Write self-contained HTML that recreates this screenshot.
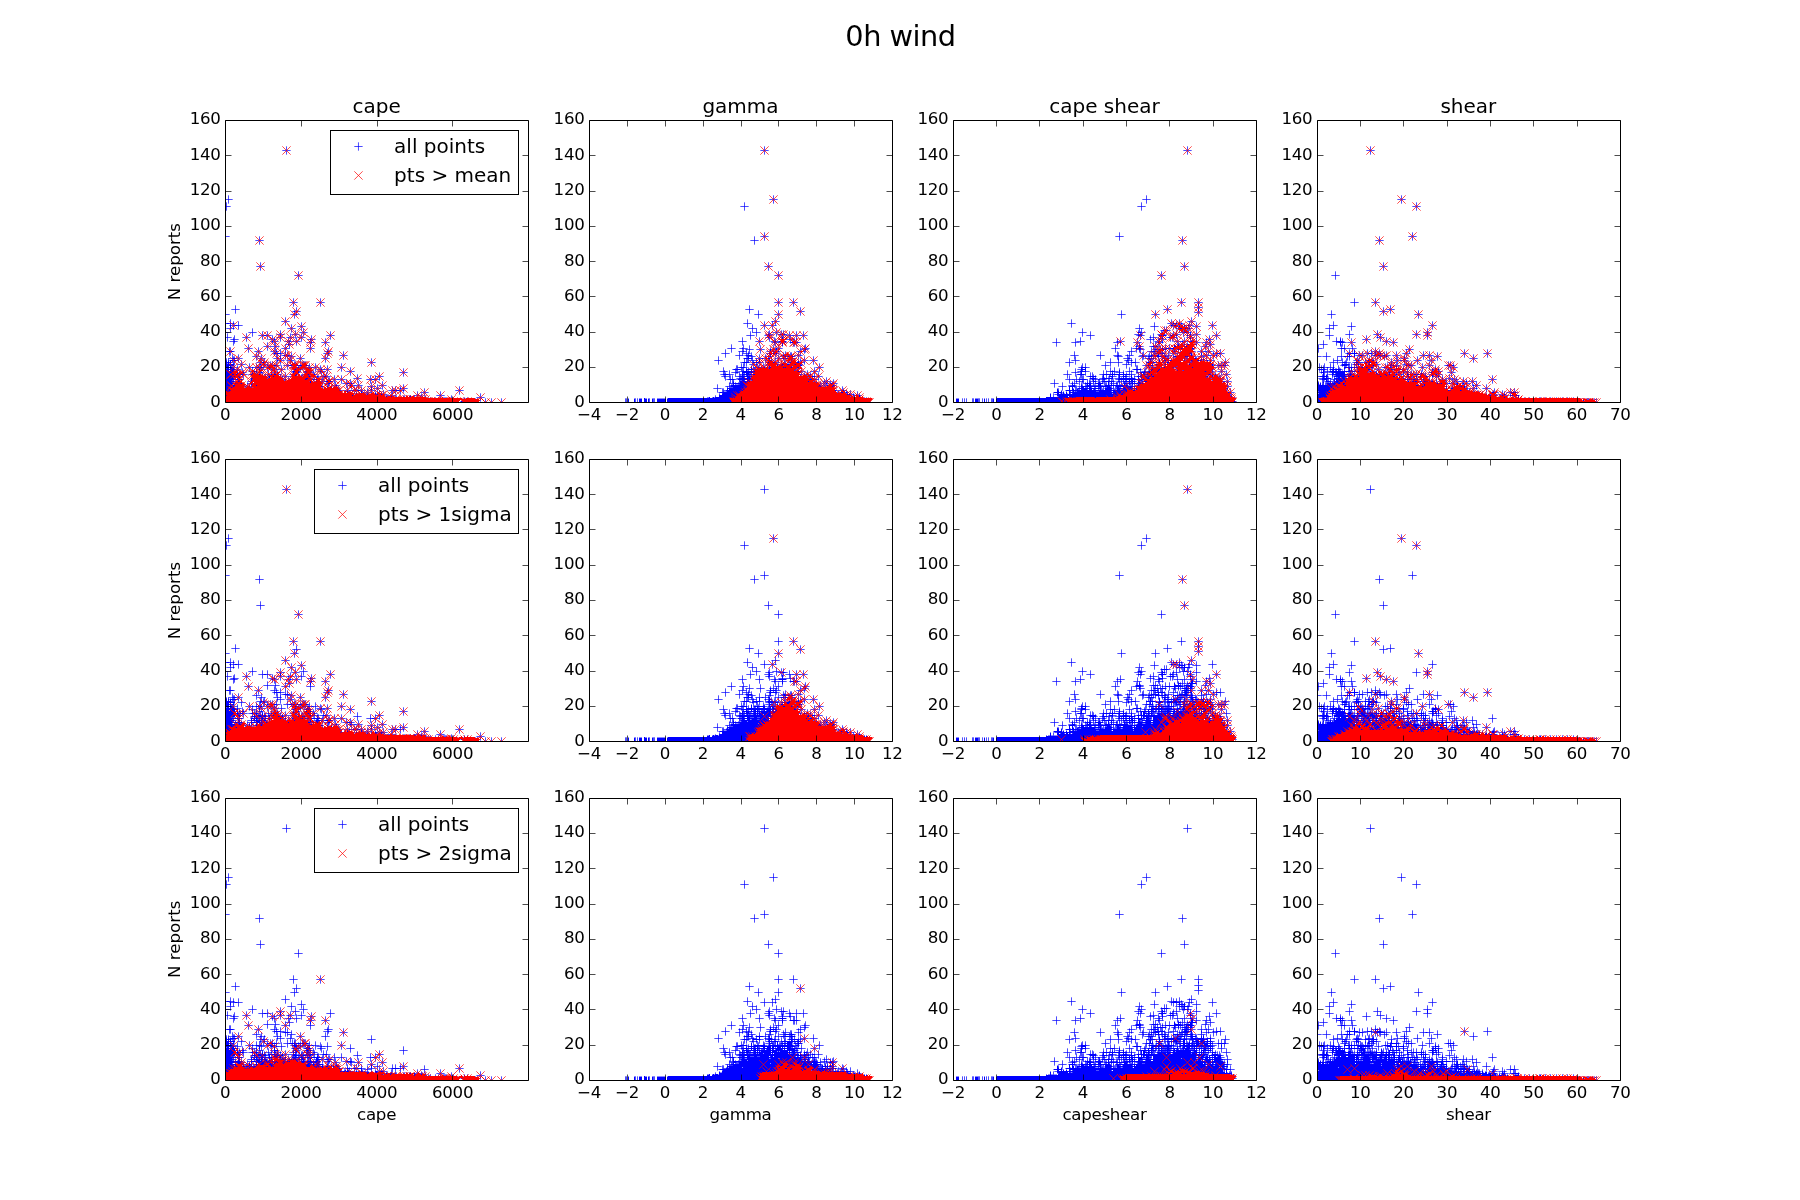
<!DOCTYPE html>
<html><head><meta charset="utf-8"><title>0h wind</title><style>html,body{margin:0;padding:0;background:#fff;width:1800px;height:1200px;overflow:hidden}svg{display:block;will-change:transform}</style></head><body>
<svg width="1800" height="1200" viewBox="0 0 1800 1200">
<defs>
<marker id="b" markerUnits="userSpaceOnUse" overflow="visible" markerWidth="1" markerHeight="1"><path d="M-4.17 0H4.17M0-4.17V4.17" stroke="#0000ff" stroke-width="0.7"/></marker>
<marker id="r" markerUnits="userSpaceOnUse" overflow="visible" markerWidth="1" markerHeight="1"><path d="M-4.17-4.17L4.17 4.17M-4.17 4.17L4.17-4.17" stroke="#ff0000" stroke-width="0.7"/></marker>
<clipPath id="c00"><rect x="225" y="120" width="303" height="282"/></clipPath>
<clipPath id="c01"><rect x="589" y="120" width="303" height="282"/></clipPath>
<clipPath id="c02"><rect x="953" y="120" width="303" height="282"/></clipPath>
<clipPath id="c03"><rect x="1317" y="120" width="303" height="282"/></clipPath>
<clipPath id="c10"><rect x="225" y="459" width="303" height="282"/></clipPath>
<clipPath id="c11"><rect x="589" y="459" width="303" height="282"/></clipPath>
<clipPath id="c12"><rect x="953" y="459" width="303" height="282"/></clipPath>
<clipPath id="c13"><rect x="1317" y="459" width="303" height="282"/></clipPath>
<clipPath id="c20"><rect x="225" y="798" width="303" height="282"/></clipPath>
<clipPath id="c21"><rect x="589" y="798" width="303" height="282"/></clipPath>
<clipPath id="c22"><rect x="953" y="798" width="303" height="282"/></clipPath>
<clipPath id="c23"><rect x="1317" y="798" width="303" height="282"/></clipPath>
</defs>
<rect width="1800" height="1200" fill="#fff"/>
<g clip-path="url(#c00)" fill="none" stroke="none">
<path stroke="#0000ff" stroke-width="1" d="M294 311.5h1M296 314.5h1M227 323.5h2m4 0h1M230 325.5h1m4 0h2M230 326.5h1M233 328.5h1M264 335.5h2m14 0h1M280 336.5h1M233 339.5h1m40 0h1m35 0h1M234 341.5h1m37 0h1m16 0h1M311 342.5h1M288 344.5h1M310 345.5h1M227 351.5h6m43 0h1m50 0h1M274 353.5h6m48 0h1M284 355.5h5M233 358.5h3m44 0h1M230 360.5h7m40 0h1M226 361.5h1m1 0h1m1 0h1M225 362.5h6m30 0h3M226 363.5h1m1 0h1m1 0h1M224 364.5h10m26 0h1m3 0h1M226 365.5h8m33 0h1m3 0h5m13 0h13m4 0h2M226 366.5h3m1 0h1M224 367.5h9m19 0h1m4 0h7m4 0h3m24 0h4m3 0h1m9 0h1M227 368.5h2m1 0h4m60 0h1M224 369.5h11m24 0h1m11 0h1m22 0h2m4 0h1m20 0h1M226 370.5h3m2 0h3m25 0h1m14 0h1M226 371.5h10m18 0h3m17 0h1m18 0h2m3 0h1m6 0h2m13 0h1M226 372.5h9m2 0h1m1 0h1m3 0h1m8 0h1m3 0h1m4 0h1m15 0h1m15 0h1m4 0h1m7 0h1m3 0h1M226 373.5h7m4 0h1m14 0h1m21 0h1m18 0h1m2 0h1M224 374.5h19m8 0h3m3 0h3m11 0h1m2 0h2m20 0h1m10 0h2m5 0h1M226 375.5h9m2 0h1m16 0h1m40 0h1M224 376.5h11m3 0h2m19 0h1m5 0h1m2 0h2m3 0h5m4 0h1m25 0h3m6 0h1m6 0h2M226 377.5h7m6 0h1m14 0h1m14 0h1m7 0h1m15 0h1m1 0h1M225 378.5h9m17 0h2m22 0h1m6 0h1m9 0h2m9 0h5M224 379.5h18m9 0h1m4 0h1m9 0h2m3 0h2m7 0h1m4 0h1m6 0h1m12 0h4m3 0h5m55 0h2M225 380.5h7m6 0h2m11 0h1m17 0h1M224 381.5h10m4 0h2m14 0h1m9 0h2m3 0h1m19 0h2m19 0h1m5 0h4m5 0h7M225 382.5h7m7 0h1m68 0h3M224 383.5h18m46 0h1m19 0h2m7 0h1m10 0h2m17 0h5M225 384.5h7m19 0h1M224 385.5h11m4 0h1m9 0h1m6 0h1m54 0h1m24 0h1m13 0h1M224 386.5h11m14 0h1m71 0h2m4 0h1M225 387.5h8m16 0h1m77 0h1m3 0h1m39 0h1M224 388.5h5m3 0h1m3 0h1m11 0h1m3 0h1m74 0h1m3 0h1m39 0h1m28 0h1M225 389.5h5m103 0h1m37 0h1M224 390.5h7m106 0h3m13 0h7m33 0h6m4 0h1M225 391.5h5m117 0h1m13 0h1M224 392.5h3m120 0h2m12 0h1M225 393.5h1m123 0h1m6 0h1m4 0h1m13 0h1M224 394.5h2m115 0h1m14 0h1m10 0h1m7 0h3m3 0h2M224 395.5h3m125 0h1m15 0h1m2 0h1m4 0h1M386 396.5h1m4 0h1m17 0h2M409 397.5h1m4 0h1m7 0h1M444 398.5h1m23 0h1M224 399.5h1m239 0h1m12 0h1M438 400.5h1M224 401.5h2m235 0h2m14 0h1M224 402.5h1m233 0h5m8 0h2m3 0h5m7 0h1M477 403.5h1"/>
<path marker-start="url(#b)" marker-mid="url(#b)" marker-end="url(#b)" d="M234.5 360.5 232.5 388.5 233.5 379.5 231.5 371.5 227.5 367.5 225.5 381.5 230.5 365.5 228.5 386.5 232.5 371.5 234.5 339.5 226.5 362.5 225.5 332.5 229.5 351.5 232.5 372.5 230.5 378.5 230.5 364.5 232.5 358.5 230.5 328.5 227.5 376.5 233.5 341.5 230.5 369.5 225.5 397.5 227.5 379.5 230.5 323.5 232.5 379.5 230.5 381.5 227.5 337.5 228.5 388.5 231.5 369.5 227.5 369.5 225.5 379.5 225.5 364.5 233.5 371.5 226.5 367.5 231.5 381.5 226.5 364.5 228.5 362.5 295.5 334.5 358.5 385.5 251.5 390.5 435.5 401.5 280.5 353.5 370.5 379.5 258.5 351.5 275.5 346.5 247.5 386.5 428.5 401.5 325.5 358.5 341.5 395.5 287.5 365.5 261.5 358.5 293.5 374.5 241.5 388.5 295.5 379.5 318.5 379.5 294.5 367.5 252.5 374.5 347.5 390.5 285.5 348.5 464.5 401.5 381.5 395.5 453.5 401.5 251.5 383.5 241.5 385.5 237.5 386.5 317.5 381.5 347.5 394.5 251.5 381.5 422.5 399.5 376.5 397.5 296.5 341.5 308.5 371.5 290.5 360.5 235.5 385.5 274.5 351.5 274.5 372.5 264.5 378.5 258.5 379.5 328.5 351.5 386.5 399.5 256.5 356.5 417.5 395.5 260.5 376.5 342.5 397.5 367.5 397.5 237.5 369.5 391.5 395.5 404.5 399.5 289.5 383.5 381.5 397.5 406.5 399.5 256.5 383.5 367.5 392.5 243.5 374.5 426.5 401.5 400.5 390.5 303.5 379.5 327.5 369.5 352.5 397.5 302.5 378.5 403.5 399.5 252.5 371.5 254.5 374.5 268.5 374.5 316.5 385.5 425.5 399.5 260.5 362.5 239.5 374.5 281.5 369.5 289.5 344.5 285.5 355.5 263.5 364.5 349.5 394.5 309.5 379.5 321.5 371.5 248.5 348.5 280.5 360.5 290.5 337.5 348.5 395.5 249.5 367.5 253.5 390.5 296.5 371.5 254.5 378.5 344.5 395.5 395.5 390.5 291.5 356.5 301.5 378.5 333.5 390.5 245.5 390.5 350.5 383.5 276.5 365.5 302.5 365.5 463.5 402.5 303.5 365.5 231.5 374.5 306.5 374.5 371.5 386.5 307.5 371.5 371.5 362.5 262.5 335.5 443.5 401.5 335.5 385.5 282.5 379.5 300.5 367.5 387.5 399.5 410.5 399.5 280.5 378.5 234.5 374.5 256.5 386.5 327.5 353.5 301.5 337.5 256.5 374.5 310.5 379.5 379.5 394.5 345.5 395.5 274.5 369.5 307.5 376.5 305.5 365.5 341.5 379.5 338.5 390.5 287.5 355.5 285.5 383.5 467.5 401.5 285.5 376.5 328.5 388.5 329.5 381.5 249.5 388.5 477.5 402.5 403.5 372.5 271.5 376.5 241.5 364.5 259.5 367.5 357.5 378.5 368.5 397.5 322.5 390.5 274.5 341.5 256.5 367.5 276.5 353.5 254.5 379.5 313.5 374.5 336.5 390.5 310.5 348.5 358.5 397.5 356.5 390.5 473.5 402.5 270.5 365.5 455.5 402.5 307.5 372.5 299.5 378.5 267.5 367.5 314.5 376.5 361.5 394.5 228.5 364.5 242.5 372.5 310.5 383.5 409.5 399.5 323.5 376.5 288.5 381.5 259.5 372.5 327.5 383.5 237.5 374.5 346.5 383.5 293.5 376.5 315.5 367.5 300.5 358.5 446.5 401.5 309.5 367.5 451.5 399.5 298.5 369.5 474.5 402.5 375.5 395.5 354.5 390.5 365.5 397.5 377.5 388.5 320.5 369.5 318.5 386.5 237.5 376.5 265.5 379.5 271.5 367.5 316.5 383.5 438.5 401.5 382.5 385.5 267.5 346.5 233.5 360.5 243.5 388.5 322.5 381.5 421.5 397.5 475.5 402.5 275.5 376.5 371.5 390.5 288.5 341.5 239.5 379.5 229.5 376.5 336.5 388.5 350.5 371.5 292.5 365.5 392.5 390.5 295.5 365.5 424.5 392.5 272.5 365.5 296.5 372.5 280.5 337.5 277.5 358.5 295.5 371.5 444.5 401.5 334.5 379.5 383.5 394.5 395.5 399.5 341.5 367.5 233.5 367.5 262.5 378.5 298.5 379.5 414.5 399.5 371.5 397.5 328.5 381.5 351.5 385.5 238.5 358.5 337.5 392.5 294.5 365.5 310.5 342.5 326.5 376.5 323.5 392.5 396.5 399.5 264.5 362.5 430.5 401.5 238.5 379.5 301.5 379.5 261.5 369.5 262.5 376.5 318.5 388.5 230.5 374.5 277.5 374.5 362.5 395.5 308.5 378.5 355.5 397.5 317.5 379.5 465.5 402.5 309.5 372.5 366.5 397.5 284.5 383.5 272.5 339.5 230.5 351.5 304.5 365.5 361.5 390.5 228.5 199.5 226.5 206.5 225.5 236.5 286.5 150.5 259.5 240.5 260.5 266.5 298.5 275.5 293.5 302.5 320.5 302.5 296.5 311.5 294.5 314.5 285.5 321.5 235.5 309.5 225.5 314.5 233.5 325.5 238.5 325.5 225.5 323.5 291.5 328.5 301.5 326.5 303.5 332.5 252.5 332.5 246.5 337.5 267.5 335.5 280.5 334.5 330.5 335.5 325.5 342.5 311.5 339.5 343.5 355.5 440.5 395.5 459.5 390.5 480.5 397.5 491.5 402.5 501.5 402.5 485.5 402.5 445.5 401.5 379.5 376.5 375.5 379.5 403.5 388.5"/>
<path stroke="#ff0000" stroke-width="1" d="M286 150.5h1M259 240.5h1M260 266.5h1M298 275.5h1M293 302.5h1m26 0h1M296 311.5h1M294 314.5h1M285 321.5h1M233 325.5h1M301 326.5h1M291 328.5h1M303 332.5h1M280 334.5h1m14 0h1M262 335.5h1m4 0h1m62 0h1M246 337.5h1m23 0h1m9 0h1m9 0h1m1 0h1m8 0h1M271 338.5h1m19 0h1m7 0h1M272 339.5h1m38 0h1M273 340.5h1m13 0h1m24 0h1M274 341.5h1m13 0h1m7 0h1m12 0h1M275 342.5h1m11 0h1m22 0h1m14 0h1M272 343.5h1m17 0h1M277 344.5h1m11 0h1M288 345.5h1m18 0h1m5 0h1M267 346.5h1m7 0h1m11 0h1M286 347.5h1M248 348.5h1m28 0h1m7 0h1m24 0h1M272 349.5h1M273 350.5h1M230 351.5h1m27 0h1m15 0h1m53 0h1M275 352.5h1M276 353.5h1m50 0h1M277 354.5h1m8 0h1M274 355.5h1m10 0h3m55 0h1M256 356.5h1m22 0h1m6 0h1m4 0h1M283 357.5h1m3 0h1M238 358.5h1m22 0h1m15 0h1m4 0h1m5 0h1m11 0h1m24 0h1M289 359.5h1M233 360.5h1m25 0h1m2 0h1m17 0h1m9 0h1M266 361.5h1m13 0h1m10 0h1M260 362.5h1m3 0h2m7 0h1m18 0h1m78 0h1M263 363.5h1m10 0h1m15 0h1m2 0h1m2 0h1m7 0h2M241 364.5h1m20 0h2m7 0h1m19 0h7m4 0h5m5 0h1M257 365.5h1m3 0h1m3 0h1m3 0h4m3 0h1m10 0h1m4 0h4m6 0h4M234 366.5h1m23 0h1m1 0h1m3 0h1m3 0h5m4 0h1m15 0h3m5 0h4M233 367.5h1m15 0h1m6 0h1m2 0h1m7 0h1m3 0h4m17 0h5m3 0h5m4 0h1m5 0h1m25 0h1M255 368.5h1m4 0h1m6 0h4m2 0h3m16 0h4m1 0h5m3 0h4m1 0h2M237 369.5h1m16 0h1m6 0h1m7 0h1m4 0h1m6 0h1m11 0h1m2 0h4m6 0h5m9 0h1m6 0h1M230 370.5h1m5 0h1m1 0h1m13 0h2m2 0h1m3 0h3m9 0h2m20 0h5m7 0h7M231 371.5h1m2 0h4m2 0h1m11 0h2m5 0h2m2 0h1m7 0h1m3 0h1m19 0h3m9 0h4m10 0h1m28 0h1M232 372.5h5m4 0h2m11 0h1m3 0h2m11 0h1m2 0h2m2 0h2m15 0h3m9 0h3m12 0h1m80 0h1M233 373.5h3m2 0h4m11 0h3m1 0h1m19 0h2m15 0h4m7 0h6m12 0h1M230 374.5h2m2 0h2m1 0h3m3 0h1m8 0h7m1 0h1m7 0h1m3 0h2m2 0h2m14 0h4m2 0h2m4 0h3m2 0h5m10 0h1M233 375.5h7m11 0h12m2 0h1m1 0h1m1 0h10m13 0h3m3 0h2m4 0h4m3 0h4m10 0h1M232 376.5h1m2 0h3m3 0h1m10 0h15m3 0h3m1 0h6m5 0h1m6 0h10m1 0h5m3 0h5m7 0h1m2 0h1m52 0h1M231 377.5h1m2 0h4m2 0h1m11 0h16m3 0h11m2 0h1m7 0h18m3 0h1m1 0h2m7 0h2M235 378.5h1m2 0h2m13 0h13m2 0h16m7 0h14m3 0h3m5 0h4m5 0h1m31 0h1M238 379.5h2m13 0h30m7 0h15m2 0h5m5 0h4m2 0h1m2 0h1m4 0h1m2 0h1m6 0h1m28 0h1m4 0h1M241 380.5h1m10 0h32m3 0h25m1 0h1m2 0h4m7 0h4M236 381.5h2m2 0h2m9 0h58m2 0h2m4 0h4m1 0h1m5 0h2m18 0h1M235 382.5h7m8 0h3m2 0h55m1 0h11m6 0h1m9 0h1M233 383.5h2m3 0h2m2 0h2m6 0h2m1 0h69m5 0h1m2 0h1m15 0h1m3 0h1M234 384.5h12m6 0h69m4 0h2m5 0h1M231 385.5h1m3 0h9m2 0h1m5 0h4m1 0h65m3 0h1m9 0h1m12 0h1m2 0h1m6 0h1m23 0h1M231 386.5h2m2 0h9m3 0h2m2 0h70m2 0h1m6 0h2m2 0h1m15 0h3m18 0h1M229 387.5h2m2 0h11m2 0h5m3 0h67m3 0h2m2 0h3m2 0h5m12 0h1m2 0h1M229 388.5h94m1 0h15m15 0h1m14 0h1m3 0h1m3 0h1m25 0h1M230 389.5h110m15 0h1m14 0h1M231 390.5h108m8 0h1m6 0h3m4 0h1m9 0h1m3 0h1m16 0h1m2 0h1m4 0h1m58 0h1M226 391.5h1m3 0h112m2 0h3m5 0h1m2 0h1m2 0h1m21 0h1M225 392.5h116m4 0h1m3 0h3m7 0h1m3 0h1m3 0h1m5 0h1m4 0h1m2 0h1m12 0h1m29 0h1M226 393.5h128m5 0h6m3 0h1m2 0h3m3 0h4m8 0h1M226 394.5h128m1 0h11m3 0h6m3 0h3m2 0h1m34 0h1M227 395.5h125m1 0h31m6 0h2m25 0h1m22 0h1M225 396.5h160m3 0h3m1 0h2m12 0h2m4 0h2m6 0h1m1 0h1M224 397.5h202m16 0h1m6 0h1m30 0h1M224 398.5h238m2 0h1m1 0h9m6 0h1M225 399.5h254m1 0h1m1 0h1m5 0h1M226 400.5h234m2 0h18m3 0h1M226 401.5h233m4 0h16M225 402.5h233m5 0h15m7 0h1m5 0h1m9 0h1M225 403.5h234m3 0h17"/>
<path marker-start="url(#r)" marker-mid="url(#r)" marker-end="url(#r)" d="M295.5 334.5 358.5 385.5 375.5 397.5 275.5 381.5 239.5 386.5 251.5 390.5 435.5 401.5 370.5 379.5 334.5 392.5 258.5 351.5 275.5 346.5 277.5 381.5 247.5 386.5 428.5 401.5 234.5 394.5 274.5 383.5 325.5 358.5 277.5 379.5 341.5 395.5 230.5 395.5 287.5 365.5 232.5 395.5 261.5 358.5 266.5 385.5 228.5 395.5 293.5 374.5 241.5 388.5 295.5 379.5 318.5 379.5 259.5 386.5 294.5 367.5 252.5 374.5 347.5 390.5 240.5 390.5 280.5 383.5 320.5 392.5 285.5 348.5 464.5 401.5 381.5 395.5 453.5 401.5 466.5 402.5 251.5 383.5 241.5 385.5 237.5 386.5 317.5 381.5 347.5 394.5 307.5 383.5 291.5 385.5 251.5 381.5 422.5 399.5 294.5 381.5 269.5 383.5 468.5 402.5 296.5 341.5 308.5 371.5 290.5 360.5 235.5 385.5 405.5 401.5 337.5 395.5 228.5 402.5 441.5 402.5 274.5 351.5 274.5 372.5 264.5 378.5 294.5 385.5 258.5 379.5 336.5 395.5 328.5 351.5 439.5 402.5 327.5 390.5 257.5 379.5 282.5 383.5 386.5 399.5 339.5 394.5 451.5 402.5 256.5 356.5 229.5 399.5 229.5 394.5 417.5 395.5 313.5 386.5 260.5 376.5 289.5 385.5 367.5 397.5 237.5 369.5 391.5 395.5 404.5 399.5 289.5 383.5 381.5 397.5 406.5 399.5 256.5 383.5 367.5 392.5 243.5 374.5 374.5 399.5 426.5 401.5 400.5 390.5 346.5 397.5 238.5 383.5 262.5 381.5 303.5 379.5 327.5 369.5 235.5 392.5 409.5 401.5 352.5 397.5 302.5 378.5 403.5 399.5 252.5 371.5 309.5 388.5 254.5 374.5 457.5 402.5 268.5 374.5 231.5 385.5 277.5 383.5 316.5 385.5 269.5 379.5 371.5 399.5 425.5 399.5 260.5 362.5 249.5 390.5 239.5 374.5 305.5 386.5 281.5 369.5 289.5 344.5 308.5 386.5 285.5 355.5 452.5 402.5 263.5 364.5 349.5 394.5 231.5 390.5 309.5 379.5 321.5 371.5 248.5 348.5 228.5 399.5 338.5 394.5 280.5 360.5 331.5 390.5 271.5 383.5 326.5 392.5 290.5 337.5 348.5 395.5 337.5 397.5 313.5 388.5 261.5 379.5 249.5 367.5 253.5 390.5 280.5 381.5 296.5 371.5 254.5 378.5 328.5 392.5 256.5 378.5 395.5 390.5 291.5 356.5 301.5 378.5 333.5 390.5 245.5 390.5 448.5 402.5 350.5 383.5 276.5 365.5 302.5 365.5 236.5 390.5 463.5 402.5 390.5 399.5 304.5 383.5 267.5 385.5 229.5 397.5 303.5 365.5 231.5 374.5 243.5 390.5 306.5 374.5 371.5 386.5 307.5 371.5 316.5 388.5 371.5 362.5 262.5 335.5 308.5 385.5 443.5 401.5 334.5 394.5 232.5 394.5 333.5 392.5 335.5 385.5 282.5 379.5 300.5 367.5 387.5 399.5 410.5 399.5 464.5 402.5 292.5 386.5 280.5 378.5 234.5 374.5 256.5 386.5 327.5 353.5 406.5 401.5 301.5 337.5 240.5 388.5 419.5 401.5 349.5 397.5 295.5 381.5 238.5 388.5 435.5 402.5 256.5 374.5 315.5 386.5 310.5 379.5 379.5 394.5 356.5 397.5 345.5 395.5 274.5 369.5 231.5 386.5 307.5 376.5 231.5 395.5 305.5 365.5 341.5 379.5 256.5 392.5 338.5 390.5 287.5 355.5 251.5 392.5 318.5 390.5 285.5 383.5 379.5 399.5 274.5 376.5 467.5 401.5 239.5 390.5 285.5 376.5 328.5 388.5 329.5 381.5 249.5 388.5 322.5 392.5 447.5 402.5 477.5 402.5 403.5 372.5 338.5 397.5 271.5 376.5 241.5 364.5 259.5 367.5 470.5 402.5 357.5 378.5 368.5 397.5 347.5 397.5 322.5 390.5 274.5 341.5 256.5 367.5 276.5 353.5 254.5 379.5 317.5 386.5 286.5 386.5 313.5 374.5 336.5 390.5 310.5 348.5 358.5 397.5 356.5 390.5 473.5 402.5 270.5 365.5 455.5 402.5 307.5 372.5 299.5 378.5 259.5 381.5 331.5 392.5 267.5 367.5 314.5 376.5 361.5 394.5 232.5 390.5 373.5 399.5 239.5 388.5 242.5 372.5 368.5 399.5 249.5 392.5 310.5 383.5 409.5 399.5 323.5 376.5 288.5 381.5 319.5 386.5 296.5 381.5 259.5 372.5 327.5 383.5 272.5 385.5 237.5 374.5 375.5 399.5 346.5 383.5 293.5 376.5 315.5 367.5 300.5 358.5 446.5 401.5 309.5 367.5 451.5 399.5 298.5 369.5 474.5 402.5 375.5 395.5 354.5 390.5 264.5 383.5 293.5 385.5 365.5 397.5 377.5 388.5 320.5 369.5 318.5 386.5 237.5 376.5 265.5 379.5 271.5 367.5 316.5 383.5 438.5 401.5 382.5 385.5 274.5 379.5 267.5 346.5 367.5 399.5 233.5 360.5 233.5 392.5 361.5 397.5 243.5 388.5 322.5 381.5 295.5 378.5 421.5 397.5 475.5 402.5 275.5 376.5 303.5 383.5 371.5 390.5 288.5 341.5 239.5 379.5 336.5 388.5 284.5 386.5 256.5 390.5 350.5 371.5 301.5 381.5 292.5 365.5 391.5 399.5 392.5 390.5 295.5 365.5 424.5 392.5 272.5 365.5 296.5 372.5 280.5 337.5 277.5 358.5 295.5 371.5 444.5 401.5 334.5 379.5 383.5 394.5 395.5 399.5 341.5 367.5 233.5 367.5 262.5 378.5 256.5 381.5 411.5 401.5 298.5 379.5 414.5 399.5 239.5 383.5 328.5 381.5 351.5 385.5 292.5 381.5 238.5 358.5 337.5 392.5 260.5 388.5 294.5 365.5 310.5 342.5 359.5 397.5 326.5 376.5 323.5 392.5 396.5 399.5 264.5 362.5 430.5 401.5 238.5 379.5 437.5 402.5 301.5 379.5 261.5 369.5 293.5 383.5 262.5 376.5 410.5 401.5 318.5 388.5 277.5 378.5 377.5 397.5 230.5 374.5 277.5 374.5 362.5 395.5 308.5 378.5 355.5 397.5 230.5 399.5 317.5 379.5 465.5 402.5 309.5 372.5 366.5 397.5 284.5 383.5 233.5 390.5 272.5 339.5 230.5 351.5 304.5 365.5 361.5 390.5 286.5 150.5 259.5 240.5 260.5 266.5 298.5 275.5 293.5 302.5 320.5 302.5 296.5 311.5 294.5 314.5 285.5 321.5 233.5 325.5 291.5 328.5 301.5 326.5 303.5 332.5 246.5 337.5 267.5 335.5 280.5 334.5 330.5 335.5 325.5 342.5 311.5 339.5 343.5 355.5 440.5 395.5 459.5 390.5 480.5 397.5 491.5 402.5 501.5 402.5 454.5 402.5 485.5 402.5 445.5 401.5 379.5 376.5 375.5 379.5 403.5 388.5"/>
</g>
<g clip-path="url(#c10)" fill="none" stroke="none">
<path stroke="#0000ff" stroke-width="1" d="M227 662.5h2m4 0h1M230 664.5h1m4 0h2M230 665.5h1M233 667.5h1M280 673.5h1M264 674.5h2m14 0h1M280 675.5h1M288 676.5h1M233 678.5h1m40 0h1m35 0h1M234 679.5h1m37 0h1m17 0h1M311 681.5h1M310 683.5h1M310 684.5h1M227 690.5h6m43 0h1m50 0h1M274 692.5h6m48 0h1M284 694.5h5M233 697.5h3m44 0h1M226 699.5h1m1 0h1m1 0h7m40 0h1M226 700.5h1m1 0h1m1 0h1M225 701.5h6m30 0h3M224 702.5h11m25 0h1m3 0h1M226 703.5h3m1 0h1M226 704.5h8m33 0h1m3 0h5m13 0h19M226 705.5h3m1 0h1m63 0h1M224 706.5h9m19 0h1m3 0h6m6 0h3m3 0h1m17 0h7m3 0h2m3 0h2m3 0h1M227 707.5h2m1 0h4m60 0h1M224 708.5h11m24 0h1m11 0h1m22 0h2m4 0h1m6 0h3m11 0h1M226 709.5h12m11 0h1m6 0h1m2 0h1m14 0h1m18 0h6m6 0h6m9 0h1M226 710.5h3m1 0h5m17 0h1m21 0h1m32 0h1M226 711.5h9m2 0h1m1 0h1m3 0h1m8 0h1m3 0h1m4 0h1m15 0h1m15 0h1m4 0h1m7 0h1m3 0h1M226 712.5h7m4 0h1m14 0h1m21 0h1m18 0h1m2 0h1m10 0h1M224 713.5h19m8 0h7m4 0h1m8 0h1m2 0h2m4 0h1m14 0h2m10 0h2m5 0h1M226 714.5h7m1 0h1m2 0h1m16 0h1m1 0h1m5 0h1m11 0h1M224 715.5h11m3 0h2m14 0h1m1 0h10m2 0h6m3 0h1m4 0h1m26 0h5m3 0h1m5 0h3M225 716.5h10m4 0h1m12 0h14m3 0h1m8 0h5m10 0h1m4 0h1m3 0h5m3 0h1M225 717.5h6m23 0h1m1 0h1m4 0h2m6 0h1m5 0h1m25 0h1m15 0h1M224 718.5h18m9 0h22m7 0h1m4 0h1m6 0h2m6 0h21m51 0h2M225 719.5h7m6 0h2m11 0h1m2 0h1m1 0h1m4 0h2m1 0h1m4 0h1m12 0h1m12 0h1m7 0h1m13 0h1M224 720.5h10m4 0h2m11 0h15m3 0h1m4 0h1m8 0h1m5 0h2m3 0h1m3 0h1m4 0h2m5 0h1m5 0h5m4 0h7M225 721.5h7m7 0h1m11 0h1m4 0h4m1 0h1m4 0h1m15 0h1m20 0h1m6 0h1m5 0h2M224 722.5h18m9 0h17m4 0h1m15 0h1m13 0h1m5 0h2m3 0h1m3 0h3m8 0h2m17 0h5M225 723.5h7m7 0h1m11 0h1m4 0h1m2 0h4m50 0h1M224 724.5h11m3 0h3m8 0h1m6 0h1m3 0h6m20 0h1m22 0h3m24 0h1m13 0h1M224 725.5h12m13 0h1m5 0h2m3 0h3m58 0h2m4 0h1M225 726.5h8m16 0h1m13 0h1m63 0h1m3 0h1m39 0h1M224 727.5h5m3 0h5m6 0h2m3 0h1m3 0h3m3 0h1m68 0h1m3 0h1m39 0h1m28 0h1M225 728.5h5m103 0h1m37 0h1M224 729.5h7m3 0h1m104 0h1m9 0h1m3 0h7m33 0h6m4 0h1M225 730.5h5m117 0h1m13 0h1M224 731.5h3m120 0h1m13 0h1M224 732.5h2m114 0h3m5 0h1m7 0h1m5 0h1m12 0h2m3 0h3M225 733.5h1m130 0h1m10 0h1m7 0h2m4 0h1M224 734.5h3m125 0h1m7 0h1m4 0h4m2 0h1m4 0h1M381 735.5h1m22 0h1m4 0h1m4 0h2m5 0h1M224 736.5h1m161 0h1m4 0h1m22 0h2m6 0h1m41 0h1M468 737.5h1M224 738.5h1m232 0h1m6 0h1m12 0h1M224 739.5h2m212 0h1m22 0h2M477 740.5h1M224 741.5h1m211 0h1m3 0h1m17 0h4m9 0h2m3 0h5m7 0h1M477 742.5h1"/>
<path marker-start="url(#b)" marker-mid="url(#b)" marker-end="url(#b)" d="M234.5 699.5 232.5 727.5 233.5 718.5 231.5 709.5 227.5 706.5 230.5 704.5 228.5 725.5 232.5 709.5 234.5 678.5 226.5 701.5 225.5 671.5 229.5 690.5 232.5 711.5 230.5 702.5 232.5 697.5 230.5 667.5 227.5 715.5 233.5 679.5 225.5 736.5 227.5 718.5 232.5 713.5 230.5 662.5 232.5 718.5 230.5 720.5 227.5 676.5 228.5 727.5 231.5 708.5 227.5 708.5 225.5 718.5 225.5 702.5 233.5 709.5 226.5 706.5 231.5 720.5 226.5 702.5 228.5 701.5 295.5 672.5 358.5 724.5 251.5 729.5 435.5 739.5 280.5 692.5 370.5 718.5 258.5 690.5 275.5 685.5 247.5 725.5 428.5 739.5 325.5 697.5 277.5 718.5 341.5 734.5 287.5 704.5 261.5 697.5 266.5 724.5 293.5 713.5 241.5 727.5 295.5 718.5 318.5 718.5 294.5 706.5 252.5 713.5 347.5 729.5 285.5 686.5 464.5 739.5 381.5 734.5 453.5 739.5 251.5 722.5 241.5 724.5 237.5 725.5 317.5 720.5 347.5 732.5 307.5 722.5 369.5 738.5 251.5 720.5 422.5 738.5 294.5 720.5 296.5 679.5 308.5 709.5 290.5 699.5 235.5 724.5 405.5 739.5 397.5 739.5 274.5 690.5 274.5 711.5 264.5 716.5 258.5 718.5 261.5 727.5 328.5 690.5 263.5 725.5 257.5 718.5 386.5 738.5 256.5 695.5 417.5 734.5 260.5 715.5 367.5 736.5 237.5 708.5 391.5 734.5 404.5 738.5 289.5 722.5 406.5 738.5 256.5 722.5 367.5 731.5 243.5 713.5 426.5 739.5 400.5 729.5 238.5 722.5 262.5 720.5 303.5 718.5 327.5 708.5 352.5 736.5 302.5 716.5 403.5 738.5 252.5 709.5 254.5 713.5 457.5 741.5 268.5 713.5 316.5 724.5 269.5 718.5 425.5 738.5 268.5 725.5 260.5 701.5 239.5 713.5 281.5 708.5 289.5 683.5 308.5 725.5 285.5 694.5 263.5 702.5 349.5 732.5 262.5 725.5 309.5 718.5 321.5 709.5 248.5 686.5 338.5 732.5 280.5 699.5 326.5 731.5 290.5 676.5 348.5 734.5 261.5 718.5 249.5 706.5 253.5 729.5 296.5 709.5 254.5 716.5 344.5 734.5 256.5 716.5 395.5 729.5 291.5 695.5 301.5 716.5 333.5 729.5 245.5 729.5 260.5 725.5 350.5 722.5 276.5 704.5 302.5 704.5 463.5 741.5 304.5 722.5 267.5 724.5 303.5 704.5 231.5 713.5 306.5 713.5 371.5 725.5 307.5 709.5 371.5 701.5 262.5 674.5 308.5 724.5 443.5 739.5 335.5 724.5 282.5 718.5 300.5 706.5 387.5 738.5 410.5 738.5 280.5 716.5 234.5 713.5 256.5 725.5 327.5 692.5 398.5 739.5 301.5 676.5 240.5 727.5 238.5 727.5 256.5 713.5 315.5 725.5 379.5 732.5 274.5 708.5 307.5 715.5 305.5 704.5 341.5 718.5 338.5 729.5 287.5 694.5 285.5 722.5 274.5 715.5 467.5 739.5 285.5 715.5 328.5 727.5 329.5 720.5 249.5 727.5 299.5 724.5 477.5 741.5 403.5 711.5 271.5 715.5 241.5 702.5 259.5 706.5 470.5 741.5 357.5 716.5 368.5 736.5 322.5 729.5 274.5 679.5 256.5 706.5 276.5 692.5 254.5 718.5 313.5 713.5 336.5 729.5 310.5 686.5 358.5 736.5 356.5 729.5 473.5 741.5 270.5 704.5 307.5 711.5 299.5 716.5 259.5 720.5 267.5 706.5 314.5 715.5 361.5 732.5 228.5 702.5 242.5 711.5 310.5 722.5 409.5 738.5 323.5 715.5 288.5 720.5 319.5 725.5 259.5 711.5 327.5 722.5 237.5 713.5 346.5 722.5 293.5 715.5 315.5 706.5 300.5 697.5 446.5 739.5 309.5 706.5 451.5 738.5 298.5 708.5 474.5 741.5 375.5 734.5 354.5 729.5 365.5 736.5 377.5 727.5 320.5 708.5 318.5 725.5 237.5 715.5 265.5 718.5 271.5 706.5 316.5 722.5 438.5 739.5 382.5 724.5 267.5 685.5 233.5 699.5 243.5 727.5 322.5 720.5 270.5 724.5 295.5 716.5 421.5 736.5 475.5 741.5 275.5 715.5 371.5 729.5 288.5 679.5 239.5 718.5 229.5 715.5 336.5 727.5 350.5 709.5 292.5 704.5 392.5 729.5 295.5 704.5 424.5 731.5 272.5 704.5 296.5 711.5 280.5 676.5 277.5 697.5 295.5 709.5 444.5 739.5 334.5 718.5 383.5 732.5 395.5 738.5 341.5 706.5 233.5 706.5 262.5 716.5 256.5 720.5 311.5 727.5 298.5 718.5 414.5 738.5 371.5 736.5 239.5 722.5 328.5 720.5 351.5 724.5 292.5 720.5 238.5 697.5 337.5 731.5 260.5 727.5 294.5 704.5 310.5 681.5 326.5 715.5 323.5 731.5 396.5 738.5 264.5 701.5 430.5 739.5 238.5 718.5 301.5 718.5 261.5 708.5 293.5 722.5 262.5 715.5 318.5 727.5 277.5 716.5 377.5 736.5 277.5 713.5 362.5 734.5 308.5 716.5 355.5 736.5 317.5 718.5 259.5 724.5 309.5 711.5 366.5 736.5 284.5 722.5 272.5 678.5 230.5 690.5 304.5 704.5 361.5 729.5 228.5 538.5 226.5 545.5 225.5 575.5 286.5 489.5 259.5 579.5 260.5 605.5 298.5 614.5 293.5 641.5 320.5 641.5 296.5 649.5 294.5 653.5 285.5 660.5 235.5 648.5 225.5 653.5 233.5 664.5 238.5 664.5 225.5 662.5 291.5 667.5 301.5 665.5 303.5 671.5 252.5 671.5 246.5 676.5 267.5 674.5 280.5 672.5 330.5 674.5 325.5 681.5 311.5 678.5 343.5 694.5 440.5 734.5 459.5 729.5 480.5 736.5 491.5 741.5 501.5 741.5 485.5 741.5 445.5 739.5 379.5 715.5 375.5 718.5 403.5 727.5"/>
<path stroke="#ff0000" stroke-width="1" d="M286 489.5h1M298 614.5h1M293 641.5h1m26 0h1M294 653.5h1M285 660.5h1M301 665.5h1M291 667.5h1M280 672.5h1m14 0h1M278 674.5h1m3 0h1m47 0h1M292 675.5h1M246 676.5h1m33 0h1m9 0h2M272 678.5h1m38 0h1M274 679.5h1m13 0h1m7 0h1m15 0h1M286 680.5h1m22 0h1M310 681.5h1m14 0h1M289 683.5h1M248 686.5h1m36 0h1M258 690.5h1m69 0h1M327 692.5h1M343 694.5h1M291 695.5h1M238 697.5h1m61 0h1m24 0h1M290 699.5h1M292 701.5h1m78 0h1M263 702.5h1m29 0h1m10 0h1M262 703.5h1m1 0h1m6 0h1m19 0h1m2 0h1m2 0h1m5 0h1M261 704.5h1m3 0h1m3 0h4m19 0h1m2 0h1m6 0h4M258 705.5h1m1 0h1m5 0h1m4 0h2m20 0h3m5 0h3M233 706.5h1m15 0h1m9 0h1m7 0h1m3 0h2m20 0h2m5 0h1m3 0h1m36 0h1M260 707.5h1m9 0h1m2 0h1m1 0h1m16 0h4m1 0h5m3 0h1M261 708.5h1m7 0h1m4 0h1m21 0h4m6 0h1m13 0h1m6 0h1M230 709.5h1m31 0h1m10 0h1m21 0h3m9 0h1m42 0h1M231 710.5h1m5 0h1m25 0h1m11 0h1m19 0h2m9 0h5M232 711.5h1m3 0h1m4 0h1m32 0h2m19 0h3m9 0h3m93 0h1M233 712.5h3m4 0h1m32 0h6m13 0h1m1 0h4m6 0h7M234 713.5h2m3 0h1m3 0h1m10 0h1m4 0h1m12 0h2m2 0h2m5 0h1m9 0h1m4 0h1m6 0h2m2 0h3m1 0h1M233 714.5h3m2 0h1m34 0h6m13 0h3m2 0h3m5 0h3m2 0h1m1 0h1M232 715.5h1m3 0h2m3 0h1m29 0h1m2 0h6m5 0h1m6 0h4m2 0h4m4 0h3m2 0h1m14 0h1m52 0h1M231 716.5h1m4 0h2m2 0h1m15 0h1m5 0h1m8 0h7m2 0h1m3 0h1m7 0h6m1 0h3m3 0h5m15 0h1M239 717.5h1m32 0h12m7 0h1m2 0h11m3 0h3m14 0h1M238 718.5h1m21 0h1m3 0h1m4 0h1m3 0h7m2 0h1m7 0h1m3 0h6m3 0h2m4 0h2m23 0h1m6 0h1m33 0h1M259 719.5h1m8 0h1m2 0h1m2 0h10m5 0h1m6 0h9m5 0h2m18 0h1M262 720.5h1m8 0h15m1 0h7m1 0h13m4 0h1m9 0h1m5 0h2m18 0h1M238 721.5h1m24 0h2m4 0h39m3 0h3m7 0h1m16 0h1M264 722.5h2m2 0h20m1 0h19m2 0h1m3 0h3m1 0h3m9 0h1m15 0h1m3 0h1M236 723.5h1m5 0h4m11 0h1m6 0h46m5 0h6m4 0h1m6 0h1M235 724.5h3m3 0h3m2 0h1m5 0h1m5 0h2m3 0h46m3 0h8m5 0h1m9 0h1m12 0h1m9 0h1m23 0h1M236 725.5h8m3 0h1m3 0h1m5 0h3m3 0h58m10 0h1m2 0h1m36 0h1M233 726.5h11m2 0h5m5 0h65m3 0h1m3 0h3m2 0h5M229 727.5h6m2 0h86m1 0h15m30 0h1m3 0h1m3 0h1m25 0h1M230 728.5h110m15 0h1m14 0h1M226 729.5h1m4 0h108m8 0h1m6 0h3m4 0h1m9 0h1m20 0h1m2 0h1m63 0h1M227 730.5h1m2 0h112m3 0h1m9 0h1m25 0h1M225 731.5h1m1 0h114m4 0h1m2 0h4m7 0h1m7 0h1m5 0h1m4 0h1m15 0h1m29 0h1M226 732.5h114m3 0h11m5 0h6m3 0h1m3 0h2m5 0h1m3 0h1m5 0h1M226 733.5h128m1 0h11m3 0h1m2 0h3m3 0h3m3 0h1m33 0h1M227 734.5h157m6 0h2m25 0h1m22 0h1M224 735.5h190m3 0h4m1 0h4M225 736.5h200m17 0h1m6 0h1m11 0h1m5 0h1m12 0h1M224 737.5h233m2 0h4m1 0h11m6 0h1M225 738.5h254m1 0h1m1 0h1m5 0h1M226 739.5h234m3 0h17m3 0h1M226 740.5h233m4 0h16M225 741.5h233m4 0h16m7 0h1m5 0h1m9 0h1M224 742.5h235m2 0h18"/>
<path marker-start="url(#r)" marker-mid="url(#r)" marker-end="url(#r)" d="M295.5 672.5 358.5 724.5 375.5 736.5 251.5 729.5 390.5 739.5 334.5 731.5 258.5 690.5 277.5 720.5 247.5 725.5 428.5 739.5 382.5 739.5 234.5 732.5 274.5 722.5 325.5 697.5 341.5 734.5 230.5 734.5 232.5 734.5 228.5 734.5 303.5 724.5 293.5 713.5 241.5 727.5 295.5 718.5 294.5 706.5 347.5 729.5 280.5 722.5 320.5 731.5 285.5 686.5 464.5 739.5 453.5 739.5 466.5 741.5 352.5 738.5 241.5 724.5 453.5 741.5 347.5 732.5 307.5 722.5 293.5 725.5 291.5 724.5 407.5 739.5 369.5 738.5 422.5 738.5 275.5 720.5 468.5 741.5 376.5 736.5 296.5 679.5 290.5 699.5 235.5 724.5 405.5 739.5 290.5 727.5 337.5 734.5 228.5 741.5 240.5 729.5 441.5 741.5 274.5 725.5 444.5 741.5 274.5 711.5 283.5 724.5 261.5 727.5 265.5 727.5 328.5 690.5 327.5 729.5 250.5 731.5 282.5 722.5 376.5 738.5 386.5 738.5 339.5 732.5 229.5 732.5 417.5 734.5 282.5 727.5 313.5 725.5 366.5 738.5 289.5 724.5 284.5 727.5 391.5 734.5 404.5 738.5 381.5 736.5 406.5 738.5 259.5 725.5 399.5 739.5 271.5 725.5 367.5 731.5 395.5 739.5 243.5 713.5 374.5 738.5 426.5 739.5 263.5 729.5 346.5 736.5 262.5 720.5 303.5 718.5 261.5 731.5 327.5 708.5 235.5 731.5 409.5 739.5 352.5 736.5 403.5 738.5 309.5 727.5 254.5 713.5 457.5 741.5 261.5 729.5 277.5 722.5 272.5 725.5 269.5 718.5 371.5 738.5 425.5 738.5 268.5 725.5 249.5 729.5 239.5 713.5 289.5 683.5 263.5 702.5 349.5 732.5 231.5 729.5 309.5 718.5 443.5 741.5 421.5 739.5 302.5 725.5 384.5 739.5 278.5 724.5 248.5 686.5 228.5 738.5 338.5 732.5 331.5 729.5 271.5 722.5 326.5 731.5 290.5 676.5 348.5 734.5 337.5 736.5 249.5 706.5 253.5 729.5 280.5 720.5 294.5 724.5 328.5 731.5 256.5 716.5 395.5 729.5 291.5 695.5 301.5 716.5 333.5 729.5 245.5 729.5 287.5 725.5 350.5 722.5 266.5 725.5 302.5 704.5 237.5 731.5 236.5 729.5 463.5 741.5 390.5 738.5 304.5 722.5 267.5 724.5 229.5 736.5 264.5 729.5 243.5 729.5 306.5 713.5 371.5 725.5 307.5 709.5 316.5 727.5 295.5 724.5 371.5 701.5 308.5 724.5 393.5 739.5 443.5 739.5 334.5 732.5 232.5 732.5 229.5 738.5 333.5 731.5 335.5 724.5 282.5 718.5 300.5 706.5 387.5 738.5 410.5 738.5 464.5 741.5 336.5 736.5 292.5 725.5 270.5 725.5 280.5 716.5 234.5 713.5 327.5 692.5 398.5 739.5 406.5 739.5 240.5 727.5 419.5 739.5 349.5 736.5 238.5 727.5 435.5 741.5 315.5 725.5 310.5 718.5 379.5 732.5 356.5 736.5 274.5 708.5 288.5 725.5 266.5 724.5 307.5 715.5 231.5 734.5 305.5 704.5 341.5 718.5 256.5 731.5 246.5 731.5 338.5 729.5 251.5 731.5 318.5 729.5 400.5 739.5 379.5 738.5 254.5 731.5 274.5 715.5 467.5 739.5 239.5 729.5 285.5 715.5 328.5 727.5 329.5 720.5 249.5 727.5 322.5 731.5 299.5 724.5 477.5 741.5 403.5 711.5 358.5 738.5 338.5 736.5 271.5 715.5 259.5 706.5 470.5 741.5 368.5 736.5 347.5 736.5 322.5 729.5 274.5 679.5 377.5 738.5 317.5 725.5 313.5 713.5 259.5 729.5 336.5 729.5 358.5 736.5 356.5 729.5 473.5 741.5 270.5 704.5 455.5 741.5 307.5 711.5 299.5 716.5 357.5 738.5 331.5 731.5 267.5 706.5 361.5 732.5 232.5 729.5 373.5 738.5 239.5 727.5 368.5 738.5 249.5 731.5 409.5 738.5 288.5 720.5 319.5 725.5 296.5 720.5 272.5 724.5 375.5 738.5 346.5 722.5 293.5 715.5 300.5 697.5 446.5 739.5 451.5 738.5 298.5 708.5 474.5 741.5 375.5 734.5 238.5 732.5 354.5 729.5 293.5 724.5 365.5 736.5 377.5 727.5 320.5 708.5 318.5 725.5 237.5 715.5 271.5 706.5 382.5 724.5 274.5 718.5 367.5 738.5 233.5 731.5 361.5 736.5 276.5 720.5 322.5 720.5 266.5 727.5 295.5 716.5 421.5 736.5 475.5 741.5 275.5 715.5 303.5 722.5 371.5 729.5 288.5 679.5 336.5 727.5 313.5 727.5 350.5 709.5 292.5 704.5 391.5 738.5 392.5 729.5 295.5 704.5 424.5 731.5 272.5 704.5 296.5 711.5 256.5 727.5 280.5 676.5 257.5 731.5 295.5 709.5 444.5 739.5 334.5 718.5 383.5 732.5 238.5 731.5 301.5 720.5 395.5 738.5 341.5 706.5 233.5 706.5 262.5 716.5 311.5 727.5 411.5 739.5 298.5 718.5 414.5 738.5 362.5 738.5 328.5 720.5 292.5 720.5 238.5 697.5 303.5 725.5 337.5 731.5 260.5 727.5 310.5 681.5 359.5 736.5 326.5 715.5 323.5 731.5 396.5 738.5 238.5 718.5 439.5 741.5 437.5 741.5 261.5 708.5 293.5 722.5 410.5 739.5 318.5 727.5 277.5 716.5 377.5 736.5 277.5 713.5 362.5 734.5 308.5 716.5 355.5 736.5 316.5 724.5 297.5 724.5 230.5 738.5 465.5 741.5 309.5 711.5 366.5 736.5 233.5 729.5 272.5 678.5 304.5 704.5 361.5 729.5 286.5 489.5 298.5 614.5 293.5 641.5 320.5 641.5 294.5 653.5 285.5 660.5 291.5 667.5 301.5 665.5 246.5 676.5 280.5 672.5 330.5 674.5 325.5 681.5 311.5 678.5 343.5 694.5 440.5 734.5 459.5 729.5 480.5 736.5 491.5 741.5 501.5 741.5 454.5 741.5 485.5 741.5 445.5 739.5 379.5 715.5 375.5 718.5 403.5 727.5"/>
</g>
<g clip-path="url(#c20)" fill="none" stroke="none">
<path stroke="#0000ff" stroke-width="1" d="M227 1001.5h2m4 0h1M230 1002.5h1m4 0h2M230 1003.5h1M230 1004.5h1M280 1012.5h1M264 1013.5h2m14 0h1M280 1014.5h1M288 1015.5h1M233 1016.5h1m40 0h1M234 1018.5h1m37 0h1m17 0h1M310 1022.5h1M310 1023.5h1M227 1029.5h6m43 0h1m50 0h1M274 1031.5h6m48 0h1M284 1032.5h5M233 1036.5h3m24 0h1m3 0h1m15 0h1M226 1038.5h1m1 0h1m1 0h7m40 0h1M225 1039.5h6m30 0h3M226 1040.5h1m1 0h1m1 0h1M224 1041.5h11m25 0h1m3 0h1M226 1042.5h3m1 0h1m63 0h1M226 1043.5h8m33 0h9m13 0h19M226 1044.5h3m1 0h1m63 0h1M224 1045.5h9m19 0h1m3 0h6m6 0h7m17 0h7m3 0h2m3 0h2m3 0h1M224 1046.5h11m24 0h1m11 0h2m3 0h1m17 0h3m3 0h1m20 0h1M227 1047.5h2m2 0h3m25 0h1m14 0h1m21 0h1m10 0h3M226 1048.5h12m11 0h1m6 0h1m2 0h1m14 0h1m18 0h6m6 0h6m9 0h1M226 1049.5h3m1 0h5m17 0h1m21 0h1m21 0h1m10 0h1M226 1050.5h9m2 0h1m1 0h1m3 0h1m8 0h1m3 0h1m17 0h4m15 0h3m10 0h5M226 1051.5h7m4 0h1m14 0h1m21 0h1m18 0h1m2 0h1m10 0h1M224 1052.5h19m8 0h7m4 0h1m8 0h1m2 0h2m4 0h1m12 0h4m10 0h3m4 0h1M226 1053.5h7m1 0h1m2 0h1m16 0h1m1 0h1m5 0h1m11 0h1m2 0h1m15 0h1m13 0h1M224 1054.5h11m3 0h2m14 0h1m1 0h10m2 0h10m4 0h1m10 0h3m5 0h1m4 0h8m3 0h1m5 0h4M225 1055.5h10m4 0h1m12 0h14m3 0h1m4 0h9m10 0h18M225 1056.5h6m23 0h1m1 0h1m4 0h2m6 0h1m4 0h4m2 0h1m14 0h1m5 0h1m15 0h1M224 1057.5h18m9 0h30m4 0h1m6 0h29m51 0h2M225 1058.5h7m6 0h2m11 0h1m2 0h1m1 0h1m4 0h2m1 0h1m4 0h1m10 0h1m1 0h1m10 0h3m5 0h3m6 0h1m5 0h2M224 1059.5h10m4 0h2m11 0h16m4 0h15m3 0h16m5 0h1m5 0h5m4 0h7M225 1060.5h7m6 0h2m11 0h1m4 0h4m1 0h1m2 0h3m2 0h2m4 0h2m3 0h5m9 0h4m3 0h1m1 0h1m6 0h1m5 0h2M224 1061.5h18m9 0h39m3 0h5m3 0h19m8 0h2m17 0h5M224 1062.5h17m10 0h1m4 0h33m3 0h28m30 0h1M225 1063.5h7m6 0h4m7 0h1m6 0h1m2 0h8m3 0h3m1 0h5m4 0h4m4 0h7m2 0h4m4 0h2m3 0h1m3 0h2M224 1064.5h20m5 0h3m3 0h30m7 0h1m7 0h1m4 0h18m4 0h1M225 1065.5h8m2 0h2m6 0h1m5 0h1m1 0h1m4 0h1m2 0h8m3 0h3m3 0h2m4 0h1m23 0h13m3 0h1m4 0h1m3 0h1m4 0h1m34 0h1M224 1066.5h14m4 0h19m4 0h3m3 0h11m15 0h2m7 0h17m3 0h2m5 0h1m3 0h2m32 0h1m28 0h1M225 1067.5h9m9 0h1m5 0h6m17 0h1m38 0h8m3 0h1m3 0h1m6 0h1m2 0h1m34 0h1M224 1068.5h11m4 0h1m4 0h9m3 0h1m53 0h11m4 0h5m3 0h1m5 0h1m7 0h3m3 0h9m30 0h7m4 0h1M224 1069.5h10m90 0h1m9 0h6m7 0h1m13 0h1M225 1070.5h6m85 0h1m19 0h1m8 0h1m1 0h2m12 0h1M224 1071.5h5m103 0h1m3 0h1m3 0h11m5 0h1m4 0h2m12 0h2m3 0h3M225 1072.5h1m128 0h1m11 0h3m6 0h2m4 0h1M224 1073.5h1m120 0h1m15 0h1m5 0h2m6 0h1m3 0h1m6 0h1m3 0h2m17 0h2m3 0h1M225 1074.5h1m155 0h2m7 0h1m18 0h1m4 0h2m5 0h1M224 1075.5h1m157 0h1m31 0h1m49 0h1M224 1076.5h1m224 0h1m18 0h1M456 1077.5h2m6 0h1m12 0h1M224 1078.5h2m212 0h1m22 0h2M477 1079.5h1M224 1080.5h1m211 0h1m3 0h1m17 0h4m9 0h2m3 0h5m7 0h1"/>
<path marker-start="url(#b)" marker-mid="url(#b)" marker-end="url(#b)" d="M234.5 1038.5 232.5 1066.5 233.5 1057.5 229.5 1064.5 231.5 1048.5 227.5 1045.5 230.5 1043.5 232.5 1048.5 234.5 1016.5 226.5 1039.5 225.5 1009.5 229.5 1029.5 232.5 1050.5 230.5 1055.5 230.5 1041.5 232.5 1036.5 230.5 1006.5 227.5 1054.5 233.5 1018.5 230.5 1046.5 227.5 1057.5 232.5 1052.5 230.5 1001.5 232.5 1057.5 230.5 1059.5 227.5 1015.5 231.5 1046.5 227.5 1046.5 225.5 1057.5 225.5 1041.5 233.5 1048.5 226.5 1045.5 231.5 1059.5 226.5 1041.5 228.5 1039.5 295.5 1011.5 358.5 1062.5 239.5 1064.5 435.5 1078.5 280.5 1031.5 319.5 1071.5 370.5 1057.5 334.5 1069.5 258.5 1029.5 275.5 1024.5 247.5 1064.5 428.5 1078.5 325.5 1036.5 277.5 1057.5 341.5 1073.5 287.5 1043.5 261.5 1036.5 266.5 1062.5 293.5 1052.5 295.5 1057.5 318.5 1057.5 294.5 1045.5 252.5 1052.5 347.5 1068.5 320.5 1069.5 285.5 1025.5 464.5 1078.5 381.5 1073.5 453.5 1078.5 251.5 1061.5 241.5 1062.5 237.5 1064.5 317.5 1059.5 347.5 1071.5 307.5 1061.5 291.5 1062.5 369.5 1076.5 251.5 1059.5 422.5 1076.5 294.5 1059.5 281.5 1062.5 296.5 1018.5 308.5 1048.5 290.5 1038.5 235.5 1062.5 274.5 1029.5 248.5 1071.5 274.5 1050.5 264.5 1055.5 258.5 1057.5 360.5 1076.5 328.5 1029.5 263.5 1064.5 257.5 1057.5 250.5 1069.5 386.5 1076.5 339.5 1071.5 256.5 1034.5 417.5 1073.5 313.5 1064.5 260.5 1054.5 342.5 1075.5 367.5 1075.5 237.5 1046.5 391.5 1073.5 404.5 1076.5 289.5 1061.5 406.5 1076.5 256.5 1061.5 271.5 1064.5 367.5 1069.5 243.5 1052.5 374.5 1076.5 426.5 1078.5 281.5 1069.5 400.5 1068.5 238.5 1061.5 262.5 1059.5 303.5 1057.5 327.5 1046.5 352.5 1075.5 302.5 1055.5 403.5 1076.5 252.5 1048.5 278.5 1064.5 254.5 1052.5 457.5 1080.5 268.5 1052.5 231.5 1062.5 316.5 1062.5 269.5 1057.5 425.5 1076.5 268.5 1064.5 260.5 1039.5 239.5 1052.5 305.5 1064.5 281.5 1046.5 289.5 1022.5 308.5 1064.5 285.5 1032.5 263.5 1041.5 349.5 1071.5 262.5 1064.5 309.5 1057.5 302.5 1064.5 321.5 1048.5 278.5 1062.5 248.5 1025.5 338.5 1071.5 280.5 1038.5 331.5 1068.5 284.5 1062.5 271.5 1061.5 326.5 1069.5 290.5 1015.5 348.5 1073.5 242.5 1069.5 261.5 1057.5 249.5 1045.5 253.5 1068.5 296.5 1048.5 254.5 1055.5 344.5 1073.5 328.5 1069.5 256.5 1055.5 395.5 1068.5 291.5 1034.5 301.5 1055.5 333.5 1068.5 245.5 1068.5 260.5 1064.5 350.5 1061.5 276.5 1043.5 302.5 1043.5 463.5 1080.5 390.5 1076.5 304.5 1061.5 267.5 1062.5 303.5 1043.5 231.5 1052.5 306.5 1052.5 371.5 1064.5 307.5 1048.5 300.5 1064.5 371.5 1039.5 262.5 1013.5 229.5 1059.5 308.5 1062.5 443.5 1078.5 334.5 1071.5 335.5 1062.5 282.5 1057.5 359.5 1076.5 300.5 1045.5 387.5 1076.5 410.5 1076.5 292.5 1064.5 280.5 1055.5 234.5 1052.5 256.5 1064.5 327.5 1031.5 398.5 1078.5 301.5 1015.5 246.5 1071.5 435.5 1080.5 256.5 1052.5 315.5 1064.5 310.5 1057.5 379.5 1071.5 234.5 1069.5 345.5 1073.5 274.5 1046.5 288.5 1064.5 307.5 1054.5 305.5 1043.5 341.5 1057.5 321.5 1071.5 246.5 1069.5 338.5 1068.5 287.5 1032.5 285.5 1061.5 254.5 1069.5 274.5 1054.5 467.5 1078.5 285.5 1054.5 328.5 1066.5 329.5 1059.5 249.5 1066.5 299.5 1062.5 477.5 1080.5 403.5 1050.5 271.5 1054.5 241.5 1041.5 259.5 1045.5 470.5 1080.5 357.5 1055.5 368.5 1075.5 274.5 1018.5 377.5 1076.5 256.5 1045.5 276.5 1031.5 254.5 1057.5 286.5 1064.5 313.5 1052.5 336.5 1068.5 310.5 1025.5 358.5 1075.5 356.5 1068.5 473.5 1080.5 270.5 1043.5 307.5 1050.5 299.5 1055.5 259.5 1059.5 357.5 1076.5 267.5 1045.5 314.5 1054.5 361.5 1071.5 228.5 1041.5 242.5 1050.5 310.5 1061.5 409.5 1076.5 323.5 1054.5 288.5 1059.5 319.5 1064.5 296.5 1059.5 259.5 1050.5 327.5 1061.5 272.5 1062.5 237.5 1052.5 346.5 1061.5 293.5 1054.5 315.5 1045.5 300.5 1036.5 245.5 1071.5 446.5 1078.5 309.5 1045.5 451.5 1076.5 298.5 1046.5 474.5 1080.5 375.5 1073.5 354.5 1068.5 365.5 1075.5 377.5 1066.5 320.5 1046.5 318.5 1064.5 237.5 1054.5 265.5 1057.5 271.5 1045.5 316.5 1061.5 438.5 1078.5 382.5 1062.5 299.5 1069.5 267.5 1024.5 233.5 1038.5 243.5 1066.5 276.5 1059.5 322.5 1059.5 270.5 1062.5 295.5 1055.5 421.5 1075.5 475.5 1080.5 275.5 1054.5 303.5 1061.5 371.5 1068.5 288.5 1018.5 239.5 1057.5 229.5 1054.5 336.5 1066.5 350.5 1048.5 301.5 1059.5 292.5 1043.5 391.5 1076.5 392.5 1068.5 295.5 1043.5 424.5 1069.5 272.5 1043.5 296.5 1050.5 280.5 1015.5 277.5 1036.5 295.5 1048.5 444.5 1078.5 334.5 1057.5 247.5 1071.5 383.5 1071.5 395.5 1076.5 341.5 1045.5 233.5 1045.5 262.5 1055.5 256.5 1059.5 311.5 1066.5 298.5 1057.5 414.5 1076.5 371.5 1075.5 239.5 1061.5 328.5 1059.5 351.5 1062.5 292.5 1059.5 238.5 1036.5 294.5 1043.5 310.5 1020.5 359.5 1075.5 326.5 1054.5 323.5 1069.5 396.5 1076.5 264.5 1039.5 430.5 1078.5 238.5 1057.5 301.5 1057.5 261.5 1046.5 262.5 1054.5 351.5 1076.5 318.5 1066.5 277.5 1055.5 377.5 1075.5 230.5 1052.5 277.5 1052.5 362.5 1073.5 308.5 1055.5 355.5 1075.5 297.5 1062.5 317.5 1057.5 259.5 1062.5 309.5 1050.5 366.5 1075.5 284.5 1061.5 272.5 1016.5 230.5 1029.5 304.5 1043.5 361.5 1068.5 228.5 877.5 226.5 884.5 225.5 914.5 286.5 828.5 259.5 918.5 260.5 944.5 298.5 953.5 293.5 979.5 320.5 979.5 296.5 988.5 294.5 992.5 285.5 999.5 235.5 986.5 225.5 992.5 233.5 1002.5 238.5 1002.5 225.5 1001.5 291.5 1006.5 301.5 1004.5 303.5 1009.5 252.5 1009.5 246.5 1015.5 267.5 1013.5 280.5 1011.5 330.5 1013.5 325.5 1020.5 311.5 1016.5 343.5 1032.5 440.5 1073.5 459.5 1068.5 480.5 1075.5 491.5 1080.5 501.5 1080.5 485.5 1080.5 445.5 1078.5 379.5 1054.5 375.5 1057.5 403.5 1066.5"/>
<path stroke="#ff0000" stroke-width="1" d="M320 979.5h1M280 1011.5h1M278 1013.5h1m3 0h1M246 1015.5h1m33 0h1m9 0h1M272 1016.5h1m38 0h1M310 1020.5h1m14 0h1M248 1025.5h1m36 0h1M258 1029.5h1M343 1032.5h1M238 1036.5h1m61 0h1M263 1041.5h1M264 1042.5h1m5 0h1M265 1043.5h1m4 0h1m33 0h2M266 1044.5h1m36 0h1M233 1045.5h1m15 0h1m17 0h1m73 0h1M274 1046.5h1m23 0h1M299 1047.5h1m6 0h1M230 1048.5h1m64 0h1m11 0h1M231 1049.5h1m5 0h1m57 0h1m12 0h1M232 1050.5h1m3 0h1m59 0h1m12 0h1M233 1051.5h3m4 0h1m56 0h1m6 0h1m5 0h1M234 1052.5h2m3 0h1m14 0h1m4 0h1m17 0h1m5 0h1m14 0h1m6 0h1m5 0h1M233 1053.5h3m2 0h1m60 0h1m6 0h1M232 1054.5h1m3 0h2m3 0h1m33 0h1m9 0h1m21 0h1m71 0h1M231 1055.5h1m4 0h2m18 0h1m5 0h1m13 0h1m3 0h1m20 0h1m6 0h1M239 1056.5h1m33 0h1m5 0h1m29 0h1M238 1057.5h1m34 0h2m3 0h1m3 0h1m27 0h1m64 0h1M259 1058.5h1m14 0h4m5 0h1m1 0h1m3 0h1m21 0h1M269 1059.5h1m3 0h6m5 0h1m3 0h1m3 0h1m1 0h1m27 0h1m6 0h1M272 1060.5h1m1 0h10m3 0h9M265 1061.5h1m5 0h1m5 0h6m3 0h1m3 0h7m3 0h1m45 0h1M241 1062.5h1m24 0h1m3 0h3m3 0h1m1 0h4m3 0h16m4 0h1m26 0h1m2 0h1m22 0h1m23 0h1M242 1063.5h1m3 0h1m11 0h1m6 0h5m5 0h8m1 0h21m11 0h1m16 0h1M236 1064.5h5m6 0h1m10 0h2m6 0h3m5 0h31m10 0h1m55 0h1M233 1065.5h1m3 0h5m4 0h3m8 0h13m3 0h33m5 0h1m2 0h3m16 0h1m3 0h1M234 1066.5h1m3 0h4m3 0h1m3 0h1m6 0h9m3 0h3m3 0h32m4 0h4m11 0h1m2 0h4m2 0h3m66 0h1M234 1067.5h11m5 0h3m2 0h60m5 0h1m2 0h9m3 0h3M233 1068.5h11m6 0h78m2 0h9m17 0h1m102 0h1M230 1069.5h112m39 0h1M229 1070.5h112M229 1071.5h111m9 0h1m9 0h1m19 0h1m3 0h1M226 1072.5h140m4 0h4m4 0h5m35 0h1M225 1073.5h142m2 0h16m3 0h2m3 0h1m12 0h2m4 0h2m3 0h3m20 0h1M224 1074.5h157m3 0h6m1 0h22m3 0h5m1 0h4m23 0h1M225 1075.5h189m1 0h10m17 0h1m7 0h1m10 0h1m5 0h1m12 0h1M225 1076.5h232m2 0h4m1 0h11m6 0h1M225 1077.5h254m1 0h1m1 0h1m5 0h1M226 1078.5h234m3 0h17m3 0h1M225 1079.5h234m4 0h16M225 1080.5h233m4 0h16m7 0h1m5 0h1m9 0h1"/>
<path marker-start="url(#r)" marker-mid="url(#r)" marker-end="url(#r)" d="M358.5 1062.5 446.5 1080.5 343.5 1076.5 251.5 1068.5 319.5 1071.5 350.5 1076.5 258.5 1029.5 247.5 1064.5 294.5 1068.5 228.5 1078.5 341.5 1075.5 232.5 1073.5 345.5 1076.5 354.5 1076.5 275.5 1071.5 431.5 1080.5 278.5 1066.5 285.5 1025.5 380.5 1078.5 464.5 1078.5 375.5 1075.5 453.5 1078.5 466.5 1080.5 352.5 1076.5 241.5 1062.5 269.5 1071.5 303.5 1066.5 293.5 1064.5 291.5 1062.5 369.5 1076.5 422.5 1076.5 275.5 1059.5 468.5 1080.5 281.5 1062.5 341.5 1076.5 405.5 1078.5 337.5 1073.5 228.5 1080.5 240.5 1068.5 441.5 1080.5 256.5 1071.5 248.5 1071.5 444.5 1080.5 260.5 1071.5 308.5 1068.5 261.5 1066.5 360.5 1076.5 234.5 1071.5 336.5 1073.5 266.5 1069.5 438.5 1080.5 295.5 1069.5 282.5 1061.5 376.5 1076.5 386.5 1076.5 339.5 1071.5 314.5 1071.5 282.5 1069.5 316.5 1071.5 417.5 1073.5 282.5 1066.5 270.5 1068.5 366.5 1076.5 289.5 1062.5 279.5 1069.5 284.5 1066.5 404.5 1076.5 280.5 1061.5 406.5 1076.5 259.5 1064.5 321.5 1073.5 395.5 1078.5 374.5 1076.5 426.5 1078.5 263.5 1068.5 346.5 1075.5 235.5 1069.5 409.5 1078.5 403.5 1076.5 287.5 1066.5 254.5 1052.5 457.5 1080.5 297.5 1064.5 261.5 1068.5 243.5 1071.5 234.5 1073.5 371.5 1076.5 425.5 1076.5 268.5 1064.5 239.5 1052.5 452.5 1080.5 263.5 1041.5 349.5 1071.5 283.5 1068.5 443.5 1080.5 421.5 1078.5 302.5 1064.5 384.5 1078.5 304.5 1066.5 286.5 1069.5 432.5 1080.5 248.5 1025.5 228.5 1076.5 277.5 1068.5 338.5 1071.5 271.5 1061.5 326.5 1069.5 290.5 1015.5 337.5 1075.5 339.5 1076.5 249.5 1045.5 289.5 1064.5 333.5 1075.5 328.5 1069.5 256.5 1055.5 301.5 1055.5 287.5 1064.5 266.5 1064.5 237.5 1069.5 293.5 1066.5 236.5 1068.5 463.5 1080.5 390.5 1076.5 229.5 1075.5 243.5 1068.5 371.5 1064.5 307.5 1048.5 313.5 1068.5 295.5 1062.5 445.5 1080.5 393.5 1078.5 443.5 1078.5 334.5 1071.5 232.5 1071.5 251.5 1071.5 229.5 1076.5 265.5 1069.5 333.5 1069.5 328.5 1073.5 335.5 1062.5 387.5 1076.5 410.5 1076.5 464.5 1080.5 280.5 1055.5 234.5 1052.5 332.5 1075.5 406.5 1078.5 419.5 1078.5 238.5 1066.5 435.5 1080.5 236.5 1073.5 315.5 1064.5 310.5 1057.5 379.5 1071.5 312.5 1071.5 274.5 1046.5 288.5 1064.5 266.5 1062.5 307.5 1054.5 231.5 1073.5 305.5 1043.5 321.5 1071.5 307.5 1069.5 379.5 1076.5 254.5 1069.5 467.5 1078.5 285.5 1054.5 328.5 1066.5 258.5 1071.5 329.5 1059.5 230.5 1075.5 229.5 1078.5 477.5 1080.5 453.5 1080.5 240.5 1071.5 358.5 1076.5 254.5 1071.5 470.5 1080.5 368.5 1075.5 332.5 1073.5 322.5 1068.5 347.5 1076.5 377.5 1076.5 335.5 1075.5 324.5 1071.5 336.5 1068.5 376.5 1075.5 249.5 1066.5 358.5 1075.5 356.5 1068.5 473.5 1080.5 270.5 1043.5 455.5 1080.5 357.5 1076.5 331.5 1069.5 267.5 1045.5 235.5 1073.5 373.5 1076.5 368.5 1076.5 409.5 1076.5 314.5 1073.5 288.5 1059.5 301.5 1066.5 375.5 1076.5 346.5 1061.5 300.5 1036.5 446.5 1078.5 451.5 1076.5 298.5 1046.5 474.5 1080.5 238.5 1071.5 293.5 1062.5 313.5 1071.5 239.5 1066.5 237.5 1054.5 252.5 1071.5 382.5 1062.5 299.5 1069.5 274.5 1057.5 272.5 1068.5 323.5 1071.5 276.5 1059.5 298.5 1068.5 322.5 1059.5 421.5 1075.5 230.5 1073.5 475.5 1080.5 275.5 1054.5 274.5 1066.5 268.5 1071.5 336.5 1066.5 353.5 1076.5 322.5 1069.5 329.5 1073.5 313.5 1066.5 276.5 1062.5 328.5 1075.5 391.5 1076.5 327.5 1071.5 296.5 1050.5 256.5 1066.5 280.5 1015.5 295.5 1048.5 338.5 1076.5 444.5 1078.5 247.5 1071.5 383.5 1071.5 395.5 1076.5 341.5 1045.5 308.5 1069.5 233.5 1045.5 262.5 1055.5 261.5 1069.5 414.5 1076.5 362.5 1076.5 238.5 1036.5 303.5 1064.5 337.5 1069.5 240.5 1066.5 310.5 1020.5 396.5 1076.5 356.5 1075.5 238.5 1057.5 439.5 1080.5 437.5 1080.5 302.5 1066.5 410.5 1078.5 349.5 1075.5 362.5 1073.5 308.5 1055.5 355.5 1075.5 297.5 1062.5 465.5 1080.5 309.5 1050.5 233.5 1068.5 272.5 1016.5 304.5 1043.5 272.5 1069.5 320.5 979.5 246.5 1015.5 280.5 1011.5 325.5 1020.5 311.5 1016.5 343.5 1032.5 440.5 1073.5 459.5 1068.5 480.5 1075.5 491.5 1080.5 501.5 1080.5 454.5 1080.5 485.5 1080.5 445.5 1078.5 379.5 1054.5 375.5 1057.5 403.5 1066.5"/>
</g>
<g clip-path="url(#c01)" fill="none" stroke="none">
<path stroke="#0000ff" stroke-width="1" d="M768 334.5h1m11 0h5M769 335.5h1M769 336.5h1M768 337.5h1m13 0h1M782 338.5h1M793 339.5h1M782 340.5h1M775 341.5h1m3 0h2m3 0h2M774 342.5h1m15 0h8M782 343.5h1M782 344.5h1M782 345.5h1M742 348.5h1m33 0h1m27 0h1M770 349.5h1m5 0h1m28 0h1M770 350.5h1M743 351.5h1m29 0h1m4 0h1M748 353.5h1m20 0h1m3 0h4M770 354.5h1M746 355.5h6m31 0h2m6 0h1M748 356.5h1m21 0h1m13 0h10M748 357.5h1M744 358.5h8m10 0h1m5 0h2m11 0h12M759 359.5h1m9 0h1m21 0h1M759 360.5h1m5 0h1m3 0h3m19 0h1M759 361.5h1m9 0h1m21 0h1m6 0h1M743 362.5h6m4 0h6m9 0h1m4 0h2m14 0h2m5 0h3M769 363.5h1m28 0h1M756 364.5h1m14 0h2m4 0h1m4 0h2m3 0h3m4 0h2m4 0h1M777 365.5h1m3 0h2m12 0h2m3 0h2M751 366.5h1m17 0h1m21 0h1M740 367.5h5m6 0h1m6 0h3m3 0h1m4 0h2m5 0h1m3 0h6m4 0h2m5 0h2M751 368.5h1m12 0h1m4 0h1m12 0h1m1 0h1M734 369.5h6m6 0h14m3 0h1m17 0h2M746 370.5h1m4 0h1m36 0h1M724 371.5h1m18 0h20m13 0h1m17 0h6M736 372.5h2m4 0h13m20 0h1m8 0h1M742 373.5h1m3 0h3m6 0h1M723 374.5h5m14 0h13m49 0h1m5 0h1M742 375.5h1m4 0h1m7 0h1M724 376.5h1m14 0h13m3 0h2m43 0h1m5 0h3m3 0h3M742 377.5h2m3 0h3m54 0h1M739 378.5h12M729 379.5h5m4 0h15m49 0h1m3 0h6m3 0h1M742 380.5h2m3 0h2m3 0h1M740 381.5h13m51 0h1m3 0h1m15 0h1M733 382.5h1m6 0h9M733 383.5h15m67 0h1m10 0h1m3 0h3M733 384.5h1m6 0h5M731 385.5h15m73 0h1m7 0h1m5 0h1M731 386.5h16m71 0h3m11 0h1M733 387.5h14m85 0h1M727 388.5h18m77 0h1m7 0h1M727 389.5h1m1 0h13m1 0h2m82 0h1M726 390.5h20m73 0h1m6 0h6m3 0h1m7 0h1M727 391.5h14M720 392.5h22m99 0h2m3 0h1M723 393.5h18M722 394.5h14m106 0h2m3 0h3m3 0h1M719 395.5h18m111 0h1m10 0h1M719 396.5h17m123 0h1M709 397.5h1m3 0h1m1 0h20M644 398.5h1m23 0h62M628 399.5h1m5 0h1m4 0h3m2 0h3m1 0h1m3 0h1m4 0h9m1 0h63M628 400.5h1m5 0h1m4 0h3m2 0h3m1 0h1m3 0h1m4 0h9m1 0h64M628 401.5h1m5 0h1m4 0h3m2 0h3m1 0h1m3 0h1m4 0h9m1 0h65M623 402.5h109m138 0h3M628 403.5h1m5 0h1m4 0h3m2 0h3m1 0h1m3 0h1m4 0h9m1 0h64"/>
<path marker-start="url(#b)" marker-mid="url(#b)" marker-end="url(#b)" d="M664.5 402.5 639.5 402.5 657.5 402.5 649.5 402.5 637.5 402.5 663.5 402.5 661.5 402.5 640.5 402.5 665.5 402.5 634.5 402.5 658.5 402.5 653.5 402.5 625.5 402.5 662.5 402.5 648.5 402.5 641.5 402.5 652.5 402.5 646.5 402.5 626.5 402.5 635.5 402.5 660.5 402.5 659.5 402.5 654.5 402.5 628.5 402.5 645.5 402.5 708.5 401.5 707.5 401.5 692.5 402.5 712.5 401.5 667.5 402.5 714.5 401.5 749.5 376.5 744.5 383.5 740.5 378.5 869.5 402.5 722.5 397.5 814.5 379.5 769.5 365.5 739.5 388.5 754.5 372.5 736.5 388.5 768.5 335.5 770.5 351.5 795.5 367.5 769.5 334.5 821.5 390.5 789.5 335.5 750.5 376.5 824.5 383.5 842.5 390.5 748.5 371.5 814.5 385.5 783.5 356.5 739.5 376.5 782.5 341.5 800.5 351.5 788.5 367.5 850.5 394.5 746.5 353.5 742.5 351.5 825.5 388.5 751.5 379.5 759.5 362.5 746.5 371.5 789.5 367.5 832.5 388.5 769.5 362.5 843.5 392.5 792.5 371.5 759.5 358.5 794.5 374.5 763.5 371.5 739.5 383.5 787.5 367.5 827.5 388.5 748.5 381.5 746.5 372.5 748.5 376.5 805.5 348.5 735.5 372.5 804.5 349.5 813.5 360.5 817.5 386.5 769.5 356.5 731.5 388.5 735.5 386.5 738.5 386.5 793.5 342.5 748.5 358.5 728.5 394.5 724.5 395.5 753.5 372.5 838.5 394.5 743.5 374.5 806.5 378.5 764.5 369.5 765.5 358.5 837.5 395.5 750.5 335.5 756.5 362.5 816.5 385.5 747.5 358.5 741.5 386.5 859.5 397.5 798.5 364.5 742.5 371.5 794.5 372.5 815.5 385.5 830.5 390.5 804.5 376.5 751.5 356.5 741.5 367.5 776.5 351.5 791.5 358.5 753.5 364.5 789.5 358.5 721.5 399.5 743.5 381.5 847.5 395.5 774.5 341.5 792.5 362.5 719.5 397.5 717.5 388.5 733.5 383.5 794.5 362.5 857.5 395.5 791.5 369.5 791.5 362.5 854.5 399.5 752.5 379.5 832.5 390.5 833.5 390.5 846.5 394.5 853.5 397.5 866.5 401.5 785.5 355.5 798.5 365.5 864.5 401.5 755.5 374.5 730.5 390.5 728.5 395.5 805.5 381.5 744.5 376.5 769.5 364.5 744.5 386.5 759.5 341.5 781.5 364.5 758.5 369.5 747.5 374.5 729.5 386.5 722.5 392.5 818.5 376.5 775.5 353.5 748.5 355.5 760.5 349.5 847.5 397.5 782.5 339.5 768.5 371.5 756.5 379.5 804.5 360.5 774.5 376.5 771.5 362.5 725.5 376.5 732.5 388.5 737.5 388.5 774.5 364.5 741.5 379.5 739.5 355.5 733.5 385.5 770.5 353.5 720.5 399.5 769.5 337.5 790.5 356.5 768.5 360.5 783.5 334.5 776.5 332.5 833.5 383.5 825.5 390.5 737.5 369.5 797.5 365.5 796.5 371.5 723.5 395.5 732.5 379.5 791.5 364.5 777.5 367.5 754.5 371.5 772.5 367.5 784.5 365.5 785.5 364.5 759.5 372.5 775.5 362.5 742.5 385.5 800.5 378.5 726.5 394.5 791.5 356.5 726.5 397.5 813.5 383.5 727.5 390.5 810.5 376.5 798.5 355.5 743.5 379.5 755.5 371.5 820.5 385.5 749.5 349.5 819.5 367.5 749.5 379.5 746.5 362.5 729.5 374.5 841.5 394.5 808.5 379.5 763.5 367.5 725.5 395.5 757.5 367.5 733.5 390.5 773.5 349.5 784.5 358.5 830.5 385.5 751.5 369.5 807.5 374.5 809.5 383.5 756.5 381.5 800.5 379.5 778.5 358.5 761.5 374.5 743.5 367.5 778.5 348.5 812.5 379.5 822.5 390.5 832.5 385.5 790.5 339.5 775.5 342.5 730.5 379.5 775.5 369.5 723.5 392.5 715.5 399.5 816.5 386.5 800.5 362.5 782.5 342.5 724.5 374.5 801.5 371.5 742.5 376.5 752.5 360.5 814.5 371.5 826.5 381.5 744.5 362.5 797.5 374.5 764.5 150.5 744.5 206.5 773.5 199.5 764.5 236.5 754.5 240.5 768.5 266.5 778.5 275.5 778.5 302.5 793.5 302.5 800.5 311.5 778.5 314.5 749.5 309.5 758.5 314.5 764.5 325.5 772.5 325.5 775.5 321.5 747.5 323.5 781.5 334.5 794.5 342.5 796.5 342.5 803.5 335.5 796.5 335.5 752.5 328.5 756.5 332.5 742.5 341.5 731.5 348.5 718.5 360.5 723.5 371.5 736.5 369.5 743.5 348.5 725.5 353.5"/>
<path stroke="#ff0000" stroke-width="1" d="M764 150.5h1M773 199.5h1M764 236.5h1M768 266.5h1M778 275.5h1M778 302.5h1m14 0h1M800 311.5h1M778 314.5h1M775 321.5h1M764 325.5h1m7 0h1M771 332.5h1m4 0h1M770 333.5h1m11 0h1M769 334.5h1m11 0h3M768 335.5h1m13 0h1m6 0h1m6 0h1m6 0h1M767 336.5h1m11 0h1m5 0h1M766 337.5h1m2 0h2m7 0h1m1 0h1m3 0h1m1 0h1M771 338.5h1m7 0h1m5 0h2m5 0h1M772 339.5h1m7 0h6m4 0h1M773 340.5h1m7 0h3m7 0h1M759 341.5h1m14 0h1m6 0h3m8 0h4M775 342.5h1m5 0h3m9 0h4M776 343.5h1m3 0h1m3 0h1m9 0h2M777 344.5h1m1 0h1m5 0h1M778 345.5h1M776 346.5h1m30 0h1M806 347.5h1M773 348.5h1m4 0h1m24 0h3M760 349.5h1m12 0h2m4 0h1m24 0h1M772 350.5h1m30 0h1M770 351.5h1m4 0h2m23 0h3M769 352.5h3m2 0h3m24 0h1M770 353.5h3m2 0h1m11 0h1M767 354.5h1m3 0h1m1 0h2m10 0h4m4 0h1m3 0h1M762 355.5h1m5 0h1m3 0h1m8 0h1m3 0h1m6 0h1m5 0h1M767 356.5h3m2 0h1m10 0h1m2 0h1m3 0h2M766 357.5h1m4 0h1m11 0h1m5 0h4M759 358.5h1m5 0h3m3 0h1m6 0h1m5 0h1m3 0h4M766 359.5h1m5 0h1m15 0h3m3 0h1m2 0h1m5 0h1M757 360.5h1m3 0h1m5 0h2m4 0h1m3 0h1m8 0h4m3 0h2m9 0h1m8 0h1M756 361.5h1m5 0h1m5 0h5m8 0h1m6 0h1m3 0h4m5 0h1M759 362.5h1m6 0h1m2 0h4m2 0h1m7 0h1m3 0h1m3 0h5m4 0h2M767 363.5h10m5 0h5m3 0h12M753 364.5h1m6 0h1m7 0h8m5 0h1m2 0h3m3 0h3m3 0h4M754 365.5h1m7 0h1m5 0h8m3 0h2m3 0h16M755 366.5h1m5 0h1m5 0h1m3 0h20m2 0h7M756 367.5h2m5 0h1m2 0h2m3 0h12m3 0h4m2 0h5m3 0h1m18 0h1M757 368.5h11m2 0h26m2 0h4M758 369.5h37m2 0h1M754 370.5h40m3 0h2M755 371.5h42m4 0h1m12 0h1M755 372.5h46M754 373.5h45m8 0h1M752 374.5h1m2 0h45m7 0h1M753 375.5h46m4 0h3m2 0h2M752 376.5h60m6 0h1M752 377.5h55m2 0h2M751 378.5h58m2 0h3M753 379.5h56m3 0h3M749 380.5h1m3 0h61m13 0h1M748 381.5h1m1 0h58m2 0h3m3 0h1m9 0h1M747 382.5h69m1 0h1m5 0h1m1 0h1m1 0h1M744 383.5h1m3 0h71m5 0h1m3 0h1m4 0h1M745 384.5h75m3 0h1m5 0h3M746 385.5h73m1 0h1m1 0h1m6 0h4m2 0h1M747 386.5h71m3 0h1m5 0h5m2 0h1M744 387.5h1m2 0h87M745 388.5h91M742 389.5h1m2 0h90M743 390.5h92m7 0h1M741 391.5h95m5 0h4M740 392.5h97m3 0h1m2 0h2m3 0h1M739 393.5h107m3 0h1M736 394.5h111m3 0h1m5 0h1M737 395.5h115m3 0h3M736 396.5h114m1 0h2m3 0h3m3 0h1M735 397.5h128M730 398.5h142M730 399.5h142M731 400.5h140M732 401.5h138M732 402.5h138M731 403.5h139"/>
<path marker-start="url(#r)" marker-mid="url(#r)" marker-end="url(#r)" d="M840.5 397.5 868.5 402.5 799.5 383.5 869.5 402.5 795.5 378.5 814.5 379.5 769.5 365.5 793.5 374.5 737.5 395.5 768.5 335.5 808.5 383.5 770.5 351.5 795.5 367.5 744.5 394.5 769.5 334.5 735.5 399.5 821.5 390.5 829.5 394.5 789.5 335.5 782.5 371.5 740.5 399.5 794.5 376.5 811.5 386.5 770.5 372.5 824.5 383.5 842.5 390.5 814.5 385.5 755.5 385.5 761.5 376.5 783.5 356.5 782.5 341.5 800.5 351.5 788.5 367.5 850.5 394.5 822.5 392.5 825.5 388.5 798.5 379.5 759.5 362.5 789.5 367.5 819.5 392.5 835.5 397.5 778.5 374.5 832.5 388.5 769.5 362.5 859.5 401.5 733.5 402.5 748.5 394.5 843.5 392.5 778.5 376.5 792.5 371.5 777.5 369.5 742.5 397.5 759.5 358.5 794.5 374.5 804.5 379.5 763.5 371.5 787.5 367.5 827.5 388.5 825.5 392.5 848.5 399.5 846.5 399.5 748.5 381.5 781.5 374.5 767.5 372.5 867.5 402.5 805.5 348.5 748.5 392.5 772.5 374.5 804.5 349.5 849.5 399.5 773.5 367.5 813.5 360.5 746.5 385.5 756.5 385.5 817.5 386.5 739.5 397.5 769.5 356.5 734.5 401.5 793.5 342.5 838.5 394.5 747.5 394.5 806.5 378.5 737.5 401.5 764.5 369.5 765.5 358.5 837.5 395.5 816.5 385.5 744.5 397.5 790.5 369.5 757.5 379.5 859.5 397.5 798.5 364.5 794.5 372.5 815.5 385.5 830.5 390.5 804.5 376.5 801.5 385.5 776.5 351.5 791.5 358.5 787.5 376.5 753.5 364.5 789.5 358.5 739.5 395.5 847.5 395.5 774.5 341.5 780.5 372.5 738.5 399.5 792.5 362.5 773.5 371.5 765.5 376.5 794.5 362.5 857.5 395.5 770.5 371.5 818.5 390.5 791.5 369.5 791.5 362.5 789.5 372.5 854.5 399.5 755.5 379.5 832.5 390.5 834.5 397.5 835.5 395.5 740.5 397.5 833.5 390.5 846.5 394.5 853.5 397.5 866.5 401.5 785.5 355.5 743.5 397.5 798.5 365.5 864.5 401.5 755.5 374.5 752.5 386.5 749.5 394.5 752.5 383.5 827.5 390.5 745.5 392.5 805.5 381.5 772.5 372.5 733.5 401.5 764.5 371.5 769.5 364.5 797.5 379.5 807.5 385.5 759.5 341.5 781.5 364.5 801.5 381.5 756.5 383.5 758.5 369.5 818.5 376.5 778.5 371.5 775.5 353.5 782.5 367.5 754.5 376.5 760.5 349.5 847.5 397.5 826.5 394.5 747.5 386.5 782.5 339.5 768.5 371.5 756.5 379.5 804.5 360.5 771.5 362.5 820.5 392.5 774.5 364.5 780.5 369.5 759.5 376.5 750.5 386.5 817.5 390.5 784.5 374.5 770.5 353.5 769.5 337.5 790.5 356.5 768.5 360.5 783.5 334.5 776.5 332.5 833.5 383.5 825.5 390.5 859.5 399.5 787.5 372.5 797.5 365.5 776.5 374.5 813.5 386.5 779.5 369.5 784.5 371.5 796.5 371.5 791.5 364.5 844.5 399.5 777.5 367.5 772.5 367.5 784.5 365.5 785.5 364.5 743.5 395.5 816.5 394.5 759.5 372.5 775.5 362.5 748.5 386.5 800.5 378.5 791.5 356.5 813.5 383.5 810.5 376.5 798.5 355.5 755.5 371.5 820.5 385.5 819.5 367.5 766.5 374.5 753.5 379.5 760.5 379.5 866.5 402.5 750.5 385.5 841.5 394.5 808.5 379.5 763.5 367.5 788.5 369.5 757.5 367.5 773.5 349.5 784.5 358.5 830.5 385.5 807.5 374.5 747.5 390.5 809.5 383.5 745.5 394.5 735.5 397.5 735.5 401.5 800.5 379.5 778.5 358.5 761.5 374.5 778.5 348.5 812.5 379.5 822.5 390.5 832.5 385.5 790.5 339.5 775.5 342.5 815.5 388.5 775.5 369.5 816.5 386.5 800.5 362.5 782.5 342.5 801.5 371.5 744.5 395.5 767.5 376.5 814.5 371.5 757.5 372.5 826.5 381.5 797.5 374.5 841.5 397.5 764.5 150.5 773.5 199.5 764.5 236.5 768.5 266.5 778.5 275.5 778.5 302.5 793.5 302.5 800.5 311.5 778.5 314.5 764.5 325.5 772.5 325.5 775.5 321.5 781.5 334.5 794.5 342.5 796.5 342.5 803.5 335.5 796.5 335.5"/>
</g>
<g clip-path="url(#c11)" fill="none" stroke="none">
<path stroke="#0000ff" stroke-width="1" d="M768 672.5h1m11 0h5M769 673.5h1M769 674.5h1M769 675.5h1m12 0h1M768 676.5h1m13 0h1M782 677.5h1M782 678.5h1m10 0h1M775 679.5h1m3 0h7M782 680.5h1M774 681.5h1m7 0h1m7 0h8M782 682.5h1M782 683.5h1M804 686.5h1M770 688.5h1m5 0h1m28 0h1M770 689.5h1M770 690.5h6M770 691.5h1M748 692.5h1m20 0h8M770 693.5h1M746 694.5h6m31 0h2m6 0h1M748 695.5h1m21 0h1m13 0h10M748 696.5h1m42 0h1M744 697.5h8m10 0h1m5 0h2m11 0h12M759 698.5h1m9 0h1m21 0h1M753 699.5h1m5 0h1m5 0h1m3 0h3m19 0h1M759 700.5h1m9 0h1m21 0h1m6 0h1M743 701.5h6m4 0h7m8 0h7m14 0h10M752 702.5h1m3 0h1m11 0h10m4 0h8m4 0h4M769 703.5h1m17 0h2M769 704.5h4m4 0h1m3 0h2m16 0h3M751 705.5h1m17 0h1m21 0h1M740 706.5h7m4 0h1m2 0h11m4 0h16m6 0h2m4 0h2M751 707.5h1m5 0h1m5 0h2m5 0h1m1 0h2m3 0h2m3 0h1M734 708.5h6m6 0h25m1 0h11m11 0h1M741 709.5h36m6 0h1m4 0h1m5 0h6M746 710.5h1m4 0h1m2 0h2m1 0h1m6 0h1m2 0h4m1 0h1m3 0h1M736 711.5h2m4 0h34m8 0h1m12 0h1M742 712.5h1m3 0h3m5 0h2m1 0h1m1 0h1m1 0h10m1 0h3M725 713.5h3m12 0h36m24 0h1m3 0h3m3 0h1M742 714.5h1m4 0h1m6 0h2m1 0h1m1 0h4m1 0h7M724 715.5h1m14 0h34m24 0h2m7 0h3m3 0h3M739 716.5h34m30 0h6M742 717.5h2m3 0h3m4 0h3m3 0h8m3 0h1m28 0h1M729 718.5h5m4 0h33m35 0h6m3 0h1M742 719.5h2m3 0h3m2 0h5m3 0h9m39 0h1M741 720.5h28m35 0h1m3 0h1m15 0h1M733 721.5h1m8 0h5m1 0h21M733 722.5h34m48 0h1m10 0h1m3 0h3M733 723.5h1m6 0h18m1 0h6M731 724.5h33m55 0h1m7 0h1m5 0h1M731 725.5h32m55 0h3m11 0h1M733 726.5h29m70 0h1M727 727.5h34m61 0h1m7 0h1M727 728.5h1m1 0h27m71 0h1M726 729.5h31m71 0h8m7 0h1M727 730.5h30M720 731.5h38m83 0h2m3 0h1M722 732.5h34m84 0h4m3 0h2M722 733.5h35m84 0h1m5 0h1M719 734.5h35m87 0h1m4 0h1m3 0h1m8 0h1M709 735.5h1m3 0h1m1 0h3m1 0h31M707 736.5h3m2 0h37m115 0h1m1 0h1M644 737.5h1m23 0h80M628 738.5h1m5 0h1m4 0h3m2 0h3m1 0h1m3 0h1m4 0h9m1 0h80M628 739.5h1m5 0h1m4 0h3m2 0h3m1 0h1m3 0h1m4 0h9m1 0h80M628 740.5h1m5 0h1m4 0h3m2 0h3m1 0h1m3 0h1m4 0h9m1 0h81M623 741.5h126m121 0h3M628 742.5h1m5 0h1m4 0h3m2 0h3m1 0h1m3 0h1m4 0h9m1 0h81"/>
<path marker-start="url(#b)" marker-mid="url(#b)" marker-end="url(#b)" d="M664.5 741.5 639.5 741.5 657.5 741.5 649.5 741.5 637.5 741.5 663.5 741.5 661.5 741.5 640.5 741.5 665.5 741.5 634.5 741.5 658.5 741.5 653.5 741.5 625.5 741.5 662.5 741.5 648.5 741.5 641.5 741.5 652.5 741.5 646.5 741.5 626.5 741.5 635.5 741.5 660.5 741.5 659.5 741.5 654.5 741.5 628.5 741.5 645.5 741.5 708.5 739.5 718.5 739.5 707.5 739.5 692.5 741.5 712.5 739.5 716.5 739.5 667.5 741.5 714.5 739.5 749.5 715.5 744.5 722.5 740.5 716.5 869.5 741.5 740.5 725.5 814.5 718.5 769.5 704.5 739.5 727.5 754.5 711.5 736.5 727.5 768.5 674.5 770.5 690.5 795.5 706.5 769.5 672.5 821.5 729.5 789.5 674.5 750.5 715.5 824.5 722.5 842.5 729.5 748.5 709.5 814.5 724.5 783.5 695.5 739.5 715.5 782.5 679.5 800.5 690.5 850.5 732.5 746.5 692.5 742.5 690.5 825.5 727.5 751.5 718.5 759.5 701.5 746.5 709.5 832.5 727.5 769.5 701.5 843.5 731.5 792.5 709.5 759.5 697.5 794.5 713.5 763.5 709.5 739.5 722.5 762.5 713.5 827.5 727.5 763.5 718.5 767.5 711.5 746.5 711.5 748.5 715.5 805.5 686.5 735.5 711.5 804.5 688.5 849.5 738.5 773.5 706.5 813.5 699.5 817.5 725.5 769.5 695.5 731.5 727.5 735.5 725.5 738.5 725.5 793.5 681.5 748.5 697.5 728.5 732.5 724.5 734.5 753.5 711.5 838.5 732.5 743.5 713.5 806.5 716.5 764.5 708.5 765.5 697.5 837.5 734.5 769.5 711.5 750.5 674.5 756.5 701.5 816.5 724.5 747.5 697.5 741.5 725.5 757.5 718.5 859.5 736.5 798.5 702.5 742.5 709.5 815.5 724.5 830.5 729.5 804.5 715.5 751.5 695.5 741.5 706.5 776.5 690.5 791.5 697.5 753.5 702.5 789.5 697.5 743.5 720.5 847.5 734.5 774.5 679.5 792.5 701.5 719.5 736.5 773.5 709.5 717.5 727.5 733.5 722.5 794.5 701.5 857.5 734.5 770.5 709.5 791.5 708.5 791.5 701.5 789.5 711.5 854.5 738.5 752.5 718.5 832.5 729.5 835.5 734.5 833.5 729.5 846.5 732.5 853.5 736.5 866.5 739.5 785.5 694.5 798.5 704.5 864.5 739.5 755.5 713.5 730.5 729.5 728.5 734.5 805.5 720.5 744.5 715.5 764.5 709.5 769.5 702.5 744.5 725.5 759.5 679.5 781.5 702.5 758.5 708.5 747.5 713.5 729.5 725.5 722.5 731.5 737.5 732.5 818.5 715.5 775.5 692.5 748.5 694.5 782.5 706.5 754.5 715.5 760.5 688.5 759.5 722.5 747.5 725.5 782.5 678.5 768.5 709.5 756.5 718.5 804.5 699.5 771.5 701.5 725.5 715.5 732.5 727.5 737.5 727.5 774.5 702.5 741.5 718.5 780.5 708.5 754.5 716.5 770.5 720.5 739.5 694.5 759.5 715.5 733.5 724.5 770.5 692.5 769.5 676.5 790.5 695.5 768.5 699.5 783.5 672.5 776.5 671.5 833.5 722.5 825.5 729.5 737.5 708.5 787.5 711.5 797.5 704.5 779.5 708.5 784.5 709.5 796.5 709.5 723.5 734.5 732.5 718.5 777.5 706.5 754.5 709.5 772.5 706.5 784.5 704.5 785.5 702.5 759.5 711.5 775.5 701.5 742.5 724.5 800.5 716.5 726.5 732.5 791.5 695.5 813.5 722.5 727.5 729.5 810.5 715.5 798.5 694.5 743.5 718.5 755.5 709.5 820.5 724.5 749.5 688.5 819.5 706.5 749.5 718.5 758.5 718.5 746.5 701.5 766.5 713.5 753.5 718.5 729.5 713.5 760.5 718.5 841.5 732.5 763.5 706.5 725.5 734.5 757.5 706.5 733.5 729.5 760.5 716.5 773.5 688.5 784.5 697.5 830.5 724.5 751.5 708.5 807.5 713.5 751.5 725.5 809.5 722.5 800.5 718.5 778.5 697.5 761.5 713.5 743.5 706.5 778.5 686.5 812.5 718.5 822.5 729.5 832.5 724.5 790.5 678.5 775.5 681.5 730.5 718.5 775.5 708.5 723.5 731.5 715.5 738.5 816.5 725.5 800.5 701.5 758.5 727.5 782.5 681.5 742.5 732.5 724.5 713.5 801.5 709.5 742.5 715.5 752.5 699.5 814.5 709.5 826.5 720.5 744.5 701.5 797.5 713.5 770.5 713.5 764.5 489.5 744.5 545.5 773.5 538.5 764.5 575.5 754.5 579.5 768.5 605.5 778.5 614.5 778.5 641.5 793.5 641.5 800.5 649.5 778.5 653.5 749.5 648.5 758.5 653.5 764.5 664.5 772.5 664.5 775.5 660.5 747.5 662.5 781.5 672.5 794.5 681.5 796.5 681.5 803.5 674.5 796.5 674.5 752.5 667.5 756.5 671.5 742.5 679.5 731.5 686.5 718.5 699.5 723.5 709.5 736.5 708.5 743.5 686.5 725.5 692.5"/>
<path stroke="#ff0000" stroke-width="1" d="M773 538.5h1M793 641.5h1M800 649.5h1M778 653.5h1M772 664.5h1M781 672.5h1M796 674.5h1m6 0h1M795 680.5h1M794 681.5h3M795 682.5h1M805 686.5h1M803 687.5h1M804 688.5h1M800 690.5h1M801 691.5h1M797 693.5h1M798 694.5h1M790 695.5h1M790 696.5h1M784 697.5h1m3 0h4M787 698.5h4m3 0h2m1 0h1m5 0h1M782 699.5h1m3 0h4m3 0h2m9 0h1m8 0h1M783 700.5h1m3 0h1m4 0h3m6 0h1M791 701.5h5m4 0h2M774 702.5h1m6 0h1m3 0h1m4 0h12M784 703.5h3m2 0h5m2 0h4M779 704.5h1m3 0h16M777 705.5h2m3 0h9m3 0h6M775 706.5h8m2 0h6m2 0h4m2 0h2m18 0h1M776 707.5h20m2 0h4M775 708.5h19m3 0h1m4 0h1M777 709.5h17m2 0h2m3 0h1m12 0h1M773 710.5h1m3 0h21m2 0h1M776 711.5h24M771 712.5h1m3 0h25m7 0h1M774 713.5h24m5 0h1m3 0h1M772 714.5h27m3 0h3m3 0h1M773 715.5h35m1 0h3m6 0h1M764 716.5h1m8 0h34m2 0h2M768 717.5h1m3 0h37m2 0h3M769 718.5h37m1 0h2m3 0h3M770 719.5h44m13 0h1M769 720.5h39m2 0h3m3 0h1m9 0h1M769 721.5h47m1 0h1m5 0h1m1 0h1m1 0h1M764 722.5h55m5 0h1m3 0h1m4 0h1M761 723.5h1m3 0h55m3 0h1m5 0h3M762 724.5h57m1 0h1m1 0h1m6 0h4m2 0h1M763 725.5h55m3 0h1m5 0h5m2 0h1M762 726.5h72M759 727.5h77M756 728.5h79M757 729.5h77m7 0h2M757 730.5h79m3 0h6m3 0h1M758 731.5h77m5 0h1m2 0h2M756 732.5h91m2 0h2M752 733.5h1m2 0h86m3 0h3m3 0h1m5 0h1M751 734.5h98m3 0h1m2 0h3M748 735.5h115M749 736.5h115m3 0h1m1 0h1M748 737.5h124M747 738.5h125M747 739.5h124M748 740.5h122M749 741.5h121M748 742.5h122"/>
<path marker-start="url(#r)" marker-mid="url(#r)" marker-end="url(#r)" d="M840.5 736.5 868.5 741.5 763.5 725.5 869.5 741.5 753.5 738.5 795.5 716.5 814.5 718.5 760.5 732.5 808.5 722.5 795.5 706.5 764.5 716.5 821.5 729.5 829.5 732.5 782.5 709.5 794.5 715.5 811.5 725.5 824.5 722.5 842.5 729.5 814.5 724.5 800.5 690.5 760.5 731.5 788.5 706.5 761.5 729.5 850.5 732.5 825.5 727.5 798.5 718.5 775.5 720.5 763.5 729.5 759.5 731.5 789.5 706.5 819.5 731.5 766.5 724.5 778.5 713.5 832.5 727.5 761.5 734.5 859.5 739.5 750.5 741.5 802.5 720.5 793.5 715.5 843.5 731.5 778.5 715.5 760.5 736.5 792.5 709.5 794.5 713.5 804.5 718.5 837.5 736.5 759.5 734.5 787.5 706.5 827.5 727.5 825.5 731.5 837.5 738.5 848.5 738.5 846.5 738.5 771.5 720.5 857.5 739.5 781.5 713.5 867.5 741.5 767.5 727.5 805.5 686.5 793.5 718.5 773.5 722.5 804.5 688.5 849.5 738.5 813.5 699.5 752.5 739.5 774.5 716.5 782.5 715.5 762.5 731.5 817.5 725.5 750.5 739.5 755.5 736.5 775.5 715.5 838.5 732.5 806.5 716.5 777.5 716.5 752.5 736.5 779.5 716.5 837.5 734.5 816.5 724.5 859.5 736.5 798.5 702.5 794.5 711.5 815.5 724.5 830.5 729.5 804.5 715.5 801.5 724.5 831.5 734.5 774.5 722.5 791.5 697.5 787.5 715.5 789.5 697.5 838.5 738.5 847.5 734.5 750.5 736.5 780.5 711.5 858.5 739.5 792.5 701.5 794.5 701.5 763.5 731.5 857.5 734.5 818.5 729.5 791.5 708.5 791.5 701.5 789.5 711.5 854.5 738.5 832.5 729.5 835.5 734.5 833.5 729.5 846.5 732.5 853.5 736.5 866.5 739.5 798.5 704.5 864.5 739.5 827.5 729.5 805.5 720.5 797.5 718.5 807.5 724.5 769.5 724.5 781.5 702.5 801.5 720.5 755.5 738.5 818.5 715.5 767.5 724.5 778.5 709.5 782.5 706.5 847.5 736.5 826.5 732.5 761.5 731.5 758.5 732.5 804.5 699.5 774.5 715.5 771.5 725.5 774.5 702.5 780.5 708.5 764.5 725.5 751.5 739.5 817.5 729.5 784.5 713.5 774.5 718.5 790.5 695.5 833.5 722.5 825.5 729.5 758.5 736.5 859.5 738.5 787.5 711.5 797.5 704.5 813.5 725.5 779.5 708.5 784.5 709.5 766.5 729.5 765.5 727.5 796.5 709.5 791.5 702.5 844.5 738.5 776.5 713.5 785.5 702.5 776.5 718.5 800.5 716.5 813.5 722.5 810.5 715.5 798.5 694.5 774.5 720.5 820.5 724.5 819.5 706.5 749.5 741.5 765.5 729.5 866.5 741.5 775.5 718.5 841.5 732.5 808.5 718.5 767.5 725.5 749.5 736.5 788.5 708.5 751.5 741.5 790.5 708.5 784.5 697.5 830.5 724.5 807.5 713.5 809.5 722.5 800.5 718.5 812.5 718.5 822.5 729.5 832.5 724.5 815.5 727.5 775.5 708.5 816.5 725.5 800.5 701.5 762.5 727.5 801.5 709.5 836.5 736.5 814.5 709.5 826.5 720.5 797.5 713.5 841.5 736.5 773.5 538.5 793.5 641.5 800.5 649.5 778.5 653.5 772.5 664.5 781.5 672.5 794.5 681.5 796.5 681.5 803.5 674.5 796.5 674.5"/>
</g>
<g clip-path="url(#c21)" fill="none" stroke="none">
<path stroke="#0000ff" stroke-width="1" d="M772 999.5h1M775 1002.5h1M768 1011.5h1m11 0h5M769 1012.5h1M769 1013.5h1m20 0h1M769 1014.5h1m12 0h1M768 1015.5h1m13 0h1M782 1016.5h1m6 0h1M782 1017.5h1M775 1018.5h1m3 0h7M782 1019.5h1M774 1020.5h1m7 0h1m7 0h8M782 1021.5h1M782 1022.5h1M804 1025.5h1M770 1027.5h1m5 0h1m28 0h1M770 1028.5h1M739 1029.5h1m30 0h6m22 0h1M770 1030.5h1M748 1031.5h1m20 0h8M742 1032.5h1m3 0h1m4 0h1m18 0h1m12 0h1m16 0h1M748 1033.5h1m42 0h1M748 1034.5h1m21 0h1m13 0h10M748 1035.5h1m42 0h1M744 1036.5h8m4 0h7m5 0h2m5 0h1m5 0h14M759 1037.5h1m9 0h1m21 0h1M753 1038.5h1m5 0h1m5 0h1m3 0h3m19 0h1M743 1039.5h6m4 0h7m8 0h7m3 0h1m10 0h10M769 1040.5h1m21 0h1m6 0h1M752 1041.5h1m3 0h1m11 0h10m4 0h19M769 1042.5h1m7 0h1m9 0h5m6 0h1M751 1043.5h1m17 0h4m4 0h1m3 0h11m2 0h8M751 1044.5h1m17 0h1m7 0h1m9 0h5m6 0h1M740 1045.5h7m4 0h1m2 0h11m4 0h24m3 0h3M734 1046.5h6m8 0h10m3 0h10m1 0h23m3 0h1M746 1047.5h1m4 0h1m2 0h1m2 0h1m5 0h2m2 0h4m1 0h2m3 0h4m1 0h1m4 0h4M741 1048.5h59M746 1049.5h1m4 0h1m2 0h2m1 0h1m6 0h1m2 0h4m1 0h1m3 0h6m2 0h1m2 0h8M742 1050.5h56M742 1051.5h1m3 0h3m5 0h2m1 0h1m1 0h1m1 0h10m1 0h5m1 0h1m1 0h8m1 0h1m2 0h3M725 1052.5h3m12 0h61m3 0h3m3 0h1M742 1053.5h1m4 0h1m6 0h2m1 0h1m1 0h4m1 0h7m1 0h1m1 0h14m1 0h1m3 0h2m9 0h1M724 1054.5h1m14 0h60m1 0h1m3 0h5m3 0h3M739 1055.5h70M742 1056.5h2m3 0h3m4 0h3m3 0h9m2 0h2m1 0h21m5 0h1m3 0h1M729 1057.5h5m4 0h78M742 1058.5h2m3 0h22m2 0h7m2 0h21m3 0h1m3 0h1M733 1059.5h1m7 0h68m5 0h1m9 0h1M733 1060.5h1m8 0h5m1 0h54m2 0h2m2 0h1m5 0h1M733 1061.5h84m9 0h1m3 0h3M733 1062.5h3m3 0h81m9 0h5M733 1063.5h1m5 0h31m1 0h12m3 0h7m3 0h6m1 0h9m1 0h4m15 0h1M731 1064.5h52m4 0h34m11 0h1M733 1065.5h50m3 0h9m4 0h10m1 0h8m4 0h1m2 0h1m1 0h1m2 0h1m1 0h1M727 1066.5h55m5 0h8m6 0h18m3 0h12M727 1067.5h1m1 0h13m1 0h37m4 0h5m12 0h3m3 0h11m4 0h1m2 0h1m1 0h1m4 0h1M726 1068.5h51m8 0h2m4 0h2m7 0h7m3 0h26m5 0h3M720 1069.5h58m6 0h8m9 0h5m3 0h22m1 0h1m8 0h2m3 0h1M723 1070.5h55m6 0h1m5 0h2m10 0h3m7 0h16m1 0h1M722 1071.5h55m25 0h2m3 0h1m6 0h36M719 1072.5h1m2 0h40m76 0h4m5 0h1m11 0h1M719 1073.5h44m83 0h5m3 0h1m4 0h1M709 1074.5h1m3 0h1m1 0h3m1 0h42m98 0h1M707 1075.5h3m2 0h48m104 0h1m1 0h1M644 1076.5h1m23 0h92M628 1077.5h1m5 0h1m4 0h3m2 0h3m1 0h1m3 0h1m4 0h9m1 0h92M628 1078.5h1m5 0h1m4 0h3m2 0h3m1 0h1m3 0h1m4 0h9m1 0h92M628 1079.5h1m5 0h1m4 0h3m2 0h3m1 0h1m3 0h1m4 0h9m1 0h91M623 1080.5h137m110 0h3"/>
<path marker-start="url(#b)" marker-mid="url(#b)" marker-end="url(#b)" d="M664.5 1080.5 639.5 1080.5 657.5 1080.5 649.5 1080.5 637.5 1080.5 663.5 1080.5 661.5 1080.5 640.5 1080.5 665.5 1080.5 634.5 1080.5 658.5 1080.5 653.5 1080.5 625.5 1080.5 662.5 1080.5 648.5 1080.5 641.5 1080.5 652.5 1080.5 646.5 1080.5 626.5 1080.5 635.5 1080.5 660.5 1080.5 659.5 1080.5 654.5 1080.5 628.5 1080.5 645.5 1080.5 708.5 1078.5 718.5 1078.5 707.5 1078.5 692.5 1080.5 712.5 1078.5 716.5 1078.5 667.5 1080.5 714.5 1078.5 749.5 1054.5 744.5 1061.5 740.5 1055.5 795.5 1055.5 740.5 1064.5 814.5 1057.5 757.5 1062.5 769.5 1043.5 798.5 1062.5 785.5 1055.5 779.5 1064.5 736.5 1066.5 768.5 1013.5 770.5 1029.5 795.5 1045.5 769.5 1011.5 821.5 1068.5 745.5 1062.5 829.5 1071.5 789.5 1013.5 782.5 1048.5 811.5 1064.5 811.5 1073.5 792.5 1057.5 750.5 1054.5 727.5 1069.5 807.5 1064.5 824.5 1061.5 842.5 1068.5 748.5 1048.5 814.5 1062.5 783.5 1034.5 739.5 1054.5 782.5 1018.5 800.5 1029.5 850.5 1071.5 746.5 1031.5 742.5 1029.5 825.5 1066.5 798.5 1057.5 751.5 1057.5 759.5 1039.5 746.5 1048.5 809.5 1071.5 789.5 1045.5 819.5 1069.5 778.5 1052.5 832.5 1066.5 732.5 1069.5 769.5 1039.5 802.5 1059.5 843.5 1069.5 778.5 1054.5 792.5 1048.5 821.5 1071.5 759.5 1036.5 794.5 1052.5 789.5 1052.5 763.5 1048.5 739.5 1061.5 762.5 1052.5 839.5 1076.5 827.5 1066.5 763.5 1057.5 848.5 1076.5 846.5 1076.5 746.5 1050.5 750.5 1062.5 748.5 1054.5 810.5 1066.5 805.5 1025.5 735.5 1050.5 804.5 1027.5 849.5 1076.5 814.5 1069.5 773.5 1045.5 813.5 1038.5 746.5 1062.5 817.5 1064.5 769.5 1034.5 731.5 1066.5 735.5 1064.5 738.5 1064.5 793.5 1020.5 748.5 1036.5 775.5 1054.5 728.5 1071.5 788.5 1059.5 724.5 1073.5 753.5 1050.5 838.5 1071.5 743.5 1052.5 806.5 1055.5 777.5 1055.5 797.5 1062.5 779.5 1055.5 764.5 1046.5 765.5 1036.5 837.5 1073.5 769.5 1050.5 750.5 1013.5 730.5 1069.5 756.5 1039.5 816.5 1062.5 747.5 1036.5 731.5 1069.5 741.5 1064.5 790.5 1046.5 757.5 1057.5 859.5 1075.5 798.5 1041.5 742.5 1048.5 794.5 1050.5 815.5 1062.5 830.5 1068.5 804.5 1054.5 801.5 1062.5 751.5 1034.5 831.5 1073.5 741.5 1045.5 776.5 1029.5 791.5 1036.5 753.5 1041.5 789.5 1036.5 721.5 1076.5 770.5 1069.5 743.5 1059.5 847.5 1073.5 774.5 1018.5 858.5 1078.5 792.5 1039.5 719.5 1075.5 773.5 1048.5 717.5 1066.5 733.5 1061.5 794.5 1039.5 791.5 1061.5 857.5 1073.5 770.5 1048.5 818.5 1068.5 791.5 1046.5 791.5 1039.5 789.5 1050.5 854.5 1076.5 752.5 1057.5 832.5 1068.5 834.5 1075.5 835.5 1073.5 833.5 1068.5 846.5 1071.5 853.5 1075.5 866.5 1078.5 785.5 1032.5 791.5 1064.5 798.5 1043.5 864.5 1078.5 755.5 1052.5 730.5 1068.5 827.5 1068.5 805.5 1059.5 744.5 1054.5 764.5 1048.5 769.5 1041.5 797.5 1057.5 807.5 1062.5 769.5 1062.5 744.5 1064.5 759.5 1018.5 812.5 1069.5 781.5 1041.5 801.5 1059.5 758.5 1046.5 729.5 1069.5 747.5 1052.5 729.5 1064.5 722.5 1069.5 737.5 1071.5 818.5 1054.5 778.5 1048.5 775.5 1031.5 748.5 1032.5 782.5 1045.5 804.5 1064.5 760.5 1027.5 826.5 1071.5 747.5 1064.5 782.5 1016.5 768.5 1048.5 756.5 1057.5 804.5 1038.5 771.5 1039.5 725.5 1054.5 732.5 1066.5 737.5 1066.5 820.5 1069.5 774.5 1041.5 741.5 1057.5 780.5 1046.5 770.5 1059.5 739.5 1032.5 759.5 1054.5 783.5 1054.5 784.5 1052.5 733.5 1062.5 770.5 1031.5 720.5 1076.5 769.5 1015.5 790.5 1034.5 768.5 1038.5 783.5 1011.5 776.5 1009.5 833.5 1061.5 825.5 1068.5 778.5 1064.5 768.5 1059.5 737.5 1046.5 787.5 1050.5 797.5 1043.5 791.5 1055.5 813.5 1064.5 779.5 1046.5 784.5 1048.5 796.5 1048.5 732.5 1057.5 791.5 1041.5 792.5 1054.5 754.5 1048.5 772.5 1045.5 784.5 1043.5 785.5 1041.5 776.5 1057.5 759.5 1050.5 775.5 1039.5 803.5 1064.5 742.5 1062.5 800.5 1055.5 726.5 1071.5 791.5 1034.5 813.5 1061.5 727.5 1068.5 810.5 1054.5 798.5 1032.5 743.5 1057.5 755.5 1048.5 820.5 1062.5 749.5 1027.5 819.5 1045.5 749.5 1057.5 758.5 1057.5 746.5 1039.5 766.5 1052.5 753.5 1057.5 729.5 1052.5 760.5 1057.5 775.5 1057.5 841.5 1071.5 800.5 1064.5 808.5 1057.5 763.5 1045.5 788.5 1046.5 757.5 1045.5 733.5 1068.5 760.5 1055.5 773.5 1027.5 784.5 1036.5 830.5 1062.5 751.5 1046.5 807.5 1052.5 751.5 1064.5 809.5 1061.5 800.5 1057.5 778.5 1036.5 761.5 1052.5 743.5 1045.5 853.5 1078.5 778.5 1025.5 812.5 1057.5 822.5 1068.5 832.5 1062.5 804.5 1071.5 790.5 1016.5 775.5 1020.5 815.5 1066.5 730.5 1057.5 775.5 1046.5 723.5 1069.5 715.5 1076.5 816.5 1064.5 800.5 1039.5 758.5 1066.5 782.5 1020.5 742.5 1071.5 724.5 1052.5 801.5 1048.5 836.5 1075.5 742.5 1054.5 752.5 1038.5 790.5 1057.5 814.5 1048.5 826.5 1059.5 744.5 1039.5 797.5 1052.5 770.5 1052.5 764.5 828.5 744.5 884.5 773.5 877.5 764.5 914.5 754.5 918.5 768.5 944.5 778.5 953.5 778.5 979.5 793.5 979.5 800.5 988.5 778.5 992.5 749.5 986.5 758.5 992.5 764.5 1002.5 772.5 1002.5 775.5 999.5 747.5 1001.5 781.5 1011.5 794.5 1020.5 796.5 1020.5 803.5 1013.5 796.5 1013.5 752.5 1006.5 756.5 1009.5 742.5 1018.5 731.5 1025.5 718.5 1038.5 723.5 1048.5 736.5 1046.5 743.5 1025.5 725.5 1031.5"/>
<path stroke="#ff0000" stroke-width="1" d="M800 988.5h1M804 1038.5h1M814 1048.5h1M792 1057.5h1m11 0h1M784 1060.5h1M781 1061.5h1m1 0h1M782 1062.5h1m3 0h1m7 0h1m37 0h1M783 1063.5h5m5 0h3M763 1064.5h1m14 0h1m4 0h6m5 0h5m9 0h1m21 0h1m3 0h1M778 1065.5h2m3 0h5m2 0h2m3 0h7M776 1066.5h11m4 0h10m4 0h1m5 0h1m20 0h1M777 1067.5h1m2 0h21m4 0h2m3 0h3M777 1068.5h8m2 0h4m2 0h9m5 0h6m29 0h1M778 1069.5h12m2 0h9m1 0h1m3 0h6m2 0h1M776 1070.5h26m1 0h8m13 0h1m5 0h1M766 1071.5h1m8 0h45m2 0h3m4 0h1M762 1072.5h84M758 1073.5h1m1 0h86m5 0h1m4 0h1m5 0h1M759 1074.5h104M757 1075.5h1m2 0h104m3 0h1m1 0h1M758 1076.5h114M759 1077.5h113M759 1078.5h112M758 1079.5h112M758 1080.5h112"/>
<path marker-start="url(#r)" marker-mid="url(#r)" marker-end="url(#r)" d="M810.5 1075.5 840.5 1075.5 828.5 1075.5 868.5 1080.5 850.5 1078.5 761.5 1076.5 764.5 1076.5 763.5 1078.5 763.5 1064.5 869.5 1080.5 854.5 1078.5 808.5 1069.5 790.5 1073.5 807.5 1075.5 802.5 1073.5 820.5 1075.5 829.5 1071.5 792.5 1057.5 818.5 1075.5 842.5 1068.5 808.5 1064.5 797.5 1069.5 773.5 1073.5 799.5 1066.5 791.5 1073.5 832.5 1066.5 763.5 1080.5 835.5 1076.5 859.5 1078.5 762.5 1080.5 841.5 1076.5 855.5 1078.5 798.5 1073.5 766.5 1076.5 804.5 1057.5 760.5 1078.5 793.5 1071.5 856.5 1078.5 794.5 1062.5 829.5 1073.5 763.5 1076.5 837.5 1076.5 848.5 1076.5 857.5 1078.5 867.5 1080.5 795.5 1071.5 793.5 1068.5 797.5 1071.5 849.5 1076.5 814.5 1069.5 798.5 1075.5 776.5 1073.5 813.5 1073.5 782.5 1073.5 786.5 1071.5 836.5 1076.5 779.5 1075.5 775.5 1075.5 786.5 1062.5 838.5 1076.5 796.5 1066.5 795.5 1069.5 778.5 1071.5 777.5 1075.5 854.5 1076.5 849.5 1078.5 866.5 1078.5 864.5 1078.5 824.5 1073.5 780.5 1071.5 786.5 1066.5 803.5 1073.5 827.5 1073.5 796.5 1069.5 805.5 1075.5 815.5 1075.5 765.5 1075.5 780.5 1069.5 783.5 1064.5 787.5 1068.5 804.5 1038.5 794.5 1064.5 798.5 1071.5 789.5 1073.5 816.5 1075.5 805.5 1071.5 782.5 1062.5 781.5 1071.5 796.5 1071.5 781.5 1068.5 798.5 1068.5 813.5 1075.5 797.5 1066.5 859.5 1076.5 813.5 1071.5 821.5 1073.5 786.5 1064.5 844.5 1076.5 808.5 1071.5 794.5 1068.5 777.5 1071.5 766.5 1071.5 788.5 1069.5 837.5 1075.5 809.5 1071.5 866.5 1080.5 814.5 1075.5 806.5 1073.5 776.5 1075.5 779.5 1069.5 832.5 1062.5 778.5 1064.5 799.5 1075.5 814.5 1048.5 804.5 1075.5 800.5 988.5"/>
</g>
<g clip-path="url(#c02)" fill="none" stroke="none">
<path stroke="#0000ff" stroke-width="1" d="M1198 304.5h1M1198 305.5h1M1198 309.5h1M1198 310.5h1M1173 323.5h4m4 0h1M1171 325.5h5m3 0h1m4 0h1m3 0h1M1179 326.5h1m4 0h1M1184 327.5h1M1176 328.5h1m3 0h2m3 0h5M1163 330.5h5m16 0h1M1184 331.5h1M1138 332.5h3m21 0h1m21 0h3m3 0h1M1162 333.5h1M1140 334.5h2m20 0h1m10 0h1m16 0h1M1138 335.5h4m17 0h7m4 0h3m3 0h1m10 0h1M1162 336.5h1m27 0h1M1150 337.5h1m11 0h1m6 0h1M1162 338.5h1m27 0h1M1153 339.5h1m5 0h1m46 0h1M1117 341.5h1m41 0h1m22 0h1m8 0h1M1120 342.5h1m37 0h1m3 0h1m29 0h1m16 0h1M1178 344.5h1m5 0h1m2 0h9M1139 345.5h1m34 0h1m3 0h1M1136 346.5h1m3 0h1m11 0h6m16 0h2m8 0h3m4 0h1M1139 347.5h1m34 0h1m3 0h1M1136 348.5h5m21 0h1m3 0h17m9 0h2M1139 349.5h1m14 0h12m8 0h1m3 0h1m3 0h4M1174 350.5h1M1151 351.5h7m16 0h1m7 0h1m7 0h1M1190 352.5h1M1155 353.5h10m20 0h1m3 0h3m9 0h1m11 0h1m3 0h3M1158 354.5h1m32 0h1m9 0h1M1118 355.5h1m8 0h1m14 0h1m8 0h8m6 0h1m13 0h3m4 0h1m4 0h1m24 0h1M1117 356.5h1m25 0h1m4 0h4m3 0h7m3 0h1m7 0h4m3 0h1m4 0h3M1177 357.5h1M1128 358.5h2m18 0h6m8 0h7m15 0h1m9 0h2M1118 359.5h1m31 0h1m13 0h1m19 0h1m7 0h1m8 0h1m1 0h1M1127 360.5h1m3 0h1m18 0h1m8 0h1m4 0h2m4 0h2m7 0h1m4 0h1m6 0h2m4 0h5m5 0h1M1150 361.5h1m8 0h1m20 0h1m3 0h1m7 0h1m10 0h1m3 0h1M1128 362.5h1m3 0h3m11 0h9m7 0h1m4 0h2m3 0h1m10 0h1m5 0h1m10 0h3m4 0h1m2 0h1m13 0h1M1150 363.5h1m8 0h1m24 0h1m25 0h1M1152 364.5h1m3 0h2m7 0h7m5 0h3m9 0h1m6 0h1m8 0h8M1147 365.5h6m25 0h3m5 0h5m3 0h1m8 0h1m3 0h1m4 0h1m6 0h7M1159 366.5h1m38 0h1m5 0h1m5 0h1M1081 367.5h5m63 0h1m5 0h1m5 0h4m3 0h1m3 0h2m6 0h1m11 0h1m9 0h1m6 0h1M1081 368.5h1m3 0h1m72 0h1m35 0h1m15 0h1M1081 369.5h5m48 0h7m10 0h2m5 0h5m3 0h1m16 0h1m9 0h3m5 0h1m5 0h1m4 0h1M1081 370.5h1m3 0h1m33 0h1m31 0h1m6 0h1m18 0h1m16 0h1m1 0h1m8 0h1M1080 371.5h6m25 0h3m5 0h1m11 0h1m12 0h1m3 0h3m3 0h8m12 0h1m16 0h2m11 0h3m5 0h1M1081 372.5h1m37 0h1m3 0h1m13 0h1m3 0h9m3 0h3m10 0h1m6 0h1m16 0h1m5 0h1m6 0h4m3 0h1M1081 373.5h1m30 0h1m6 0h1m3 0h1m17 0h1m1 0h2m3 0h1m25 0h1M1078 374.5h6m19 0h27m11 0h1m1 0h5m3 0h1m5 0h1m6 0h1m6 0h1m22 0h2m6 0h1m5 0h3m4 0h1M1103 375.5h1m8 0h1m6 0h1m3 0h1m7 0h1m9 0h1m2 0h1m3 0h1m2 0h1m49 0h1m10 0h1M1089 376.5h7m7 0h1m5 0h4m6 0h1m3 0h4m4 0h1m5 0h17m4 0h1m11 0h1m29 0h1m4 0h3m4 0h1M1103 377.5h1m8 0h1m6 0h1m3 0h1m7 0h1m6 0h1m2 0h1m4 0h3m20 0h1M1090 378.5h6m6 0h11m6 0h16m3 0h1m2 0h1m1 0h1m3 0h9m5 0h1m4 0h1m31 0h2m9 0h1m4 0h1m5 0h1M1079 379.5h7m6 0h2m4 0h2m3 0h2m13 0h27m3 0h1m48 0h1m12 0h1M1093 380.5h1m35 0h1m1 0h2m5 0h4m4 0h1m6 0h1M1076 381.5h1m5 0h1m10 0h3m6 0h12m4 0h2m3 0h12m3 0h1m3 0h5m3 0h1m7 0h1m40 0h1m10 0h4M1099 382.5h1m8 0h1m2 0h1m17 0h1m2 0h1m5 0h2m10 0h1M1072 383.5h1m12 0h6m4 0h8m5 0h1m2 0h1m4 0h1m7 0h26m71 0h2m4 0h1M1072 384.5h1m14 0h1m1 0h2m7 0h3m7 0h1m2 0h1m12 0h1m4 0h1m2 0h1m5 0h4m85 0h1M1072 385.5h3m6 0h1m5 0h4m7 0h3m4 0h23m9 0h3m4 0h1m79 0h1M1069 386.5h6m6 0h29m6 0h25m82 0h4M1069 387.5h1m2 0h1m8 0h3m5 0h2m9 0h1m6 0h4m6 0h2m4 0h9m2 0h1M1069 388.5h1m2 0h1m5 0h23m4 0h7m5 0h20m88 0h3M1057 389.5h1m11 0h1m2 0h2m3 0h1m3 0h6m2 0h3m2 0h1m5 0h1m4 0h6m6 0h3m3 0h9m2 0h1m1 0h1M1057 390.5h1m8 0h61m3 0h5m88 0h1M1057 391.5h2m2 0h1m7 0h1m3 0h1m3 0h19m3 0h12m2 0h14M1054 392.5h8m1 0h1m2 0h1m2 0h59m100 0h2M1057 393.5h2m2 0h1m1 0h1m2 0h1m2 0h1m3 0h39m1 0h15M1050 394.5h1m6 0h69M1050 395.5h1m6 0h61m3 0h4M1050 396.5h1m8 0h9m1 0h48m7 0h1m106 0h1M1046 397.5h30m3 0h4m4 0h1m6 0h2m7 0h1m128 0h1M997 398.5h72m4 0h1M956 399.5h3m16 0h3m6 0h1m8 0h1m2 0h69m3 0h1M956 400.5h3m16 0h3m6 0h1m8 0h1m2 0h70m3 0h1M956 401.5h3m16 0h3m6 0h1m8 0h1m2 0h71m167 0h1M952 402.5h116m165 0h3M956 403.5h3m16 0h3m6 0h1m8 0h1m2 0h71"/>
<path marker-start="url(#b)" marker-mid="url(#b)" marker-end="url(#b)" d="M958.5 402.5 977.5 402.5 988.5 402.5 964.5 402.5 982.5 402.5 972.5 402.5 991.5 402.5 976.5 402.5 996.5 402.5 962.5 402.5 956.5 402.5 966.5 402.5 986.5 402.5 975.5 402.5 993.5 402.5 978.5 402.5 984.5 402.5 992.5 402.5 957.5 402.5 979.5 402.5 953.5 402.5 973.5 402.5 1008.5 402.5 1037.5 402.5 1114.5 395.5 1167.5 367.5 1127.5 386.5 1066.5 395.5 1205.5 346.5 1103.5 395.5 1178.5 346.5 1132.5 381.5 1198.5 365.5 1143.5 355.5 1158.5 356.5 1129.5 381.5 1184.5 349.5 1171.5 362.5 1152.5 372.5 1139.5 346.5 1102.5 379.5 1063.5 395.5 1164.5 362.5 1168.5 355.5 1098.5 386.5 1210.5 369.5 1196.5 342.5 1227.5 381.5 1071.5 399.5 1165.5 367.5 1222.5 390.5 1145.5 371.5 1182.5 344.5 1097.5 394.5 1140.5 372.5 1100.5 390.5 1218.5 365.5 1093.5 395.5 1220.5 379.5 1190.5 349.5 1189.5 325.5 1185.5 355.5 1076.5 390.5 1137.5 369.5 1127.5 358.5 1060.5 397.5 1142.5 383.5 1159.5 365.5 1074.5 355.5 1062.5 397.5 1143.5 376.5 1212.5 325.5 1171.5 323.5 1132.5 392.5 1219.5 378.5 1174.5 348.5 1225.5 362.5 1222.5 386.5 1168.5 369.5 1198.5 381.5 1169.5 348.5 1150.5 362.5 1176.5 362.5 1119.5 386.5 1212.5 374.5 1138.5 334.5 1224.5 386.5 1131.5 362.5 1162.5 339.5 1131.5 351.5 1072.5 386.5 1067.5 397.5 1073.5 392.5 1170.5 337.5 1090.5 376.5 1183.5 372.5 1087.5 383.5 1191.5 344.5 1154.5 351.5 1114.5 371.5 1140.5 335.5 1080.5 374.5 1124.5 385.5 1085.5 392.5 1119.5 379.5 1231.5 399.5 1153.5 337.5 1178.5 348.5 1173.5 353.5 1058.5 394.5 1093.5 378.5 1096.5 394.5 1156.5 369.5 1188.5 349.5 1057.5 402.5 1130.5 386.5 1110.5 390.5 1196.5 360.5 1190.5 348.5 1151.5 358.5 1196.5 326.5 1189.5 367.5 1089.5 383.5 1141.5 386.5 1169.5 367.5 1161.5 353.5 1082.5 367.5 1112.5 397.5 1160.5 349.5 1092.5 376.5 1181.5 326.5 1161.5 372.5 1159.5 342.5 1105.5 365.5 1079.5 381.5 1183.5 374.5 1150.5 339.5 1226.5 392.5 1221.5 385.5 1137.5 342.5 1121.5 381.5 1098.5 383.5 1072.5 385.5 1069.5 362.5 1194.5 371.5 1136.5 348.5 1172.5 337.5 1103.5 390.5 1078.5 392.5 1191.5 356.5 1139.5 385.5 1184.5 341.5 1106.5 392.5 1182.5 372.5 1099.5 385.5 1176.5 364.5 1090.5 386.5 1084.5 392.5 1131.5 379.5 1207.5 381.5 1191.5 358.5 1137.5 388.5 1134.5 379.5 1098.5 397.5 1155.5 371.5 1081.5 388.5 1208.5 372.5 1100.5 386.5 1187.5 346.5 1081.5 374.5 1074.5 395.5 1206.5 381.5 1207.5 367.5 1149.5 356.5 1123.5 376.5 1154.5 376.5 1208.5 351.5 1075.5 372.5 1151.5 351.5 1089.5 386.5 1056.5 402.5 1090.5 385.5 1103.5 374.5 1177.5 341.5 1055.5 401.5 1201.5 365.5 1124.5 386.5 1192.5 344.5 1070.5 394.5 1173.5 360.5 1187.5 367.5 1161.5 369.5 1131.5 374.5 1142.5 356.5 1075.5 390.5 1057.5 392.5 1155.5 355.5 1114.5 392.5 1143.5 388.5 1135.5 362.5 1187.5 332.5 1178.5 362.5 1113.5 383.5 1192.5 358.5 1184.5 328.5 1108.5 381.5 1187.5 353.5 1053.5 397.5 1159.5 374.5 1093.5 381.5 1129.5 390.5 1122.5 395.5 1082.5 379.5 1201.5 371.5 1153.5 371.5 1232.5 402.5 1147.5 379.5 1146.5 378.5 1179.5 328.5 1221.5 371.5 1120.5 388.5 1082.5 388.5 1126.5 376.5 1087.5 395.5 1221.5 365.5 1123.5 374.5 1076.5 397.5 1086.5 397.5 1131.5 388.5 1162.5 335.5 1069.5 379.5 1095.5 379.5 1106.5 386.5 1081.5 386.5 1148.5 374.5 1230.5 392.5 1165.5 348.5 1086.5 392.5 1203.5 360.5 1190.5 358.5 1177.5 369.5 1180.5 358.5 1197.5 364.5 1224.5 365.5 1176.5 334.5 1152.5 367.5 1128.5 360.5 1098.5 394.5 1072.5 397.5 1150.5 381.5 1077.5 392.5 1080.5 341.5 1111.5 381.5 1076.5 379.5 1186.5 360.5 1171.5 367.5 1179.5 356.5 1213.5 355.5 1126.5 388.5 1140.5 386.5 1061.5 394.5 1167.5 360.5 1210.5 371.5 1141.5 383.5 1105.5 386.5 1062.5 386.5 1151.5 371.5 1113.5 390.5 1153.5 381.5 1085.5 367.5 1192.5 362.5 1085.5 371.5 1164.5 356.5 1209.5 339.5 1229.5 397.5 1155.5 346.5 1064.5 397.5 1201.5 362.5 1196.5 334.5 1175.5 360.5 1085.5 397.5 1201.5 356.5 1125.5 378.5 1117.5 342.5 1115.5 348.5 1179.5 323.5 1138.5 376.5 1201.5 378.5 1210.5 360.5 1158.5 353.5 1157.5 349.5 1054.5 383.5 1158.5 341.5 1199.5 369.5 1109.5 378.5 1162.5 349.5 1215.5 376.5 1126.5 364.5 1188.5 328.5 1165.5 358.5 1164.5 330.5 1138.5 379.5 1162.5 356.5 1118.5 378.5 1118.5 362.5 1226.5 374.5 1175.5 364.5 1220.5 381.5 1195.5 360.5 1210.5 344.5 1217.5 378.5 1093.5 392.5 1175.5 349.5 1182.5 328.5 1201.5 351.5 1206.5 379.5 1173.5 335.5 1116.5 385.5 1050.5 397.5 1102.5 392.5 1168.5 364.5 1139.5 383.5 1226.5 395.5 1072.5 390.5 1126.5 383.5 1181.5 356.5 1108.5 388.5 1147.5 381.5 1056.5 401.5 1058.5 392.5 1174.5 362.5 1179.5 365.5 1094.5 388.5 1201.5 376.5 1176.5 374.5 1075.5 360.5 1207.5 379.5 1131.5 378.5 1069.5 390.5 1129.5 371.5 1110.5 371.5 1112.5 374.5 1144.5 372.5 1149.5 365.5 1139.5 348.5 1161.5 334.5 1184.5 362.5 1101.5 390.5 1186.5 353.5 1212.5 367.5 1132.5 383.5 1140.5 349.5 1074.5 383.5 1081.5 369.5 1146.5 365.5 1129.5 355.5 1153.5 346.5 1136.5 369.5 1118.5 356.5 1200.5 365.5 1106.5 374.5 1123.5 379.5 1227.5 386.5 1091.5 390.5 1159.5 364.5 1231.5 397.5 1099.5 383.5 1103.5 378.5 1149.5 383.5 1104.5 381.5 1154.5 326.5 1081.5 394.5 1205.5 372.5 1149.5 376.5 1079.5 390.5 1083.5 379.5 1140.5 383.5 1151.5 372.5 1075.5 395.5 1087.5 386.5 1122.5 392.5 1153.5 378.5 1190.5 337.5 1109.5 388.5 1115.5 390.5 1111.5 392.5 1210.5 365.5 1203.5 362.5 1095.5 388.5 1210.5 364.5 1117.5 385.5 1081.5 371.5 1085.5 386.5 1108.5 385.5 1220.5 353.5 1087.5 394.5 1117.5 355.5 1153.5 355.5 1177.5 360.5 1159.5 362.5 1206.5 355.5 1100.5 355.5 1173.5 364.5 1212.5 378.5 1110.5 362.5 1183.5 332.5 1125.5 386.5 1164.5 372.5 1111.5 385.5 1158.5 367.5 1216.5 353.5 1184.5 356.5 1189.5 365.5 1166.5 330.5 1232.5 401.5 1173.5 371.5 1180.5 348.5 1148.5 358.5 1177.5 356.5 1152.5 362.5 1097.5 397.5 1067.5 374.5 1086.5 388.5 1202.5 365.5 1119.5 372.5 1112.5 376.5 1134.5 386.5 1187.5 150.5 1146.5 199.5 1141.5 206.5 1119.5 236.5 1182.5 240.5 1184.5 266.5 1161.5 275.5 1181.5 302.5 1198.5 302.5 1198.5 307.5 1198.5 312.5 1167.5 309.5 1155.5 314.5 1191.5 321.5 1216.5 335.5 1206.5 342.5 1120.5 341.5 1121.5 314.5 1071.5 323.5 1082.5 332.5 1090.5 335.5 1056.5 342.5 1075.5 342.5 1139.5 328.5 1141.5 332.5 1173.5 325.5 1176.5 325.5 1190.5 335.5 1192.5 341.5 1191.5 351.5"/>
<path stroke="#ff0000" stroke-width="1" d="M1187 150.5h1M1182 240.5h1M1184 266.5h1M1161 275.5h1M1181 302.5h1m16 0h1M1198 307.5h1M1167 309.5h1M1198 312.5h1M1155 314.5h1M1191 321.5h1M1170 322.5h1m21 0h1M1171 323.5h1m6 0h2m13 0h1M1172 324.5h1m2 0h1m2 0h3m7 0h1m5 0h1M1173 325.5h1m2 0h1m4 0h2m2 0h1m1 0h1m1 0h1m22 0h1M1174 326.5h4m3 0h2m3 0h1m3 0h1m5 0h1M1175 327.5h1m2 0h10M1179 328.5h1m2 0h3m3 0h1M1165 329.5h1m12 0h8M1164 330.5h3m13 0h3m2 0h2M1158 331.5h1m6 0h1m13 0h1m1 0h2m2 0h3M1159 332.5h1m5 0h1m17 0h1m3 0h1M1160 333.5h5m10 0h1m12 0h1M1161 334.5h3m12 0h1m8 0h1m3 0h1m6 0h1M1140 335.5h1m21 0h1m10 0h1m16 0h1m25 0h1M1159 336.5h5m7 0h4m14 0h3M1160 337.5h1m3 0h1m5 0h4m14 0h1m1 0h1M1159 338.5h3m3 0h1m5 0h1m15 0h1m1 0h1M1156 339.5h1m5 0h1m31 0h1m14 0h1M1157 340.5h1m3 0h1m25 0h1m5 0h1m14 0h1M1120 341.5h1m37 0h3m16 0h1m6 0h1m3 0h1m3 0h4m11 0h1M1137 342.5h1m21 0h1m23 0h1m5 0h5m2 0h1m9 0h1m5 0h1M1136 343.5h1m21 0h3m14 0h1m5 0h1m8 0h3M1157 344.5h1m3 0h1m18 0h3m6 0h6m15 0h1M1140 345.5h1m15 0h1m5 0h1m8 0h1m5 0h1m3 0h3m2 0h8m15 0h1M1139 346.5h1m15 0h1m7 0h1m3 0h1m4 0h1m3 0h8m3 0h7m11 0h1M1164 347.5h1m8 0h10m1 0h8m2 0h2M1161 348.5h1m3 0h1m3 0h1m4 0h7m2 0h9M1157 349.5h1m2 0h3m10 0h3m3 0h13M1159 350.5h5m3 0h1m4 0h1m3 0h1m5 0h11M1159 351.5h2m1 0h1m8 0h2m2 0h3m3 0h13m7 0h1m6 0h1m9 0h1M1157 352.5h4m11 0h1m5 0h12m19 0h1M1158 353.5h1m14 0h1m6 0h9m5 0h1m9 0h1m11 0h1m3 0h1M1154 354.5h1m24 0h11m4 0h1m10 0h1M1143 355.5h1m9 0h3m7 0h1m14 0h13m15 0h1m6 0h1m4 0h1M1154 356.5h1m7 0h3m12 0h8m4 0h4m8 0h1m12 0h1M1163 357.5h2m5 0h1m5 0h9m4 0h5m6 0h1M1165 358.5h1m9 0h8m5 0h6m3 0h3m3 0h1M1161 359.5h1m4 0h3m4 0h10m4 0h12m5 0h1M1163 360.5h1m2 0h2m4 0h11m3 0h5m2 0h4m6 0h1m6 0h1M1151 361.5h1m4 0h1m5 0h2m1 0h1m2 0h1m1 0h10m3 0h7m3 0h5m2 0h5m5 0h1M1150 362.5h3m4 0h5m2 0h1m4 0h20m3 0h18m2 0h1m8 0h1m3 0h1M1148 363.5h4m6 0h4m3 0h1m3 0h18m3 0h22m14 0h1M1148 364.5h3m4 0h1m2 0h5m3 0h21m3 0h21m12 0h1M1146 365.5h1m2 0h1m6 0h6m5 0h44m7 0h1m2 0h1m2 0h1M1148 366.5h1m8 0h5m2 0h12m2 0h36M1147 367.5h1m3 0h2m3 0h4m2 0h1m2 0h7m4 0h16m1 0h21M1152 368.5h21m3 0h38m4 0h1m2 0h1m2 0h1M1150 369.5h1m2 0h4m3 0h16m1 0h35m2 0h1M1149 370.5h1m2 0h6m1 0h16m3 0h4m2 0h28M1151 371.5h6m1 0h46m3 0h4m10 0h1M1150 372.5h62M1147 373.5h7m3 0h53m2 0h1M1142 374.5h1m5 0h3m1 0h56m4 0h2m12 0h1M1142 375.5h2m5 0h2m3 0h52m4 0h2m2 0h3M1141 376.5h4m6 0h1m2 0h51m4 0h3m2 0h4M1142 377.5h4m5 0h55m3 0h10m3 0h2M1144 378.5h3m3 0h59m3 0h10M1145 379.5h76M1144 380.5h67m2 0h9M1143 381.5h1m3 0h76m4 0h1M1142 382.5h1m2 0h77m1 0h2M1141 383.5h1m2 0h82M1139 384.5h86M1140 385.5h87M1124 386.5h1m10 0h93M1136 387.5h90M1126 388.5h1m10 0h90M1127 389.5h1m2 0h1m6 0h89m1 0h1M1127 390.5h6m2 0h91m2 0h1M1127 391.5h100M1126 392.5h102m2 0h1M1125 393.5h106M1119 394.5h1m4 0h106m2 0h1M1118 395.5h112m3 0h1M1117 396.5h114M1069 397.5h1m6 0h18m2 0h138M1064 398.5h172M1063 399.5h1m1 0h170M1066 400.5h169M1061 401.5h1m5 0h167M1063 402.5h1m2 0h167M1065 403.5h169"/>
<path marker-start="url(#r)" marker-mid="url(#r)" marker-end="url(#r)" d="M1167.5 367.5 1205.5 346.5 1194.5 372.5 1178.5 346.5 1198.5 365.5 1143.5 355.5 1184.5 349.5 1171.5 362.5 1216.5 383.5 1167.5 376.5 1139.5 346.5 1195.5 378.5 1122.5 399.5 1164.5 362.5 1230.5 401.5 1210.5 369.5 1196.5 342.5 1140.5 392.5 1227.5 381.5 1082.5 401.5 1180.5 364.5 1165.5 367.5 1222.5 390.5 1182.5 344.5 1066.5 402.5 1145.5 385.5 1083.5 401.5 1218.5 365.5 1186.5 349.5 1061.5 401.5 1220.5 379.5 1190.5 349.5 1189.5 325.5 1185.5 355.5 1159.5 383.5 1084.5 401.5 1159.5 365.5 1161.5 383.5 1212.5 325.5 1218.5 381.5 1171.5 323.5 1219.5 378.5 1174.5 348.5 1150.5 386.5 1131.5 395.5 1144.5 388.5 1196.5 365.5 1225.5 362.5 1222.5 386.5 1231.5 402.5 1124.5 394.5 1224.5 395.5 1168.5 369.5 1198.5 381.5 1169.5 348.5 1150.5 362.5 1100.5 401.5 1124.5 399.5 1176.5 362.5 1191.5 369.5 1212.5 374.5 1155.5 381.5 1224.5 386.5 1162.5 339.5 1090.5 401.5 1170.5 337.5 1183.5 372.5 1191.5 344.5 1140.5 335.5 1231.5 399.5 1077.5 401.5 1178.5 348.5 1177.5 372.5 1153.5 386.5 1203.5 376.5 1173.5 353.5 1227.5 399.5 1068.5 402.5 1188.5 349.5 1168.5 381.5 1162.5 378.5 1170.5 372.5 1141.5 390.5 1078.5 401.5 1196.5 360.5 1190.5 348.5 1204.5 367.5 1063.5 402.5 1205.5 381.5 1145.5 388.5 1220.5 388.5 1196.5 326.5 1189.5 367.5 1141.5 386.5 1169.5 367.5 1160.5 349.5 1181.5 326.5 1161.5 372.5 1207.5 364.5 1159.5 342.5 1174.5 374.5 1229.5 401.5 1226.5 392.5 1221.5 385.5 1137.5 342.5 1121.5 397.5 1194.5 371.5 1172.5 337.5 1191.5 356.5 1098.5 401.5 1184.5 341.5 1182.5 372.5 1176.5 364.5 1072.5 402.5 1207.5 381.5 1191.5 358.5 1149.5 386.5 1168.5 372.5 1155.5 371.5 1199.5 379.5 1208.5 372.5 1187.5 346.5 1209.5 381.5 1107.5 401.5 1206.5 381.5 1214.5 379.5 1207.5 367.5 1073.5 401.5 1154.5 376.5 1208.5 351.5 1180.5 371.5 1183.5 365.5 1151.5 376.5 1131.5 390.5 1186.5 369.5 1205.5 369.5 1220.5 392.5 1147.5 386.5 1097.5 401.5 1185.5 374.5 1178.5 376.5 1178.5 374.5 1164.5 379.5 1177.5 341.5 1173.5 378.5 1201.5 365.5 1124.5 386.5 1192.5 344.5 1189.5 372.5 1128.5 395.5 1173.5 360.5 1187.5 367.5 1161.5 369.5 1143.5 376.5 1184.5 365.5 1170.5 381.5 1079.5 401.5 1155.5 355.5 1143.5 388.5 1186.5 351.5 1210.5 385.5 1187.5 332.5 1120.5 399.5 1199.5 374.5 1178.5 362.5 1192.5 358.5 1184.5 328.5 1187.5 353.5 1188.5 369.5 1205.5 383.5 1131.5 394.5 1159.5 374.5 1129.5 390.5 1126.5 399.5 1110.5 399.5 1201.5 371.5 1153.5 371.5 1232.5 402.5 1153.5 383.5 1146.5 378.5 1204.5 374.5 1179.5 328.5 1185.5 351.5 1221.5 371.5 1206.5 367.5 1137.5 392.5 1120.5 397.5 1221.5 365.5 1130.5 392.5 1067.5 401.5 1181.5 374.5 1162.5 335.5 1155.5 383.5 1215.5 385.5 1143.5 390.5 1162.5 371.5 1085.5 401.5 1196.5 374.5 1230.5 392.5 1165.5 348.5 1075.5 401.5 1203.5 360.5 1220.5 386.5 1165.5 381.5 1190.5 358.5 1177.5 369.5 1127.5 399.5 1165.5 378.5 1180.5 358.5 1195.5 379.5 1197.5 364.5 1138.5 388.5 1224.5 365.5 1176.5 334.5 1152.5 367.5 1186.5 360.5 1171.5 367.5 1179.5 356.5 1160.5 378.5 1192.5 369.5 1074.5 401.5 1202.5 383.5 1092.5 401.5 1213.5 355.5 1167.5 360.5 1210.5 371.5 1141.5 383.5 1127.5 397.5 1223.5 388.5 1187.5 372.5 1167.5 372.5 1151.5 371.5 1153.5 381.5 1192.5 362.5 1164.5 356.5 1209.5 339.5 1129.5 397.5 1229.5 397.5 1193.5 374.5 1155.5 346.5 1220.5 390.5 1192.5 365.5 1201.5 362.5 1196.5 334.5 1193.5 365.5 1161.5 374.5 1174.5 376.5 1175.5 360.5 1201.5 356.5 1179.5 323.5 1201.5 378.5 1210.5 360.5 1138.5 392.5 1217.5 383.5 1215.5 381.5 1158.5 353.5 1157.5 349.5 1117.5 397.5 1158.5 341.5 1158.5 378.5 1199.5 369.5 1162.5 349.5 1106.5 401.5 1215.5 376.5 1158.5 371.5 1188.5 328.5 1165.5 358.5 1164.5 330.5 1162.5 356.5 1070.5 402.5 1226.5 374.5 1175.5 364.5 1127.5 395.5 1220.5 381.5 1194.5 381.5 1195.5 360.5 1128.5 394.5 1210.5 344.5 1217.5 378.5 1175.5 349.5 1182.5 328.5 1201.5 351.5 1206.5 379.5 1173.5 335.5 1168.5 364.5 1156.5 381.5 1226.5 395.5 1181.5 356.5 1147.5 381.5 1190.5 374.5 1117.5 399.5 1174.5 362.5 1179.5 365.5 1201.5 376.5 1176.5 374.5 1207.5 379.5 1149.5 365.5 1161.5 334.5 1184.5 362.5 1182.5 355.5 1186.5 353.5 1212.5 367.5 1176.5 376.5 1146.5 365.5 1226.5 397.5 1192.5 378.5 1200.5 365.5 1167.5 374.5 1227.5 386.5 1159.5 364.5 1200.5 383.5 1231.5 397.5 1144.5 376.5 1169.5 374.5 1119.5 394.5 1166.5 371.5 1205.5 372.5 1219.5 383.5 1151.5 372.5 1190.5 378.5 1203.5 371.5 1148.5 381.5 1153.5 378.5 1190.5 337.5 1202.5 379.5 1194.5 367.5 1169.5 378.5 1161.5 376.5 1166.5 379.5 1139.5 390.5 1195.5 376.5 1210.5 365.5 1203.5 362.5 1196.5 385.5 1157.5 378.5 1184.5 367.5 1136.5 394.5 1210.5 364.5 1220.5 353.5 1140.5 388.5 1153.5 355.5 1177.5 360.5 1159.5 362.5 1206.5 355.5 1148.5 374.5 1173.5 364.5 1172.5 379.5 1212.5 378.5 1183.5 332.5 1175.5 378.5 1155.5 385.5 1217.5 386.5 1164.5 372.5 1158.5 367.5 1216.5 353.5 1184.5 356.5 1189.5 365.5 1166.5 330.5 1232.5 401.5 1196.5 367.5 1173.5 371.5 1180.5 348.5 1177.5 356.5 1228.5 401.5 1152.5 362.5 1141.5 376.5 1202.5 365.5 1163.5 371.5 1069.5 402.5 1187.5 150.5 1182.5 240.5 1184.5 266.5 1161.5 275.5 1181.5 302.5 1198.5 302.5 1198.5 307.5 1198.5 312.5 1167.5 309.5 1155.5 314.5 1191.5 321.5 1216.5 335.5 1206.5 342.5 1120.5 341.5 1173.5 325.5 1176.5 325.5 1190.5 335.5 1192.5 341.5 1191.5 351.5"/>
</g>
<g clip-path="url(#c12)" fill="none" stroke="none">
<path stroke="#0000ff" stroke-width="1" d="M1198 643.5h1M1198 644.5h1M1198 648.5h1M1198 649.5h1M1173 662.5h4m4 0h1M1171 664.5h5m3 0h1m4 0h1m3 0h1M1179 665.5h6M1184 666.5h1M1176 667.5h14M1184 668.5h1M1161 669.5h7m16 0h1M1184 670.5h1M1138 671.5h3m21 0h1m21 0h3m3 0h1M1140 672.5h2m20 0h3m8 0h1M1162 673.5h1m27 0h1M1138 674.5h4m17 0h7m4 0h3m3 0h1m10 0h1M1162 675.5h1m27 0h1M1150 676.5h1m11 0h1m6 0h5m16 0h3M1162 677.5h1m27 0h1M1153 678.5h1m5 0h4m43 0h1M1117 679.5h1m41 0h1m30 0h2M1191 680.5h2M1120 681.5h1m37 0h1m3 0h1m28 0h2m16 0h1M1191 682.5h2M1139 683.5h1m34 0h1m3 0h3m6 0h9M1139 684.5h1m34 0h1m3 0h1m11 0h2M1136 685.5h5m11 0h6m16 0h7m3 0h8M1136 686.5h5m21 0h1m3 0h17m3 0h8M1139 687.5h1m34 0h1m3 0h1m7 0h1m3 0h2M1139 688.5h1m14 0h12m8 0h1m3 0h1m3 0h10M1174 689.5h1m11 0h1m3 0h1M1151 690.5h7m24 0h9M1185 691.5h2M1155 692.5h10m19 0h8m9 0h1m11 0h1m3 0h3M1158 693.5h1m26 0h2m4 0h1m9 0h1M1118 694.5h1m8 0h1m14 0h1m8 0h8m6 0h1m13 0h9m3 0h1m24 0h1M1117 695.5h1m25 0h1m4 0h4m3 0h11m7 0h20M1177 696.5h1m13 0h1M1128 697.5h2m18 0h6m8 0h7m8 0h8m3 0h8M1118 698.5h1m31 0h1m8 0h1m4 0h1m12 0h1m6 0h1m6 0h2m8 0h1m1 0h1M1126 699.5h2m3 0h1m18 0h1m8 0h1m4 0h17m3 0h1m6 0h13m3 0h1M1150 700.5h1m8 0h1m13 0h4m3 0h1m3 0h1m7 0h1m10 0h1m3 0h1m2 0h1M1128 701.5h1m3 0h3m11 0h9m4 0h4m4 0h30m3 0h8m2 0h1m13 0h1M1128 702.5h1m21 0h1m5 0h7m4 0h13m3 0h2m7 0h20M1150 703.5h1m1 0h1m6 0h1m11 0h1m4 0h1m6 0h2m4 0h1m2 0h1m3 0h1m7 0h1m5 0h1M1146 704.5h7m5 0h1m12 0h1m4 0h37m6 0h7M1159 705.5h1m8 0h1m15 0h1m7 0h1m3 0h6M1081 706.5h5m63 0h25m6 0h31m10 0h1M1081 707.5h1m3 0h1m72 0h1m2 0h1m21 0h2m9 0h1m1 0h1m13 0h1M1081 708.5h5m48 0h7m10 0h21m5 0h4m2 0h2m4 0h20m3 0h1M1081 709.5h5m25 0h3m5 0h1m24 0h1m3 0h30m4 0h27m3 0h1M1081 710.5h1m37 0h1m28 0h1m2 0h1m9 0h1m5 0h2m5 0h1m2 0h1m5 0h1m1 0h4m5 0h1m1 0h1m2 0h1m4 0h2m4 0h1M1081 711.5h1m37 0h1m3 0h1m13 0h1m3 0h15m2 0h39m2 0h1m1 0h6m3 0h1M1081 712.5h1m30 0h1m6 0h1m3 0h1m17 0h1m1 0h2m3 0h1m2 0h1m9 0h1m5 0h2m4 0h2m1 0h15m5 0h1m4 0h1M1078 713.5h6m19 0h24m4 0h1m9 0h1m1 0h10m4 0h32m3 0h17m6 0h1M1103 714.5h1m8 0h1m6 0h1m3 0h1m7 0h1m9 0h1m1 0h2m3 0h1m2 0h1m6 0h8m1 0h3m3 0h15m6 0h3m4 0h1m10 0h1M1089 715.5h7m7 0h1m5 0h4m6 0h1m3 0h4m4 0h1m5 0h48m5 0h11m4 0h3m4 0h6M1090 716.5h6m6 0h5m5 0h1m6 0h16m3 0h1m2 0h1m1 0h41m5 0h11m3 0h1m8 0h9M1093 717.5h1m25 0h1m3 0h1m5 0h1m1 0h1m6 0h1m2 0h1m1 0h1m2 0h3m4 0h9m5 0h14m11 0h4m11 0h1m1 0h1m4 0h1m5 0h1M1079 718.5h7m6 0h2m4 0h2m3 0h2m13 0h33m2 0h11m3 0h15m5 0h7m3 0h15m4 0h4M1093 719.5h1m35 0h1m1 0h2m5 0h4m4 0h3m4 0h26m11 0h1m11 0h1m3 0h1m2 0h1m7 0h2M1076 720.5h1m5 0h1m12 0h1m6 0h12m5 0h1m3 0h12m3 0h1m3 0h41m6 0h1m9 0h3m3 0h9m8 0h1M1099 721.5h1m8 0h1m2 0h1m17 0h1m2 0h1m5 0h2m6 0h5m2 0h14m5 0h2m8 0h1m17 0h1m6 0h3M1072 722.5h1m12 0h6m4 0h8m5 0h1m2 0h1m4 0h1m7 0h44m3 0h3m6 0h1m12 0h2m13 0h2m4 0h2m5 0h2m4 0h1M1072 723.5h1m14 0h1m1 0h2m7 0h3m7 0h1m2 0h1m12 0h1m4 0h1m2 0h1m5 0h4m4 0h5m2 0h16m41 0h1m16 0h1M1072 724.5h3m6 0h1m5 0h4m7 0h3m4 0h23m9 0h32m6 0h1m28 0h1m7 0h2m8 0h3M1069 725.5h6m6 0h29m6 0h55m41 0h1m4 0h1m5 0h4M1069 726.5h1m2 0h1m8 0h3m5 0h2m9 0h1m6 0h4m6 0h2m4 0h9m2 0h1m1 0h6m1 0h22m3 0h2M1069 727.5h1m2 0h1m5 0h23m4 0h7m5 0h48m60 0h3M1057 728.5h1m11 0h1m2 0h2m3 0h1m3 0h14m5 0h1m4 0h6m6 0h3m3 0h9m2 0h31M1057 729.5h2m2 0h1m4 0h98m59 0h1M1057 730.5h2m2 0h1m7 0h1m3 0h1m3 0h19m3 0h12m2 0h20m1 0h29M1054 731.5h8m1 0h1m2 0h1m2 0h93m66 0h2M1057 732.5h95m3 0h1m3 0h2M1050 733.5h1m6 0h2m2 0h3m2 0h2m1 0h1m3 0h80M1050 734.5h1m6 0h97M1050 735.5h1m7 0h42m3 0h1m17 0h1M1046 736.5h51M997 737.5h89M956 738.5h3m16 0h3m6 0h1m8 0h1m2 0h91M956 739.5h3m16 0h3m6 0h1m8 0h1m2 0h86M956 740.5h3m16 0h3m6 0h1m8 0h1m2 0h87M952 741.5h132m4 0h2m143 0h3M956 742.5h3m16 0h3m6 0h1m8 0h1m2 0h80m1 0h6m5 0h2"/>
<path marker-start="url(#b)" marker-mid="url(#b)" marker-end="url(#b)" d="M958.5 741.5 977.5 741.5 988.5 741.5 964.5 741.5 982.5 741.5 972.5 741.5 991.5 741.5 976.5 741.5 996.5 741.5 962.5 741.5 956.5 741.5 966.5 741.5 986.5 741.5 975.5 741.5 993.5 741.5 978.5 741.5 984.5 741.5 992.5 741.5 957.5 741.5 979.5 741.5 953.5 741.5 973.5 741.5 1008.5 741.5 1037.5 741.5 1114.5 734.5 1167.5 706.5 1127.5 725.5 1066.5 734.5 1205.5 685.5 1194.5 711.5 1103.5 734.5 1178.5 685.5 1132.5 720.5 1198.5 704.5 1102.5 732.5 1143.5 694.5 1158.5 695.5 1129.5 720.5 1184.5 688.5 1116.5 732.5 1171.5 701.5 1152.5 711.5 1167.5 715.5 1139.5 685.5 1102.5 718.5 1063.5 734.5 1164.5 701.5 1168.5 694.5 1098.5 725.5 1210.5 708.5 1159.5 718.5 1196.5 681.5 1092.5 732.5 1227.5 720.5 1180.5 702.5 1165.5 706.5 1222.5 729.5 1145.5 709.5 1182.5 683.5 1180.5 715.5 1097.5 732.5 1088.5 732.5 1140.5 711.5 1145.5 724.5 1100.5 729.5 1218.5 704.5 1093.5 734.5 1186.5 688.5 1130.5 734.5 1220.5 718.5 1190.5 688.5 1189.5 664.5 1185.5 694.5 1076.5 729.5 1137.5 708.5 1127.5 697.5 1060.5 736.5 1142.5 722.5 1159.5 704.5 1074.5 694.5 1161.5 722.5 1062.5 736.5 1143.5 715.5 1212.5 664.5 1171.5 662.5 1132.5 731.5 1219.5 716.5 1174.5 686.5 1080.5 732.5 1144.5 727.5 1196.5 704.5 1225.5 701.5 1222.5 725.5 1168.5 708.5 1198.5 720.5 1169.5 686.5 1150.5 701.5 1176.5 701.5 1119.5 725.5 1191.5 708.5 1212.5 713.5 1138.5 672.5 1224.5 725.5 1148.5 729.5 1131.5 701.5 1162.5 678.5 1131.5 690.5 1072.5 725.5 1073.5 731.5 1170.5 676.5 1090.5 715.5 1087.5 722.5 1154.5 722.5 1154.5 690.5 1114.5 709.5 1140.5 674.5 1080.5 713.5 1124.5 724.5 1085.5 731.5 1046.5 739.5 1119.5 718.5 1213.5 727.5 1231.5 738.5 1153.5 676.5 1099.5 732.5 1178.5 686.5 1177.5 711.5 1148.5 722.5 1173.5 692.5 1058.5 732.5 1182.5 716.5 1093.5 716.5 1096.5 732.5 1156.5 708.5 1188.5 688.5 1057.5 741.5 1130.5 725.5 1162.5 716.5 1170.5 711.5 1146.5 724.5 1110.5 729.5 1196.5 699.5 1190.5 686.5 1164.5 716.5 1151.5 697.5 1205.5 720.5 1145.5 727.5 1054.5 739.5 1196.5 665.5 1189.5 706.5 1089.5 722.5 1132.5 732.5 1141.5 725.5 1169.5 706.5 1064.5 739.5 1151.5 727.5 1161.5 692.5 1082.5 706.5 1112.5 736.5 1160.5 688.5 1092.5 715.5 1181.5 665.5 1161.5 711.5 1207.5 702.5 1159.5 681.5 1105.5 704.5 1079.5 720.5 1165.5 713.5 1150.5 678.5 1226.5 731.5 1221.5 724.5 1137.5 681.5 1121.5 720.5 1098.5 722.5 1072.5 724.5 1069.5 701.5 1194.5 709.5 1136.5 686.5 1172.5 676.5 1103.5 729.5 1078.5 731.5 1191.5 695.5 1139.5 724.5 1184.5 679.5 1106.5 731.5 1182.5 711.5 1099.5 724.5 1176.5 702.5 1090.5 725.5 1131.5 718.5 1207.5 720.5 1191.5 697.5 1052.5 739.5 1137.5 727.5 1134.5 718.5 1168.5 711.5 1155.5 709.5 1101.5 732.5 1199.5 718.5 1081.5 727.5 1208.5 711.5 1100.5 725.5 1187.5 685.5 1081.5 713.5 1074.5 734.5 1206.5 720.5 1214.5 718.5 1207.5 706.5 1149.5 695.5 1123.5 715.5 1154.5 715.5 1163.5 724.5 1152.5 727.5 1208.5 690.5 1180.5 709.5 1075.5 711.5 1183.5 704.5 1151.5 715.5 1151.5 690.5 1186.5 708.5 1205.5 708.5 1089.5 725.5 1056.5 741.5 1078.5 732.5 1178.5 713.5 1090.5 724.5 1104.5 732.5 1103.5 713.5 1177.5 679.5 1055.5 739.5 1201.5 704.5 1124.5 725.5 1192.5 683.5 1189.5 711.5 1070.5 732.5 1173.5 699.5 1187.5 706.5 1161.5 708.5 1131.5 713.5 1170.5 720.5 1142.5 695.5 1075.5 729.5 1057.5 731.5 1155.5 694.5 1114.5 731.5 1143.5 727.5 1187.5 709.5 1135.5 701.5 1187.5 671.5 1199.5 713.5 1178.5 701.5 1113.5 722.5 1192.5 697.5 1184.5 667.5 1108.5 720.5 1187.5 692.5 1053.5 736.5 1159.5 713.5 1093.5 720.5 1129.5 729.5 1122.5 734.5 1082.5 718.5 1201.5 709.5 1153.5 709.5 1232.5 741.5 1147.5 718.5 1146.5 716.5 1204.5 713.5 1179.5 667.5 1185.5 690.5 1221.5 709.5 1120.5 727.5 1082.5 727.5 1126.5 715.5 1206.5 706.5 1087.5 734.5 1221.5 704.5 1154.5 729.5 1123.5 713.5 1076.5 736.5 1130.5 731.5 1131.5 727.5 1181.5 713.5 1162.5 674.5 1069.5 718.5 1049.5 739.5 1095.5 718.5 1106.5 725.5 1081.5 725.5 1162.5 709.5 1230.5 731.5 1165.5 686.5 1203.5 699.5 1190.5 697.5 1121.5 732.5 1177.5 708.5 1165.5 716.5 1048.5 739.5 1180.5 697.5 1120.5 732.5 1197.5 702.5 1127.5 732.5 1224.5 704.5 1176.5 672.5 1152.5 706.5 1128.5 699.5 1098.5 732.5 1072.5 736.5 1150.5 720.5 1077.5 731.5 1080.5 679.5 1111.5 720.5 1076.5 718.5 1186.5 699.5 1171.5 706.5 1179.5 695.5 1160.5 716.5 1068.5 739.5 1192.5 708.5 1213.5 694.5 1126.5 727.5 1140.5 725.5 1061.5 732.5 1167.5 699.5 1163.5 725.5 1210.5 709.5 1141.5 722.5 1105.5 725.5 1062.5 725.5 1223.5 727.5 1167.5 711.5 1151.5 709.5 1113.5 729.5 1085.5 706.5 1193.5 720.5 1192.5 701.5 1085.5 709.5 1164.5 695.5 1209.5 678.5 1229.5 736.5 1193.5 713.5 1155.5 685.5 1208.5 725.5 1135.5 732.5 1064.5 736.5 1201.5 701.5 1161.5 727.5 1196.5 672.5 1193.5 704.5 1174.5 715.5 1175.5 699.5 1201.5 695.5 1125.5 716.5 1117.5 681.5 1115.5 686.5 1179.5 662.5 1138.5 715.5 1201.5 716.5 1156.5 727.5 1210.5 699.5 1158.5 692.5 1157.5 688.5 1054.5 722.5 1158.5 679.5 1158.5 716.5 1199.5 708.5 1109.5 716.5 1162.5 688.5 1180.5 720.5 1215.5 715.5 1158.5 709.5 1126.5 702.5 1188.5 667.5 1165.5 697.5 1164.5 669.5 1138.5 718.5 1162.5 695.5 1118.5 716.5 1118.5 701.5 1226.5 713.5 1175.5 702.5 1186.5 716.5 1220.5 720.5 1195.5 699.5 1210.5 683.5 1217.5 716.5 1093.5 731.5 1175.5 688.5 1182.5 667.5 1201.5 690.5 1206.5 718.5 1173.5 674.5 1116.5 724.5 1050.5 736.5 1157.5 725.5 1102.5 731.5 1168.5 702.5 1156.5 720.5 1139.5 722.5 1226.5 734.5 1072.5 729.5 1126.5 722.5 1181.5 695.5 1108.5 727.5 1056.5 739.5 1058.5 731.5 1174.5 701.5 1179.5 704.5 1094.5 727.5 1201.5 715.5 1161.5 709.5 1176.5 713.5 1075.5 699.5 1207.5 718.5 1131.5 716.5 1069.5 729.5 1129.5 709.5 1110.5 709.5 1112.5 713.5 1144.5 711.5 1149.5 704.5 1139.5 686.5 1163.5 716.5 1161.5 672.5 1174.5 722.5 1184.5 701.5 1101.5 729.5 1182.5 694.5 1186.5 692.5 1212.5 706.5 1132.5 722.5 1140.5 688.5 1074.5 722.5 1051.5 739.5 1081.5 708.5 1146.5 704.5 1129.5 694.5 1153.5 685.5 1136.5 708.5 1118.5 695.5 1200.5 704.5 1106.5 713.5 1123.5 718.5 1227.5 725.5 1091.5 729.5 1159.5 702.5 1200.5 722.5 1231.5 736.5 1099.5 722.5 1144.5 715.5 1169.5 713.5 1103.5 716.5 1149.5 722.5 1166.5 709.5 1104.5 720.5 1076.5 738.5 1154.5 665.5 1129.5 732.5 1081.5 732.5 1205.5 711.5 1149.5 715.5 1079.5 729.5 1083.5 718.5 1140.5 722.5 1151.5 711.5 1203.5 709.5 1075.5 734.5 1087.5 725.5 1113.5 732.5 1122.5 731.5 1153.5 716.5 1190.5 676.5 1202.5 718.5 1194.5 706.5 1169.5 716.5 1166.5 718.5 1109.5 727.5 1133.5 734.5 1115.5 729.5 1195.5 715.5 1111.5 731.5 1210.5 704.5 1203.5 701.5 1157.5 724.5 1157.5 716.5 1184.5 706.5 1095.5 727.5 1210.5 702.5 1117.5 724.5 1081.5 709.5 1085.5 725.5 1108.5 724.5 1220.5 692.5 1087.5 732.5 1117.5 694.5 1153.5 694.5 1177.5 699.5 1159.5 701.5 1206.5 694.5 1100.5 694.5 1173.5 702.5 1172.5 718.5 1212.5 716.5 1110.5 701.5 1183.5 671.5 1175.5 716.5 1155.5 724.5 1125.5 725.5 1164.5 711.5 1111.5 724.5 1158.5 706.5 1216.5 692.5 1184.5 695.5 1189.5 704.5 1166.5 669.5 1232.5 739.5 1173.5 709.5 1180.5 686.5 1148.5 697.5 1177.5 695.5 1152.5 701.5 1067.5 713.5 1086.5 727.5 1202.5 704.5 1163.5 709.5 1119.5 711.5 1112.5 715.5 1134.5 725.5 1187.5 489.5 1146.5 538.5 1141.5 545.5 1119.5 575.5 1182.5 579.5 1184.5 605.5 1161.5 614.5 1181.5 641.5 1198.5 641.5 1198.5 646.5 1198.5 651.5 1167.5 648.5 1155.5 653.5 1191.5 660.5 1216.5 674.5 1206.5 681.5 1120.5 679.5 1121.5 653.5 1071.5 662.5 1082.5 671.5 1090.5 674.5 1056.5 681.5 1075.5 681.5 1139.5 667.5 1141.5 671.5 1173.5 664.5 1176.5 664.5 1190.5 674.5 1192.5 679.5 1191.5 690.5"/>
<path stroke="#ff0000" stroke-width="1" d="M1187 489.5h1M1182 579.5h1M1184 605.5h1M1198 641.5h1M1198 646.5h1M1198 651.5h1M1191 660.5h1M1173 664.5h1m2 0h1M1190 674.5h1m25 0h1M1192 679.5h1M1207 680.5h1M1206 681.5h1M1210 683.5h1M1209 684.5h1M1191 690.5h1m9 0h1m6 0h1M1213 694.5h1M1175 699.5h1m10 0h1m17 0h1m5 0h1M1202 700.5h1m2 0h1m3 0h1M1195 701.5h1m2 0h4m4 0h3m12 0h1M1190 702.5h1m5 0h8m3 0h2m1 0h1M1190 703.5h2m5 0h7m2 0h4M1159 704.5h1m24 0h1m4 0h4m2 0h5m1 0h6m2 0h1m8 0h1m2 0h1m2 0h1M1183 705.5h1m1 0h1m2 0h4m1 0h1m3 0h11m2 0h4M1186 706.5h5m3 0h3m3 0h2m1 0h5m4 0h1M1186 707.5h5m1 0h4m2 0h4m1 0h3m3 0h1m1 0h1m9 0h1M1185 708.5h4m2 0h1m4 0h4m2 0h1m2 0h2m3 0h1M1186 709.5h2m1 0h4m4 0h1m2 0h2m5 0h4m10 0h1M1187 710.5h4m2 0h1m7 0h1m5 0h3M1177 711.5h1m10 0h1m2 0h4m7 0h1m2 0h4M1189 712.5h7m7 0h4m6 0h1m4 0h1M1189 713.5h5m2 0h1m6 0h2m7 0h1m4 0h1M1185 714.5h8m2 0h1m1 0h1m4 0h4m5 0h1M1169 715.5h1m9 0h1m5 0h8m5 0h1m2 0h4m5 0h1m4 0h4M1165 716.5h1m14 0h1m3 0h10m2 0h10m3 0h1m4 0h6M1164 717.5h2m15 0h26m1 0h1m3 0h2m1 0h4M1164 718.5h3m5 0h1m9 0h15m2 0h6m2 0h1m4 0h10M1165 719.5h4m4 0h1m2 0h1m2 0h19m5 0h1m1 0h4m4 0h10M1167 720.5h2m5 0h25m1 0h10m4 0h8m5 0h1M1167 721.5h5m2 0h33m3 0h11M1161 722.5h1m6 0h3m3 0h6m1 0h27m2 0h11m2 0h1M1169 723.5h56M1163 724.5h1m5 0h53m4 0h1M1164 725.5h2m2 0h55m2 0h3M1165 726.5h60M1165 727.5h60M1161 728.5h1m3 0h60M1155 729.5h1m8 0h62m2 0h1M1156 730.5h1m6 0h64M1153 731.5h1m3 0h2m3 0h66m2 0h1M1145 732.5h1m6 0h7m2 0h70M1153 733.5h77m2 0h1M1147 734.5h1m4 0h78m3 0h1M1092 735.5h1m7 0h135M1085 736.5h1m1 0h1m3 0h3m3 0h137M1086 737.5h150M1081 738.5h3m3 0h148M1061 739.5h1m20 0h153M1083 740.5h151M1084 741.5h151M1083 742.5h151"/>
<path marker-start="url(#r)" marker-mid="url(#r)" marker-end="url(#r)" d="M1207.5 725.5 1180.5 724.5 1194.5 711.5 1198.5 704.5 1160.5 734.5 1216.5 722.5 1155.5 734.5 1188.5 722.5 1230.5 739.5 1210.5 708.5 1173.5 724.5 1179.5 727.5 1125.5 739.5 1227.5 720.5 1166.5 727.5 1185.5 725.5 1222.5 729.5 1188.5 716.5 1154.5 736.5 1218.5 704.5 1190.5 724.5 1164.5 736.5 1061.5 739.5 1164.5 731.5 1084.5 739.5 1159.5 704.5 1161.5 722.5 1093.5 739.5 1219.5 716.5 1231.5 741.5 1124.5 739.5 1177.5 727.5 1224.5 734.5 1100.5 739.5 1212.5 713.5 1090.5 739.5 1194.5 724.5 1171.5 725.5 1195.5 725.5 1213.5 727.5 1231.5 738.5 1177.5 711.5 1203.5 715.5 1227.5 738.5 1186.5 724.5 1204.5 706.5 1170.5 722.5 1220.5 727.5 1189.5 706.5 1207.5 702.5 1186.5 725.5 1226.5 731.5 1221.5 724.5 1198.5 724.5 1084.5 741.5 1145.5 732.5 1176.5 722.5 1199.5 718.5 1208.5 711.5 1107.5 739.5 1206.5 720.5 1207.5 706.5 1179.5 722.5 1208.5 690.5 1118.5 739.5 1186.5 708.5 1220.5 731.5 1189.5 722.5 1096.5 739.5 1164.5 718.5 1088.5 739.5 1201.5 704.5 1187.5 720.5 1190.5 722.5 1186.5 718.5 1208.5 729.5 1198.5 725.5 1188.5 708.5 1205.5 722.5 1102.5 739.5 1232.5 741.5 1204.5 713.5 1221.5 709.5 1155.5 738.5 1151.5 738.5 1221.5 704.5 1208.5 727.5 1216.5 725.5 1159.5 736.5 1174.5 729.5 1174.5 724.5 1187.5 716.5 1085.5 741.5 1215.5 724.5 1163.5 736.5 1196.5 713.5 1230.5 731.5 1220.5 725.5 1209.5 720.5 1165.5 716.5 1195.5 718.5 1197.5 702.5 1224.5 704.5 1186.5 720.5 1184.5 704.5 1183.5 718.5 1098.5 739.5 1186.5 699.5 1164.5 729.5 1215.5 729.5 1154.5 732.5 1213.5 694.5 1192.5 722.5 1182.5 718.5 1185.5 722.5 1223.5 727.5 1173.5 729.5 1175.5 720.5 1193.5 720.5 1168.5 729.5 1101.5 739.5 1229.5 736.5 1193.5 713.5 1154.5 738.5 1220.5 729.5 1192.5 704.5 1201.5 701.5 1167.5 731.5 1175.5 699.5 1217.5 722.5 1215.5 720.5 1199.5 708.5 1180.5 720.5 1106.5 739.5 1215.5 715.5 1103.5 739.5 1090.5 741.5 1210.5 725.5 1156.5 738.5 1220.5 720.5 1194.5 720.5 1210.5 683.5 1217.5 716.5 1201.5 690.5 1194.5 718.5 1188.5 711.5 1208.5 725.5 1167.5 720.5 1163.5 731.5 1202.5 725.5 1226.5 734.5 1190.5 713.5 1201.5 715.5 1207.5 718.5 1186.5 716.5 1154.5 734.5 1169.5 729.5 1218.5 720.5 1212.5 706.5 1209.5 725.5 1226.5 736.5 1117.5 739.5 1202.5 727.5 1227.5 725.5 1184.5 725.5 1200.5 722.5 1146.5 738.5 1231.5 736.5 1167.5 729.5 1214.5 718.5 1200.5 727.5 1094.5 739.5 1205.5 711.5 1219.5 722.5 1190.5 716.5 1168.5 731.5 1202.5 718.5 1194.5 706.5 1166.5 718.5 1155.5 729.5 1196.5 724.5 1210.5 702.5 1175.5 722.5 1172.5 718.5 1087.5 741.5 1189.5 704.5 1086.5 741.5 1232.5 739.5 1157.5 732.5 1167.5 727.5 1202.5 704.5 1187.5 489.5 1182.5 579.5 1184.5 605.5 1198.5 641.5 1198.5 646.5 1198.5 651.5 1191.5 660.5 1216.5 674.5 1206.5 681.5 1173.5 664.5 1176.5 664.5 1190.5 674.5 1192.5 679.5 1191.5 690.5"/>
</g>
<g clip-path="url(#c22)" fill="none" stroke="none">
<path stroke="#0000ff" stroke-width="1" d="M1198 982.5h1M1198 987.5h1M1198 988.5h1M1189 999.5h1M1173 1001.5h4m4 0h1M1171 1002.5h9m11 0h1M1179 1003.5h1m4 0h1M1179 1004.5h6M1184 1005.5h1M1141 1006.5h1m37 0h10M1184 1007.5h1M1161 1008.5h7m16 0h1M1138 1009.5h2m42 0h7M1162 1010.5h1M1140 1011.5h2m20 0h3m8 0h1M1162 1012.5h1m27 0h1M1138 1013.5h1m20 0h7m4 0h3m3 0h1M1162 1014.5h1m27 0h1M1150 1015.5h1m11 0h1m6 0h5m16 0h3M1153 1016.5h1m8 0h1m27 0h1M1162 1017.5h1M1117 1018.5h1m41 0h1m30 0h2M1191 1019.5h2M1120 1020.5h1m37 0h1m32 0h2M1191 1021.5h2M1139 1022.5h1m34 0h1m3 0h3m6 0h9M1139 1023.5h1m34 0h1m3 0h1m11 0h2M1136 1024.5h5m11 0h6m16 0h7m3 0h8M1136 1025.5h5m21 0h1m3 0h17m3 0h8M1139 1026.5h1m34 0h1m3 0h1m7 0h1m3 0h2M1139 1027.5h1m14 0h12m8 0h1m3 0h1m3 0h10M1174 1028.5h1m11 0h1m3 0h1M1129 1029.5h1m21 0h7m24 0h9m15 0h1M1185 1030.5h2M1155 1031.5h10m19 0h8m9 0h1m11 0h1m3 0h3M1118 1032.5h1m12 0h1m10 0h1m8 0h8m20 0h9m3 0h1m9 0h1m6 0h1m7 0h1M1158 1033.5h1m32 0h1M1117 1034.5h1m25 0h1m4 0h4m3 0h11m7 0h20M1177 1035.5h1m13 0h1M1118 1036.5h1m9 0h1m19 0h5m9 0h6m9 0h8m3 0h8m5 0h1m1 0h1M1118 1037.5h1m31 0h1m8 0h1m4 0h1m12 0h1m6 0h1m6 0h2m8 0h1m1 0h1M1126 1038.5h2m3 0h1m18 0h1m8 0h1m4 0h17m3 0h1m6 0h13m3 0h4M1128 1039.5h1m3 0h3m12 0h8m4 0h28m3 0h18m2 0h1M1150 1040.5h1m8 0h1m13 0h4m6 0h2m7 0h1m3 0h3m2 0h3m3 0h1m2 0h1M1128 1041.5h1m21 0h1m5 0h7m4 0h13m3 0h2m7 0h20M1150 1042.5h1m1 0h1m6 0h1m11 0h1m4 0h1m6 0h2m4 0h1m2 0h1m3 0h3m2 0h4m2 0h1m2 0h1M1146 1043.5h7m3 0h6m6 0h1m7 0h37m5 0h8M1159 1044.5h1m8 0h1m14 0h2m3 0h2m2 0h1m3 0h3m5 0h4m2 0h1M1081 1045.5h5m63 0h25m6 0h31m10 0h1M1081 1046.5h5m48 0h7m11 0h20m7 0h2m2 0h30m8 0h1M1081 1047.5h1m3 0h1m65 0h2m5 0h1m2 0h1m5 0h2m8 0h1m5 0h2m2 0h3m4 0h1m9 0h2m4 0h1M1081 1048.5h5m25 0h3m5 0h1m24 0h1m3 0h30m4 0h31M1081 1049.5h1m37 0h1m28 0h1m2 0h1m9 0h1m5 0h2m5 0h1m2 0h1m5 0h1m1 0h4m5 0h1m1 0h1m2 0h1m4 0h2m4 0h1M1081 1050.5h1m37 0h1m3 0h1m17 0h15m2 0h39m4 0h10M1081 1051.5h1m30 0h1m6 0h1m3 0h1m17 0h1m1 0h2m3 0h1m2 0h1m9 0h1m5 0h1m5 0h2m1 0h15m3 0h3m4 0h1m1 0h1M1078 1052.5h6m19 0h24m4 0h1m9 0h1m1 0h10m4 0h52m3 0h4M1103 1053.5h1m8 0h1m6 0h1m3 0h1m7 0h1m9 0h1m1 0h2m3 0h1m2 0h1m6 0h8m1 0h3m3 0h18m1 0h5m4 0h1m1 0h1m8 0h1M1089 1054.5h7m7 0h1m5 0h4m6 0h1m3 0h4m4 0h1m5 0h71m4 0h6M1090 1055.5h6m6 0h5m5 0h1m6 0h16m3 0h1m2 0h1m1 0h62m4 0h12M1093 1056.5h1m25 0h1m3 0h1m5 0h1m1 0h1m6 0h1m2 0h1m1 0h1m2 0h3m4 0h43m5 0h3m2 0h2m1 0h1m4 0h2m2 0h3M1079 1057.5h7m6 0h2m4 0h2m3 0h2m13 0h33m2 0h68M1093 1058.5h1m35 0h1m1 0h2m5 0h4m4 0h3m4 0h28m1 0h14m3 0h4m2 0h3m1 0h1m4 0h7M1076 1059.5h1m5 0h1m7 0h1m4 0h1m3 0h1m2 0h12m5 0h1m3 0h12m3 0h85M1099 1060.5h1m8 0h1m2 0h1m17 0h1m2 0h1m5 0h2m6 0h5m2 0h42m3 0h3m1 0h1m2 0h5m4 0h7M1072 1061.5h1m12 0h6m4 0h8m5 0h1m2 0h1m4 0h1m7 0h87m1 0h11m4 0h1M1072 1062.5h3m12 0h7m4 0h3m4 0h23m1 0h1m2 0h1m5 0h87m2 0h1M1072 1063.5h1m8 0h1m5 0h1m1 0h2m7 0h3m7 0h1m15 0h3m11 0h4m3 0h58m1 0h1m3 0h3m1 0h1m3 0h8M1069 1064.5h6m6 0h29m6 0h112M1069 1065.5h1m2 0h1m8 0h3m5 0h3m8 0h1m4 0h6m6 0h2m4 0h9m2 0h1m1 0h69m2 0h6m2 0h4m1 0h4M1057 1066.5h1m11 0h1m2 0h2m3 0h24m4 0h7m5 0h111M1057 1067.5h1m11 0h1m2 0h2m3 0h1m3 0h14m5 0h1m4 0h6m6 0h3m3 0h9m2 0h85m1 0h1m1 0h2M1057 1068.5h2m2 0h1m4 0h159M1054 1069.5h8m7 0h161M1057 1070.5h2m2 0h1m1 0h1m2 0h1m2 0h1m3 0h23m3 0h12m2 0h57m3 0h10m4 0h36m3 0h1M1057 1071.5h118m6 0h7m3 0h32m3 0h1M1050 1072.5h1m6 0h11m1 0h1m3 0h99m3 0h1m4 0h6m5 0h5m3 0h1m3 0h22m1 0h1M1050 1073.5h1m8 0h114m3 0h11m7 0h1m3 0h3m3 0h28M1050 1074.5h1m7 0h67m3 0h2m101 0h1M1046 1075.5h80m105 0h1M997 1076.5h123M956 1077.5h3m16 0h3m6 0h1m8 0h1m2 0h125M956 1078.5h3m16 0h3m6 0h1m8 0h1m2 0h125m113 0h1M956 1079.5h3m16 0h3m6 0h1m8 0h1m2 0h126M952 1080.5h170m111 0h3"/>
<path marker-start="url(#b)" marker-mid="url(#b)" marker-end="url(#b)" d="M958.5 1080.5 977.5 1080.5 988.5 1080.5 964.5 1080.5 982.5 1080.5 972.5 1080.5 991.5 1080.5 976.5 1080.5 996.5 1080.5 962.5 1080.5 956.5 1080.5 966.5 1080.5 986.5 1080.5 975.5 1080.5 993.5 1080.5 978.5 1080.5 984.5 1080.5 992.5 1080.5 957.5 1080.5 979.5 1080.5 953.5 1080.5 973.5 1080.5 1008.5 1080.5 1037.5 1080.5 1207.5 1064.5 1167.5 1045.5 1127.5 1064.5 1066.5 1073.5 1205.5 1024.5 1194.5 1050.5 1178.5 1024.5 1132.5 1059.5 1198.5 1043.5 1102.5 1071.5 1143.5 1032.5 1158.5 1034.5 1129.5 1059.5 1184.5 1027.5 1116.5 1071.5 1171.5 1039.5 1152.5 1050.5 1167.5 1054.5 1139.5 1024.5 1195.5 1055.5 1102.5 1057.5 1063.5 1073.5 1065.5 1076.5 1168.5 1055.5 1164.5 1039.5 1168.5 1032.5 1098.5 1064.5 1230.5 1078.5 1210.5 1046.5 1159.5 1057.5 1196.5 1020.5 1092.5 1071.5 1227.5 1059.5 1059.5 1076.5 1071.5 1076.5 1180.5 1041.5 1082.5 1069.5 1165.5 1045.5 1222.5 1068.5 1145.5 1048.5 1212.5 1064.5 1182.5 1022.5 1180.5 1054.5 1097.5 1071.5 1088.5 1071.5 1140.5 1050.5 1145.5 1062.5 1100.5 1068.5 1218.5 1043.5 1186.5 1027.5 1220.5 1057.5 1190.5 1027.5 1189.5 1002.5 1185.5 1032.5 1076.5 1068.5 1137.5 1046.5 1127.5 1036.5 1060.5 1075.5 1142.5 1061.5 1159.5 1043.5 1074.5 1032.5 1062.5 1075.5 1205.5 1069.5 1143.5 1054.5 1212.5 1002.5 1218.5 1059.5 1171.5 1001.5 1142.5 1069.5 1201.5 1064.5 1132.5 1069.5 1219.5 1055.5 1174.5 1025.5 1080.5 1071.5 1200.5 1062.5 1144.5 1066.5 1196.5 1043.5 1225.5 1039.5 1222.5 1064.5 1212.5 1062.5 1224.5 1073.5 1168.5 1046.5 1198.5 1059.5 1169.5 1025.5 1150.5 1039.5 1176.5 1039.5 1119.5 1064.5 1191.5 1046.5 1212.5 1052.5 1138.5 1011.5 1224.5 1064.5 1131.5 1039.5 1162.5 1016.5 1131.5 1029.5 1072.5 1064.5 1073.5 1069.5 1170.5 1015.5 1090.5 1054.5 1087.5 1061.5 1154.5 1061.5 1154.5 1029.5 1114.5 1048.5 1140.5 1013.5 1080.5 1052.5 1223.5 1075.5 1124.5 1062.5 1085.5 1069.5 1046.5 1078.5 1195.5 1064.5 1119.5 1057.5 1213.5 1066.5 1231.5 1076.5 1153.5 1015.5 1099.5 1071.5 1178.5 1025.5 1177.5 1050.5 1148.5 1061.5 1203.5 1054.5 1173.5 1031.5 1209.5 1071.5 1058.5 1071.5 1182.5 1055.5 1093.5 1055.5 1096.5 1071.5 1227.5 1076.5 1156.5 1046.5 1146.5 1069.5 1188.5 1027.5 1130.5 1064.5 1162.5 1055.5 1170.5 1050.5 1146.5 1062.5 1110.5 1068.5 1196.5 1038.5 1190.5 1025.5 1164.5 1055.5 1151.5 1036.5 1205.5 1059.5 1054.5 1078.5 1196.5 1004.5 1189.5 1045.5 1089.5 1061.5 1132.5 1071.5 1141.5 1064.5 1169.5 1045.5 1064.5 1078.5 1151.5 1066.5 1161.5 1031.5 1082.5 1045.5 1160.5 1027.5 1092.5 1054.5 1181.5 1004.5 1161.5 1050.5 1207.5 1041.5 1159.5 1020.5 1105.5 1043.5 1079.5 1059.5 1165.5 1052.5 1150.5 1016.5 1226.5 1069.5 1221.5 1062.5 1137.5 1020.5 1198.5 1062.5 1121.5 1059.5 1098.5 1061.5 1072.5 1062.5 1069.5 1039.5 1194.5 1048.5 1136.5 1025.5 1172.5 1015.5 1103.5 1068.5 1078.5 1069.5 1191.5 1034.5 1139.5 1062.5 1184.5 1018.5 1106.5 1069.5 1182.5 1050.5 1099.5 1062.5 1176.5 1041.5 1090.5 1064.5 1084.5 1069.5 1131.5 1057.5 1207.5 1059.5 1191.5 1036.5 1052.5 1078.5 1137.5 1066.5 1134.5 1057.5 1168.5 1050.5 1155.5 1048.5 1101.5 1071.5 1199.5 1057.5 1081.5 1066.5 1208.5 1050.5 1100.5 1064.5 1187.5 1024.5 1081.5 1052.5 1206.5 1071.5 1206.5 1059.5 1214.5 1057.5 1207.5 1045.5 1149.5 1034.5 1123.5 1054.5 1154.5 1054.5 1163.5 1062.5 1208.5 1029.5 1180.5 1048.5 1075.5 1050.5 1151.5 1054.5 1151.5 1029.5 1186.5 1046.5 1205.5 1046.5 1147.5 1064.5 1089.5 1064.5 1078.5 1071.5 1178.5 1052.5 1090.5 1062.5 1104.5 1071.5 1103.5 1052.5 1177.5 1018.5 1055.5 1078.5 1201.5 1043.5 1124.5 1064.5 1192.5 1022.5 1189.5 1050.5 1191.5 1057.5 1070.5 1071.5 1173.5 1038.5 1187.5 1045.5 1161.5 1046.5 1131.5 1052.5 1170.5 1059.5 1142.5 1034.5 1075.5 1068.5 1057.5 1069.5 1155.5 1032.5 1181.5 1054.5 1114.5 1069.5 1143.5 1066.5 1181.5 1064.5 1187.5 1048.5 1135.5 1039.5 1186.5 1029.5 1210.5 1062.5 1187.5 1009.5 1199.5 1052.5 1178.5 1039.5 1113.5 1061.5 1192.5 1036.5 1184.5 1006.5 1108.5 1059.5 1187.5 1031.5 1188.5 1046.5 1205.5 1061.5 1053.5 1075.5 1159.5 1052.5 1093.5 1059.5 1129.5 1068.5 1082.5 1057.5 1201.5 1048.5 1153.5 1048.5 1147.5 1057.5 1146.5 1055.5 1204.5 1052.5 1179.5 1006.5 1185.5 1029.5 1221.5 1048.5 1120.5 1066.5 1082.5 1066.5 1126.5 1054.5 1214.5 1069.5 1206.5 1045.5 1203.5 1069.5 1221.5 1043.5 1123.5 1052.5 1076.5 1075.5 1070.5 1076.5 1130.5 1069.5 1131.5 1066.5 1181.5 1052.5 1169.5 1061.5 1162.5 1013.5 1069.5 1057.5 1215.5 1062.5 1049.5 1078.5 1095.5 1057.5 1106.5 1064.5 1081.5 1064.5 1162.5 1048.5 1196.5 1052.5 1230.5 1069.5 1165.5 1025.5 1086.5 1069.5 1203.5 1038.5 1190.5 1036.5 1121.5 1071.5 1177.5 1046.5 1165.5 1055.5 1048.5 1078.5 1180.5 1036.5 1120.5 1071.5 1195.5 1057.5 1197.5 1041.5 1193.5 1062.5 1127.5 1071.5 1224.5 1043.5 1176.5 1011.5 1152.5 1045.5 1128.5 1038.5 1098.5 1071.5 1072.5 1075.5 1213.5 1071.5 1150.5 1059.5 1077.5 1069.5 1080.5 1018.5 1111.5 1059.5 1076.5 1057.5 1169.5 1064.5 1186.5 1038.5 1171.5 1045.5 1179.5 1034.5 1160.5 1055.5 1068.5 1078.5 1192.5 1046.5 1213.5 1032.5 1140.5 1064.5 1192.5 1061.5 1061.5 1071.5 1167.5 1038.5 1163.5 1064.5 1210.5 1048.5 1141.5 1061.5 1105.5 1064.5 1062.5 1064.5 1223.5 1066.5 1151.5 1048.5 1113.5 1068.5 1085.5 1045.5 1193.5 1059.5 1119.5 1069.5 1192.5 1039.5 1085.5 1048.5 1164.5 1034.5 1209.5 1016.5 1178.5 1064.5 1229.5 1075.5 1193.5 1052.5 1155.5 1024.5 1208.5 1064.5 1135.5 1071.5 1064.5 1075.5 1192.5 1043.5 1201.5 1039.5 1196.5 1011.5 1193.5 1043.5 1174.5 1054.5 1175.5 1038.5 1201.5 1034.5 1125.5 1055.5 1117.5 1020.5 1115.5 1025.5 1179.5 1001.5 1138.5 1054.5 1178.5 1061.5 1201.5 1055.5 1156.5 1066.5 1210.5 1038.5 1217.5 1061.5 1215.5 1059.5 1158.5 1031.5 1157.5 1027.5 1054.5 1061.5 1158.5 1018.5 1158.5 1055.5 1199.5 1046.5 1109.5 1055.5 1162.5 1027.5 1215.5 1054.5 1158.5 1048.5 1126.5 1041.5 1188.5 1006.5 1165.5 1036.5 1164.5 1008.5 1138.5 1057.5 1162.5 1034.5 1118.5 1055.5 1210.5 1064.5 1118.5 1039.5 1226.5 1052.5 1175.5 1041.5 1186.5 1055.5 1220.5 1059.5 1195.5 1038.5 1210.5 1022.5 1217.5 1055.5 1094.5 1069.5 1093.5 1069.5 1204.5 1064.5 1175.5 1027.5 1182.5 1006.5 1201.5 1029.5 1206.5 1057.5 1173.5 1013.5 1116.5 1062.5 1050.5 1075.5 1157.5 1064.5 1102.5 1069.5 1168.5 1041.5 1156.5 1059.5 1139.5 1061.5 1226.5 1073.5 1072.5 1068.5 1126.5 1061.5 1181.5 1034.5 1108.5 1066.5 1147.5 1059.5 1056.5 1078.5 1190.5 1052.5 1058.5 1069.5 1174.5 1039.5 1179.5 1043.5 1094.5 1066.5 1201.5 1054.5 1161.5 1048.5 1176.5 1052.5 1075.5 1038.5 1207.5 1057.5 1131.5 1055.5 1069.5 1068.5 1129.5 1048.5 1110.5 1048.5 1112.5 1052.5 1144.5 1050.5 1149.5 1043.5 1139.5 1025.5 1163.5 1055.5 1161.5 1011.5 1184.5 1039.5 1101.5 1068.5 1182.5 1032.5 1186.5 1031.5 1212.5 1045.5 1132.5 1061.5 1140.5 1027.5 1209.5 1064.5 1074.5 1061.5 1051.5 1078.5 1182.5 1066.5 1081.5 1046.5 1146.5 1043.5 1129.5 1032.5 1153.5 1024.5 1136.5 1046.5 1118.5 1034.5 1192.5 1055.5 1200.5 1043.5 1106.5 1052.5 1123.5 1057.5 1227.5 1064.5 1091.5 1068.5 1159.5 1041.5 1200.5 1061.5 1231.5 1075.5 1099.5 1061.5 1144.5 1054.5 1169.5 1052.5 1203.5 1068.5 1103.5 1055.5 1149.5 1061.5 1166.5 1048.5 1104.5 1059.5 1076.5 1076.5 1154.5 1004.5 1129.5 1071.5 1081.5 1071.5 1205.5 1050.5 1149.5 1054.5 1219.5 1061.5 1079.5 1068.5 1083.5 1057.5 1140.5 1061.5 1151.5 1050.5 1203.5 1048.5 1197.5 1062.5 1148.5 1059.5 1087.5 1064.5 1113.5 1071.5 1122.5 1069.5 1153.5 1055.5 1190.5 1015.5 1202.5 1057.5 1194.5 1045.5 1169.5 1055.5 1166.5 1057.5 1109.5 1066.5 1133.5 1073.5 1115.5 1068.5 1195.5 1054.5 1111.5 1069.5 1210.5 1043.5 1203.5 1039.5 1196.5 1062.5 1157.5 1062.5 1157.5 1055.5 1184.5 1045.5 1095.5 1066.5 1210.5 1041.5 1117.5 1062.5 1081.5 1048.5 1085.5 1064.5 1108.5 1062.5 1220.5 1031.5 1087.5 1071.5 1117.5 1032.5 1153.5 1032.5 1177.5 1038.5 1159.5 1039.5 1206.5 1032.5 1100.5 1032.5 1060.5 1076.5 1173.5 1041.5 1172.5 1057.5 1212.5 1055.5 1110.5 1039.5 1183.5 1009.5 1175.5 1055.5 1155.5 1062.5 1125.5 1064.5 1217.5 1064.5 1164.5 1050.5 1111.5 1062.5 1158.5 1045.5 1216.5 1031.5 1184.5 1034.5 1189.5 1043.5 1166.5 1008.5 1232.5 1078.5 1196.5 1045.5 1173.5 1048.5 1180.5 1025.5 1148.5 1036.5 1177.5 1034.5 1152.5 1039.5 1067.5 1052.5 1086.5 1066.5 1202.5 1043.5 1163.5 1048.5 1119.5 1050.5 1112.5 1054.5 1134.5 1064.5 1187.5 828.5 1146.5 877.5 1141.5 884.5 1119.5 914.5 1182.5 918.5 1184.5 944.5 1161.5 953.5 1181.5 979.5 1198.5 979.5 1198.5 985.5 1198.5 990.5 1167.5 986.5 1155.5 992.5 1191.5 999.5 1216.5 1013.5 1206.5 1020.5 1120.5 1018.5 1121.5 992.5 1071.5 1001.5 1082.5 1009.5 1090.5 1013.5 1056.5 1020.5 1075.5 1020.5 1139.5 1006.5 1141.5 1009.5 1173.5 1002.5 1176.5 1002.5 1190.5 1013.5 1192.5 1018.5 1191.5 1029.5"/>
<path stroke="#ff0000" stroke-width="1" d="M1190 1013.5h1M1192 1018.5h1M1191 1029.5h1M1175 1038.5h1M1159 1043.5h1m41 0h1M1166 1057.5h1m32 0h1M1197 1059.5h1M1196 1060.5h1M1187 1062.5h1m6 0h1M1208 1064.5h1M1190 1065.5h1M1166 1066.5h1m23 0h2m28 0h1M1166 1067.5h2m13 0h1m10 0h1M1168 1068.5h1m11 0h1m1 0h1m2 0h1m2 0h1m3 0h2M1164 1069.5h1m3 0h2m2 0h2m5 0h6m2 0h1m4 0h1m8 0h1M1165 1070.5h1m4 0h3m5 0h1m2 0h6m4 0h1m10 0h1M1154 1071.5h1m11 0h1m3 0h4m1 0h16m4 0h5m3 0h1M1167 1072.5h38M1158 1073.5h1m9 0h2m3 0h8m2 0h2m2 0h22M1125 1074.5h105m3 0h1M1124 1075.5h110M1120 1076.5h116M1121 1077.5h114M1113 1078.5h1m7 0h113M1122 1079.5h112M1122 1080.5h111"/>
<path marker-start="url(#r)" marker-mid="url(#r)" marker-end="url(#r)" d="M1196.5 1076.5 1177.5 1073.5 1230.5 1078.5 1166.5 1066.5 1194.5 1076.5 1164.5 1069.5 1159.5 1043.5 1204.5 1076.5 1231.5 1080.5 1192.5 1068.5 1185.5 1071.5 1175.5 1075.5 1205.5 1076.5 1129.5 1078.5 1188.5 1073.5 1175.5 1073.5 1199.5 1071.5 1124.5 1080.5 1171.5 1076.5 1191.5 1075.5 1220.5 1066.5 1160.5 1075.5 1194.5 1062.5 1229.5 1078.5 1163.5 1076.5 1170.5 1071.5 1203.5 1071.5 1180.5 1073.5 1168.5 1073.5 1199.5 1057.5 1121.5 1078.5 1201.5 1043.5 1178.5 1073.5 1205.5 1073.5 1198.5 1076.5 1188.5 1071.5 1201.5 1075.5 1215.5 1075.5 1161.5 1076.5 1181.5 1076.5 1131.5 1078.5 1232.5 1080.5 1230.5 1080.5 1189.5 1075.5 1151.5 1076.5 1191.5 1076.5 1193.5 1068.5 1194.5 1075.5 1172.5 1076.5 1154.5 1071.5 1193.5 1075.5 1123.5 1078.5 1227.5 1078.5 1179.5 1075.5 1175.5 1038.5 1126.5 1078.5 1226.5 1078.5 1127.5 1078.5 1113.5 1078.5 1133.5 1078.5 1122.5 1080.5 1208.5 1064.5 1229.5 1080.5 1190.5 1075.5 1171.5 1071.5 1199.5 1073.5 1132.5 1078.5 1176.5 1075.5 1146.5 1076.5 1208.5 1076.5 1187.5 1062.5 1182.5 1071.5 1180.5 1068.5 1166.5 1057.5 1199.5 1076.5 1169.5 1069.5 1232.5 1078.5 1190.5 1013.5 1192.5 1018.5 1191.5 1029.5"/>
</g>
<g clip-path="url(#c03)" fill="none" stroke="none">
<path stroke="#0000ff" stroke-width="1" d="M1427 333.5h1M1380 334.5h1m46 0h1M1377 337.5h1M1340 339.5h1M1340 340.5h1M1337 341.5h6M1339 342.5h5M1340 343.5h1M1340 344.5h1M1341 348.5h4M1354 350.5h1M1354 351.5h1M1354 352.5h1m20 0h1M1347 353.5h11m10 0h3m4 0h1m4 0h1M1349 354.5h1m4 0h1m20 0h1M1349 355.5h1m4 0h1m5 0h2m12 0h6m3 0h2m41 0h1M1344 356.5h7m3 0h1m31 0h1M1404 357.5h1M1404 359.5h1M1356 360.5h3m9 0h1m3 0h2M1356 361.5h1m47 0h1M1343 362.5h3m9 0h5m6 0h5m4 0h2M1356 363.5h1m34 0h1M1342 364.5h7m5 0h5m9 0h2m4 0h2m15 0h1m16 0h1M1342 365.5h5m9 0h1m1 0h1m9 0h6m16 0h4m12 0h5m36 0h7M1390 366.5h1m5 0h1M1321 367.5h3m3 0h1m5 0h1m10 0h14m3 0h7m3 0h2m11 0h3m3 0h1m5 0h1m53 0h1M1333 368.5h1m10 0h1m4 0h1m1 0h1m38 0h1m5 0h1m6 0h1m31 0h1M1319 369.5h6m5 0h11m8 0h1m1 0h1m12 0h6m17 0h15m30 0h2m4 0h1M1323 370.5h1m9 0h1m4 0h1m10 0h1m1 0h1m44 0h1m6 0h1M1323 371.5h1m6 0h25m3 0h1m11 0h1m10 0h1m8 0h1m41 0h1m3 0h2M1321 372.5h3m8 0h13m15 0h4m25 0h2m3 0h1m3 0h2m3 0h1m26 0h2m3 0h1m2 0h1M1323 373.5h1m8 0h1m3 0h9m5 0h1m25 0h1m4 0h1m7 0h1m17 0h1m13 0h1m16 0h1M1323 374.5h1m8 0h20m5 0h1m3 0h2m10 0h13m3 0h4m3 0h1m10 0h13m13 0h4M1323 375.5h1m2 0h1m5 0h1m3 0h9m3 0h3m6 0h1m3 0h1m24 0h1m7 0h1m12 0h1m13 0h1m10 0h1M1320 376.5h8m6 0h20m4 0h1m4 0h1m16 0h2m4 0h2m5 0h2m4 0h1m8 0h1m7 0h1m3 0h1m3 0h3m5 0h1m5 0h1M1323 377.5h1m2 0h1m11 0h2m2 0h3m9 0h1m2 0h1m6 0h1m29 0h1m4 0h1m16 0h1m4 0h1m3 0h1M1322 378.5h9m3 0h13m14 0h1m37 0h1m3 0h1m38 0h1M1322 379.5h5m9 0h9m4 0h1m5 0h1m28 0h1m12 0h5m3 0h13m5 0h1m32 0h1M1326 380.5h1m7 0h1m1 0h13m27 0h1m65 0h1M1326 381.5h5m3 0h12m22 0h1m26 0h1m3 0h1m8 0h1m3 0h5m3 0h1m3 0h4m3 0h2m21 0h1m11 0h1M1323 382.5h1m6 0h1m3 0h11m65 0h1m3 0h1m27 0h1M1318 383.5h1m1 0h1m6 0h18m21 0h1m30 0h1m7 0h1m3 0h1m4 0h1m8 0h1m4 0h1m5 0h12m3 0h1m7 0h1m5 0h1M1318 384.5h1m1 0h1m6 0h8m3 0h2m3 0h1m80 0h1m17 0h1m14 0h1M1318 385.5h19m7 0h2m70 0h3m5 0h1m10 0h2m4 0h1m31 0h1M1316 386.5h26m80 0h5m10 0h10m12 0h6M1318 387.5h22m93 0h1m7 0h1m4 0h1m17 0h1M1316 388.5h18m4 0h2m80 0h1m20 0h1m4 0h1m4 0h2m5 0h1m4 0h1m12 0h1M1318 389.5h18M1316 390.5h20m86 0h1m20 0h1m4 0h3m6 0h5M1319 391.5h12m138 0h1M1316 392.5h14m125 0h1m8 0h1m7 0h3m17 0h2m17 0h5M1317 393.5h1m1 0h12m132 0h1M1317 394.5h12m137 0h1m3 0h1m15 0h1m7 0h1m9 0h1M1315 395.5h11m159 0h1m3 0h2m4 0h1m6 0h1m7 0h3m3 0h3M1317 396.5h10m177 0h1m13 0h1M1315 397.5h12m177 0h1m13 0h1M1317 398.5h5m228 0h1m5 0h1m4 0h1M1315 399.5h4m237 0h1m5 0h1m29 0h1M1317 400.5h3m263 0h1m8 0h1M1315 401.5h6m262 0h1m8 0h1M1315 402.5h7m232 0h1m4 0h1m19 0h7m4 0h8M1317 403.5h4m262 0h1m8 0h1"/>
<path marker-start="url(#b)" marker-mid="url(#b)" marker-end="url(#b)" d="M1562.5 401.5 1573.5 401.5 1569.5 402.5 1575.5 402.5 1535.5 402.5 1550.5 401.5 1529.5 401.5 1531.5 402.5 1549.5 402.5 1568.5 402.5 1567.5 401.5 1534.5 402.5 1545.5 401.5 1556.5 401.5 1539.5 401.5 1517.5 401.5 1507.5 401.5 1557.5 402.5 1524.5 401.5 1540.5 401.5 1592.5 402.5 1578.5 402.5 1583.5 402.5 1580.5 402.5 1596.5 402.5 1577.5 402.5 1594.5 402.5 1586.5 402.5 1587.5 402.5 1589.5 402.5 1588.5 402.5 1349.5 371.5 1341.5 381.5 1362.5 369.5 1326.5 378.5 1438.5 374.5 1335.5 385.5 1345.5 364.5 1344.5 365.5 1431.5 360.5 1350.5 374.5 1342.5 374.5 1321.5 390.5 1438.5 371.5 1339.5 374.5 1345.5 381.5 1396.5 355.5 1485.5 397.5 1399.5 374.5 1321.5 395.5 1396.5 365.5 1340.5 372.5 1357.5 371.5 1460.5 388.5 1469.5 392.5 1320.5 394.5 1462.5 386.5 1336.5 341.5 1356.5 362.5 1443.5 388.5 1322.5 388.5 1318.5 388.5 1371.5 365.5 1381.5 374.5 1319.5 388.5 1323.5 372.5 1432.5 372.5 1453.5 367.5 1372.5 362.5 1404.5 358.5 1401.5 378.5 1333.5 371.5 1317.5 376.5 1352.5 376.5 1466.5 392.5 1452.5 383.5 1418.5 388.5 1328.5 390.5 1416.5 374.5 1364.5 374.5 1403.5 369.5 1416.5 379.5 1323.5 388.5 1337.5 360.5 1367.5 376.5 1330.5 383.5 1329.5 386.5 1398.5 369.5 1451.5 390.5 1359.5 374.5 1320.5 386.5 1361.5 369.5 1398.5 381.5 1332.5 386.5 1417.5 381.5 1317.5 392.5 1432.5 374.5 1404.5 383.5 1354.5 367.5 1354.5 353.5 1515.5 395.5 1332.5 372.5 1429.5 355.5 1347.5 356.5 1422.5 367.5 1467.5 392.5 1318.5 397.5 1404.5 360.5 1380.5 355.5 1456.5 381.5 1349.5 356.5 1404.5 386.5 1425.5 379.5 1425.5 376.5 1326.5 386.5 1407.5 383.5 1472.5 381.5 1476.5 385.5 1335.5 388.5 1514.5 401.5 1403.5 371.5 1337.5 383.5 1413.5 374.5 1340.5 341.5 1369.5 367.5 1325.5 397.5 1341.5 356.5 1469.5 394.5 1351.5 371.5 1435.5 371.5 1499.5 399.5 1431.5 383.5 1331.5 388.5 1322.5 386.5 1332.5 374.5 1492.5 395.5 1340.5 342.5 1373.5 364.5 1451.5 372.5 1421.5 376.5 1421.5 374.5 1334.5 383.5 1408.5 379.5 1473.5 388.5 1463.5 381.5 1473.5 358.5 1345.5 378.5 1471.5 397.5 1335.5 372.5 1452.5 390.5 1336.5 372.5 1446.5 383.5 1391.5 381.5 1442.5 381.5 1392.5 372.5 1343.5 376.5 1358.5 367.5 1323.5 385.5 1349.5 353.5 1368.5 362.5 1384.5 356.5 1464.5 390.5 1333.5 369.5 1322.5 378.5 1367.5 353.5 1346.5 362.5 1442.5 379.5 1388.5 374.5 1319.5 367.5 1359.5 355.5 1370.5 374.5 1427.5 385.5 1411.5 386.5 1369.5 376.5 1478.5 395.5 1329.5 335.5 1397.5 360.5 1323.5 379.5 1358.5 362.5 1377.5 355.5 1379.5 353.5 1396.5 369.5 1429.5 365.5 1394.5 378.5 1423.5 355.5 1333.5 325.5 1482.5 395.5 1321.5 369.5 1349.5 367.5 1374.5 376.5 1464.5 388.5 1411.5 374.5 1514.5 392.5 1457.5 386.5 1364.5 379.5 1342.5 342.5 1368.5 376.5 1407.5 372.5 1333.5 383.5 1437.5 385.5 1486.5 397.5 1416.5 388.5 1494.5 392.5 1448.5 365.5 1378.5 369.5 1454.5 379.5 1324.5 367.5 1365.5 362.5 1436.5 383.5 1466.5 383.5 1420.5 386.5 1456.5 388.5 1366.5 339.5 1492.5 379.5 1367.5 369.5 1332.5 385.5 1334.5 379.5 1414.5 381.5 1339.5 381.5 1358.5 379.5 1339.5 371.5 1338.5 369.5 1435.5 369.5 1327.5 386.5 1386.5 378.5 1432.5 383.5 1502.5 397.5 1344.5 348.5 1461.5 392.5 1450.5 365.5 1493.5 395.5 1354.5 376.5 1386.5 355.5 1369.5 360.5 1504.5 395.5 1391.5 362.5 1437.5 356.5 1317.5 395.5 1417.5 360.5 1342.5 362.5 1403.5 379.5 1324.5 376.5 1422.5 388.5 1371.5 353.5 1348.5 367.5 1386.5 374.5 1477.5 394.5 1351.5 342.5 1348.5 376.5 1357.5 360.5 1406.5 364.5 1387.5 367.5 1408.5 365.5 1396.5 372.5 1409.5 349.5 1406.5 353.5 1373.5 362.5 1489.5 397.5 1318.5 348.5 1338.5 372.5 1383.5 374.5 1352.5 348.5 1341.5 376.5 1330.5 367.5 1423.5 381.5 1350.5 376.5 1339.5 376.5 1376.5 374.5 1323.5 344.5 1336.5 374.5 1317.5 356.5 1411.5 365.5 1433.5 372.5 1493.5 394.5 1328.5 381.5 1486.5 388.5 1454.5 388.5 1513.5 395.5 1382.5 376.5 1502.5 394.5 1326.5 356.5 1356.5 364.5 1360.5 367.5 1368.5 367.5 1325.5 386.5 1474.5 395.5 1412.5 379.5 1393.5 374.5 1365.5 367.5 1340.5 383.5 1376.5 364.5 1337.5 376.5 1372.5 371.5 1385.5 367.5 1375.5 351.5 1333.5 362.5 1479.5 395.5 1327.5 378.5 1436.5 376.5 1391.5 365.5 1390.5 369.5 1344.5 374.5 1325.5 394.5 1344.5 371.5 1423.5 376.5 1323.5 376.5 1327.5 371.5 1402.5 383.5 1407.5 376.5 1449.5 378.5 1349.5 334.5 1424.5 383.5 1351.5 379.5 1474.5 394.5 1318.5 385.5 1429.5 381.5 1323.5 369.5 1318.5 386.5 1468.5 394.5 1376.5 376.5 1362.5 355.5 1351.5 367.5 1341.5 348.5 1370.5 150.5 1401.5 199.5 1416.5 206.5 1379.5 240.5 1412.5 236.5 1383.5 266.5 1335.5 275.5 1375.5 302.5 1354.5 302.5 1331.5 314.5 1418.5 314.5 1383.5 311.5 1390.5 309.5 1329.5 328.5 1351.5 326.5 1432.5 325.5 1416.5 334.5 1427.5 332.5 1427.5 335.5 1487.5 353.5 1464.5 353.5 1510.5 392.5 1377.5 334.5 1380.5 337.5 1386.5 341.5 1393.5 342.5 1375.5 355.5"/>
<path stroke="#ff0000" stroke-width="1" d="M1370 150.5h1M1401 199.5h1M1416 206.5h1M1412 236.5h1M1379 240.5h1M1383 266.5h1M1375 302.5h1M1390 309.5h1M1383 311.5h1M1418 314.5h1M1432 325.5h1M1427 332.5h1M1377 334.5h1m38 0h1M1378 335.5h1m48 0h1M1379 336.5h1M1380 337.5h1M1366 339.5h1M1386 341.5h1M1351 342.5h1m41 0h1M1409 349.5h1M1376 350.5h1M1375 351.5h1M1374 352.5h1m3 0h1m1 0h1m2 0h1m42 0h1M1349 353.5h1m17 0h1m5 0h1m3 0h3m26 0h1m57 0h1m22 0h1M1376 354.5h3M1359 355.5h1m2 0h1m12 0h3m2 0h1m5 0h1m9 0h1m26 0h1m5 0h1M1361 356.5h1m14 0h1m7 0h1m52 0h1M1360 357.5h1m22 0h1m10 0h1M1359 358.5h1m12 0h1m4 0h1m5 0h1m15 0h1m4 0h1m21 0h1m46 0h1M1355 359.5h1m12 0h4m31 0h3M1357 360.5h1m11 0h2m26 0h1m6 0h1m12 0h1m13 0h1M1367 361.5h7m29 0h1M1358 362.5h1m6 0h1m2 0h1m2 0h4m16 0h1m7 0h1m8 0h1M1364 363.5h3m2 0h1m2 0h3m14 0h1m4 0h1m12 0h1M1361 364.5h3m1 0h2m3 0h7m13 0h1m2 0h1m12 0h1m42 0h1M1362 365.5h2m1 0h7m2 0h2m15 0h1m2 0h1m1 0h1m10 0h2m2 0h1m17 0h1m18 0h3M1359 366.5h1m4 0h9m2 0h1m10 0h2m5 0h3m53 0h1M1358 367.5h3m3 0h2m2 0h3m2 0h1m2 0h1m8 0h4m3 0h3m3 0h1m10 0h1m12 0h1m30 0h1M1354 368.5h1m2 0h13m16 0h1m1 0h4m5 0h4m31 0h1m3 0h1M1358 369.5h10m2 0h1m7 0h1m10 0h2m4 0h4m4 0h2m30 0h2m17 0h1M1355 370.5h1m3 0h10m2 0h2m4 0h1m6 0h1m4 0h3m2 0h4m4 0h3m29 0h3M1351 371.5h1m4 0h2m1 0h9m4 0h2m4 0h3m2 0h2m3 0h5m3 0h1m6 0h1m4 0h1m9 0h1m14 0h6M1357 372.5h10m3 0h6m2 0h4m1 0h5m4 0h2m1 0h2m4 0h1m5 0h1m11 0h1m12 0h5m3 0h1m10 0h1M1353 373.5h1m3 0h18m2 0h1m1 0h9m4 0h3m5 0h1m9 0h1m1 0h1m7 0h1m1 0h1m8 0h4m2 0h3M1348 374.5h1m3 0h3m4 0h18m3 0h4m2 0h3m1 0h5m3 0h2m5 0h1m3 0h5m2 0h1m4 0h3m8 0h4m2 0h1M1349 375.5h1m3 0h33m1 0h9m2 0h2m4 0h1m5 0h3m7 0h5m6 0h1m3 0h3M1350 376.5h2m2 0h4m1 0h21m2 0h11m3 0h2m2 0h4m3 0h1m1 0h3m1 0h3m3 0h1m1 0h5m10 0h1m14 0h1M1348 377.5h50m3 0h2m3 0h1m1 0h3m2 0h2m3 0h10m7 0h1M1345 378.5h1m1 0h55m7 0h3m3 0h1m1 0h1m2 0h1m2 0h4m22 0h1m3 0h1M1345 379.5h52m2 0h6m3 0h1m3 0h1m3 0h1m3 0h1m4 0h4m13 0h1m11 0h1m37 0h1M1346 380.5h59m2 0h1m5 0h5m3 0h1m2 0h6m9 0h7m3 0h1m5 0h1M1343 381.5h2m1 0h61m3 0h1m3 0h1m2 0h2m4 0h1m5 0h1m3 0h2m5 0h5m7 0h1m3 0h1m6 0h1m8 0h1M1340 382.5h79m3 0h14m1 0h1m2 0h6m5 0h1m1 0h1m3 0h1m15 0h1M1336 383.5h1m4 0h2m2 0h73m3 0h1m2 0h13m1 0h1m3 0h5m5 0h3m5 0h1m4 0h2m7 0h1M1336 384.5h7m1 0h72m4 0h3m2 0h21m7 0h3m3 0h2m3 0h1m10 0h1M1337 385.5h7m2 0h70m3 0h4m2 0h20m11 0h8m3 0h1m8 0h1M1334 386.5h1m3 0h84m2 0h22m3 0h1m4 0h5m3 0h2m11 0h1M1333 387.5h4m3 0h104m4 0h2m3 0h11m10 0h1M1331 388.5h1m2 0h111m3 0h1m4 0h13m7 0h1m12 0h1M1331 389.5h2m3 0h112m5 0h13m6 0h1M1332 390.5h116m3 0h9m2 0h6m3 0h1m40 0h1M1329 391.5h144m3 0h1m3 0h1m8 0h1m6 0h1M1327 392.5h1m2 0h150m10 0h1m3 0h2m14 0h1m3 0h1M1328 393.5h155m7 0h6m15 0h5M1329 394.5h157m2 0h2m2 0h2m8 0h1m2 0h1m6 0h5M1326 395.5h163m2 0h4m5 0h1m2 0h2m8 0h3M1327 396.5h169m4 0h7m7 0h2m5 0h1M1323 397.5h1m3 0h177m1 0h2m4 0h3m2 0h1m3 0h1M1319 398.5h261M1319 399.5h263m1 0h4m2 0h3m3 0h1M1320 400.5h262m3 0h10M1321 401.5h275M1322 402.5h237m1 0h21m2 0h1m2 0h4m2 0h5M1321 403.5h275"/>
<path marker-start="url(#r)" marker-mid="url(#r)" marker-end="url(#r)" d="M1562.5 401.5 1546.5 402.5 1573.5 401.5 1505.5 401.5 1561.5 402.5 1537.5 402.5 1538.5 402.5 1575.5 402.5 1574.5 402.5 1535.5 402.5 1576.5 402.5 1527.5 402.5 1552.5 402.5 1550.5 401.5 1566.5 402.5 1529.5 401.5 1555.5 402.5 1531.5 402.5 1564.5 402.5 1528.5 402.5 1516.5 401.5 1532.5 402.5 1547.5 402.5 1545.5 402.5 1567.5 401.5 1572.5 402.5 1534.5 402.5 1545.5 401.5 1556.5 401.5 1539.5 401.5 1517.5 401.5 1558.5 402.5 1507.5 401.5 1571.5 402.5 1553.5 402.5 1539.5 402.5 1557.5 402.5 1524.5 401.5 1540.5 401.5 1565.5 402.5 1501.5 401.5 1530.5 402.5 1573.5 402.5 1592.5 402.5 1578.5 402.5 1583.5 402.5 1580.5 402.5 1596.5 402.5 1577.5 402.5 1594.5 402.5 1586.5 402.5 1587.5 402.5 1589.5 402.5 1588.5 402.5 1362.5 369.5 1438.5 374.5 1431.5 360.5 1334.5 397.5 1376.5 381.5 1389.5 376.5 1354.5 381.5 1430.5 386.5 1416.5 390.5 1442.5 392.5 1438.5 371.5 1396.5 355.5 1392.5 383.5 1325.5 401.5 1348.5 385.5 1485.5 397.5 1433.5 388.5 1399.5 374.5 1396.5 365.5 1357.5 371.5 1460.5 388.5 1364.5 386.5 1469.5 392.5 1462.5 386.5 1408.5 385.5 1344.5 390.5 1402.5 385.5 1443.5 388.5 1441.5 386.5 1446.5 390.5 1378.5 383.5 1371.5 365.5 1357.5 378.5 1381.5 374.5 1353.5 379.5 1325.5 402.5 1425.5 388.5 1432.5 372.5 1497.5 401.5 1455.5 390.5 1492.5 399.5 1453.5 367.5 1363.5 371.5 1372.5 362.5 1400.5 383.5 1376.5 379.5 1350.5 381.5 1409.5 386.5 1404.5 358.5 1425.5 392.5 1337.5 394.5 1413.5 386.5 1362.5 378.5 1401.5 378.5 1329.5 401.5 1466.5 392.5 1452.5 383.5 1476.5 395.5 1418.5 388.5 1416.5 374.5 1399.5 379.5 1329.5 397.5 1364.5 374.5 1403.5 369.5 1416.5 379.5 1370.5 376.5 1458.5 394.5 1367.5 376.5 1444.5 392.5 1472.5 397.5 1347.5 385.5 1343.5 385.5 1460.5 395.5 1398.5 369.5 1451.5 390.5 1359.5 374.5 1482.5 397.5 1334.5 388.5 1361.5 369.5 1464.5 397.5 1381.5 379.5 1405.5 386.5 1348.5 381.5 1330.5 399.5 1410.5 385.5 1398.5 381.5 1417.5 381.5 1431.5 388.5 1424.5 386.5 1432.5 374.5 1343.5 392.5 1375.5 378.5 1404.5 383.5 1485.5 399.5 1515.5 395.5 1344.5 388.5 1442.5 383.5 1429.5 355.5 1324.5 402.5 1422.5 367.5 1467.5 392.5 1404.5 360.5 1380.5 355.5 1352.5 381.5 1456.5 381.5 1437.5 392.5 1326.5 401.5 1338.5 385.5 1361.5 376.5 1333.5 395.5 1425.5 379.5 1428.5 390.5 1425.5 376.5 1407.5 383.5 1423.5 392.5 1350.5 383.5 1472.5 381.5 1476.5 385.5 1322.5 402.5 1433.5 390.5 1388.5 379.5 1335.5 394.5 1358.5 383.5 1334.5 386.5 1482.5 399.5 1514.5 401.5 1472.5 395.5 1376.5 378.5 1403.5 371.5 1394.5 379.5 1333.5 394.5 1362.5 386.5 1413.5 374.5 1369.5 367.5 1420.5 390.5 1432.5 385.5 1469.5 394.5 1365.5 376.5 1351.5 371.5 1435.5 371.5 1339.5 392.5 1323.5 402.5 1499.5 399.5 1431.5 383.5 1460.5 397.5 1331.5 388.5 1365.5 385.5 1430.5 388.5 1492.5 395.5 1356.5 381.5 1344.5 381.5 1373.5 364.5 1451.5 372.5 1421.5 376.5 1421.5 374.5 1367.5 385.5 1408.5 379.5 1473.5 388.5 1463.5 381.5 1473.5 358.5 1452.5 390.5 1446.5 383.5 1328.5 401.5 1391.5 381.5 1442.5 381.5 1392.5 372.5 1358.5 367.5 1365.5 383.5 1349.5 353.5 1368.5 362.5 1434.5 390.5 1384.5 356.5 1464.5 390.5 1367.5 353.5 1417.5 392.5 1379.5 381.5 1442.5 379.5 1372.5 378.5 1388.5 374.5 1451.5 395.5 1385.5 379.5 1446.5 394.5 1334.5 392.5 1360.5 371.5 1359.5 355.5 1370.5 374.5 1389.5 381.5 1369.5 385.5 1427.5 385.5 1459.5 397.5 1411.5 386.5 1443.5 392.5 1335.5 392.5 1369.5 376.5 1478.5 395.5 1440.5 392.5 1397.5 360.5 1381.5 381.5 1358.5 362.5 1377.5 355.5 1379.5 353.5 1421.5 390.5 1396.5 369.5 1429.5 365.5 1437.5 388.5 1394.5 378.5 1423.5 355.5 1482.5 395.5 1331.5 397.5 1374.5 376.5 1330.5 395.5 1464.5 388.5 1414.5 385.5 1411.5 374.5 1339.5 386.5 1425.5 394.5 1514.5 392.5 1457.5 386.5 1364.5 379.5 1423.5 390.5 1338.5 394.5 1406.5 385.5 1445.5 394.5 1407.5 372.5 1334.5 394.5 1437.5 385.5 1486.5 397.5 1416.5 388.5 1341.5 383.5 1494.5 392.5 1448.5 365.5 1378.5 369.5 1454.5 379.5 1365.5 362.5 1436.5 383.5 1367.5 381.5 1466.5 383.5 1420.5 386.5 1456.5 388.5 1366.5 339.5 1492.5 379.5 1488.5 399.5 1367.5 369.5 1327.5 401.5 1433.5 386.5 1366.5 378.5 1414.5 381.5 1369.5 383.5 1393.5 381.5 1358.5 379.5 1435.5 369.5 1371.5 376.5 1398.5 385.5 1429.5 385.5 1386.5 378.5 1432.5 383.5 1363.5 374.5 1502.5 397.5 1363.5 383.5 1440.5 394.5 1461.5 392.5 1385.5 381.5 1450.5 365.5 1503.5 401.5 1333.5 397.5 1493.5 395.5 1354.5 376.5 1386.5 355.5 1415.5 385.5 1369.5 360.5 1504.5 395.5 1391.5 362.5 1356.5 383.5 1437.5 356.5 1417.5 360.5 1403.5 379.5 1422.5 388.5 1330.5 401.5 1386.5 374.5 1477.5 394.5 1351.5 342.5 1357.5 360.5 1349.5 383.5 1391.5 385.5 1518.5 399.5 1406.5 364.5 1496.5 401.5 1387.5 367.5 1408.5 365.5 1340.5 388.5 1396.5 372.5 1409.5 349.5 1406.5 353.5 1503.5 399.5 1373.5 362.5 1489.5 397.5 1417.5 390.5 1383.5 374.5 1339.5 390.5 1458.5 390.5 1398.5 383.5 1423.5 381.5 1350.5 376.5 1363.5 381.5 1466.5 397.5 1376.5 374.5 1393.5 386.5 1440.5 390.5 1411.5 365.5 1332.5 397.5 1433.5 372.5 1463.5 390.5 1493.5 394.5 1486.5 388.5 1454.5 388.5 1513.5 395.5 1382.5 376.5 1470.5 397.5 1502.5 394.5 1360.5 367.5 1368.5 367.5 1475.5 397.5 1474.5 395.5 1412.5 379.5 1393.5 374.5 1365.5 367.5 1349.5 378.5 1376.5 364.5 1372.5 371.5 1385.5 367.5 1373.5 378.5 1375.5 351.5 1463.5 394.5 1479.5 395.5 1400.5 385.5 1436.5 376.5 1391.5 365.5 1390.5 369.5 1453.5 395.5 1423.5 376.5 1479.5 397.5 1361.5 372.5 1402.5 383.5 1407.5 376.5 1449.5 378.5 1424.5 383.5 1351.5 379.5 1474.5 394.5 1504.5 399.5 1466.5 395.5 1429.5 381.5 1396.5 385.5 1468.5 394.5 1376.5 376.5 1362.5 355.5 1456.5 390.5 1370.5 150.5 1401.5 199.5 1416.5 206.5 1379.5 240.5 1412.5 236.5 1383.5 266.5 1375.5 302.5 1418.5 314.5 1383.5 311.5 1390.5 309.5 1432.5 325.5 1416.5 334.5 1427.5 332.5 1427.5 335.5 1487.5 353.5 1464.5 353.5 1510.5 392.5 1377.5 334.5 1380.5 337.5 1386.5 341.5 1393.5 342.5 1375.5 355.5"/>
</g>
<g clip-path="url(#c13)" fill="none" stroke="none">
<path stroke="#0000ff" stroke-width="1" d="M1427 672.5h1M1427 673.5h1M1340 678.5h1M1337 679.5h6M1340 680.5h1M1339 681.5h5M1340 682.5h1M1341 686.5h4M1354 689.5h1M1354 690.5h1M1354 691.5h1m20 0h1M1347 692.5h11m10 0h3m4 0h6M1349 693.5h1m4 0h1m20 0h1M1349 694.5h1m4 0h1m4 0h4m11 0h11m41 0h1M1344 695.5h7m3 0h1m31 0h1M1404 696.5h1M1404 698.5h1M1356 699.5h3m9 0h1m3 0h2m32 0h1M1356 700.5h1m16 0h1m30 0h1M1343 701.5h3m9 0h5m5 0h12M1342 702.5h5m9 0h3m10 0h8m14 0h1m12 0h1m3 0h1M1356 703.5h1m1 0h1m6 0h1m2 0h1m4 0h1m17 0h1M1342 704.5h5m9 0h1m1 0h1m6 0h1m2 0h6m16 0h5m11 0h6m35 0h7M1333 705.5h1m56 0h1m5 0h1M1321 706.5h3m3 0h1m5 0h1m10 0h29m11 0h7m5 0h1m6 0h1m31 0h1m14 0h1M1333 707.5h1m10 0h1m4 0h1m1 0h1m8 0h1m29 0h1m5 0h1m6 0h1m31 0h1M1319 708.5h6m5 0h11m8 0h1m1 0h1m6 0h12m17 0h17m28 0h7M1323 709.5h2m5 0h13m3 0h20m3 0h1m20 0h1m5 0h1m6 0h1m28 0h6M1323 710.5h1m8 0h2m2 0h1m1 0h2m4 0h1m16 0h4m16 0h1m8 0h1m5 0h1m6 0h1m28 0h1m2 0h1m2 0h1M1321 711.5h3m8 0h13m14 0h6m16 0h1m7 0h2m3 0h6m3 0h1m26 0h7m1 0h1M1323 712.5h1m8 0h1m3 0h9m4 0h2m6 0h1m3 0h4m5 0h1m5 0h1m4 0h1m7 0h1m17 0h1m13 0h1m10 0h1m5 0h1M1323 713.5h1m2 0h1m5 0h21m4 0h40m4 0h1m5 0h17m8 0h5M1323 714.5h1m2 0h1m5 0h1m3 0h8m4 0h3m6 0h1m3 0h4m5 0h3m3 0h1m4 0h1m4 0h1m7 0h1m4 0h1m7 0h1m13 0h1m10 0h1M1320 715.5h8m6 0h48m3 0h10m4 0h1m8 0h1m7 0h1m3 0h7m5 0h1m5 0h1M1322 716.5h9m3 0h56m3 0h2m3 0h2m3 0h1m12 0h1m4 0h1m3 0h1M1323 717.5h1m2 0h1m11 0h2m1 0h5m2 0h7m1 0h2m6 0h5m3 0h5m3 0h2m4 0h1m1 0h2m4 0h1m4 0h1m23 0h1m1 0h1m16 0h1M1322 718.5h5m9 0h22m3 0h57m5 0h3m16 0h1m13 0h1M1326 719.5h1m7 0h1m1 0h19m1 0h3m4 0h1m4 0h2m2 0h1m3 0h1m3 0h2m2 0h3m1 0h1m9 0h2m42 0h1M1326 720.5h1m3 0h1m3 0h67m7 0h1m3 0h9m3 0h4m3 0h2m9 0h1m11 0h1m11 0h1M1323 721.5h1m6 0h1m3 0h21m1 0h1m1 0h1m4 0h7m2 0h1m3 0h1m3 0h7m1 0h3m3 0h1m3 0h3m1 0h1m5 0h1m1 0h1m3 0h1m14 0h1m2 0h1m9 0h1M1318 722.5h1m1 0h1m6 0h58m4 0h22m3 0h1m8 0h1m3 0h23m7 0h1m5 0h1M1318 723.5h1m1 0h1m6 0h28m1 0h1m5 0h8m2 0h12m9 0h1m6 0h3m1 0h1m3 0h3m3 0h1m9 0h1m4 0h4m8 0h2m14 0h1M1318 724.5h65m5 0h31m5 0h14m3 0h1m15 0h1m15 0h1M1316 725.5h44m3 0h19m5 0h4m3 0h53m7 0h11M1318 726.5h37m3 0h2m4 0h5m5 0h7m7 0h2m3 0h1m3 0h2m2 0h16m3 0h1m7 0h6m3 0h1m3 0h1m4 0h1m9 0h2m6 0h1M1316 727.5h45m4 0h1m3 0h13m3 0h8m3 0h41m3 0h7m4 0h13m12 0h1M1318 728.5h35m7 0h3m5 0h13m5 0h1m10 0h9m3 0h8m3 0h6m2 0h4m3 0h1m1 0h1m2 0h4m2 0h1m9 0h2M1316 729.5h33m8 0h1m3 0h2m4 0h13m3 0h2m5 0h1m9 0h3m3 0h26m3 0h28m3 0h4M1319 730.5h31m27 0h2m4 0h2m16 0h1m6 0h7m3 0h1m1 0h4m6 0h1m6 0h1m5 0h4m8 0h2m1 0h1m4 0h2m4 0h1M1316 731.5h30m3 0h1m24 0h1m4 0h3m27 0h4m4 0h1m3 0h3m5 0h1m7 0h2m4 0h1m5 0h3m3 0h2m6 0h12m1 0h1m15 0h2m17 0h5M1317 732.5h25m3 0h1m66 0h1m7 0h1m18 0h1m11 0h9m3 0h3m3 0h11m2 0h1m9 0h3m9 0h1M1317 733.5h24m78 0h1m26 0h1m11 0h3m2 0h1m2 0h1m3 0h3m1 0h1m3 0h1m6 0h2m6 0h1m8 0h1M1315 734.5h27m111 0h1m3 0h1m3 0h13m4 0h2m5 0h2m2 0h7m6 0h1m7 0h9M1317 735.5h19m168 0h1m13 0h1M1315 736.5h20m168 0h1m3 0h1m6 0h5m21 0h1M1317 737.5h16m217 0h1m5 0h1m4 0h1M1315 738.5h18m259 0h1M1315 739.5h17m251 0h1m8 0h1M1317 740.5h13m253 0h1m8 0h1M1315 741.5h15m229 0h1m19 0h7m4 0h8M1317 742.5h13m253 0h1m8 0h1"/>
<path marker-start="url(#b)" marker-mid="url(#b)" marker-end="url(#b)" d="M1562.5 739.5 1573.5 739.5 1535.5 741.5 1576.5 741.5 1550.5 739.5 1529.5 739.5 1549.5 741.5 1516.5 739.5 1532.5 741.5 1568.5 741.5 1567.5 739.5 1534.5 741.5 1545.5 739.5 1556.5 739.5 1539.5 739.5 1517.5 739.5 1507.5 739.5 1524.5 739.5 1540.5 739.5 1592.5 741.5 1578.5 741.5 1583.5 741.5 1580.5 741.5 1596.5 741.5 1577.5 741.5 1594.5 741.5 1586.5 741.5 1587.5 741.5 1589.5 741.5 1588.5 741.5 1349.5 709.5 1374.5 724.5 1362.5 708.5 1326.5 716.5 1438.5 713.5 1335.5 724.5 1345.5 702.5 1344.5 704.5 1431.5 699.5 1350.5 713.5 1342.5 713.5 1430.5 725.5 1442.5 731.5 1321.5 729.5 1438.5 709.5 1339.5 713.5 1345.5 720.5 1396.5 694.5 1392.5 722.5 1436.5 734.5 1411.5 732.5 1375.5 725.5 1485.5 736.5 1433.5 727.5 1449.5 734.5 1399.5 713.5 1321.5 734.5 1396.5 704.5 1340.5 711.5 1357.5 709.5 1460.5 727.5 1364.5 725.5 1469.5 731.5 1320.5 732.5 1462.5 725.5 1336.5 679.5 1356.5 701.5 1443.5 727.5 1439.5 734.5 1322.5 727.5 1441.5 725.5 1318.5 727.5 1378.5 722.5 1419.5 734.5 1371.5 704.5 1381.5 713.5 1319.5 727.5 1353.5 718.5 1425.5 727.5 1323.5 711.5 1432.5 711.5 1455.5 729.5 1453.5 706.5 1428.5 725.5 1363.5 709.5 1372.5 701.5 1400.5 722.5 1378.5 724.5 1409.5 725.5 1404.5 697.5 1413.5 725.5 1362.5 716.5 1401.5 716.5 1333.5 709.5 1317.5 715.5 1352.5 715.5 1466.5 731.5 1452.5 722.5 1476.5 734.5 1418.5 727.5 1328.5 729.5 1416.5 713.5 1347.5 722.5 1403.5 708.5 1389.5 727.5 1416.5 718.5 1370.5 715.5 1323.5 727.5 1458.5 732.5 1337.5 699.5 1439.5 731.5 1367.5 715.5 1407.5 727.5 1330.5 722.5 1329.5 725.5 1460.5 734.5 1398.5 708.5 1357.5 725.5 1451.5 729.5 1359.5 713.5 1320.5 725.5 1361.5 708.5 1464.5 736.5 1405.5 725.5 1368.5 722.5 1410.5 724.5 1398.5 720.5 1332.5 725.5 1417.5 720.5 1431.5 727.5 1405.5 727.5 1424.5 725.5 1317.5 731.5 1382.5 725.5 1432.5 713.5 1375.5 716.5 1404.5 722.5 1354.5 706.5 1354.5 692.5 1515.5 734.5 1332.5 711.5 1429.5 694.5 1347.5 695.5 1422.5 706.5 1467.5 731.5 1318.5 736.5 1404.5 699.5 1380.5 694.5 1352.5 720.5 1456.5 720.5 1349.5 695.5 1404.5 725.5 1338.5 724.5 1345.5 727.5 1361.5 715.5 1425.5 718.5 1425.5 715.5 1452.5 736.5 1326.5 725.5 1407.5 722.5 1472.5 720.5 1476.5 724.5 1335.5 727.5 1358.5 722.5 1472.5 734.5 1403.5 709.5 1373.5 718.5 1362.5 725.5 1337.5 722.5 1413.5 713.5 1387.5 725.5 1340.5 679.5 1369.5 706.5 1359.5 725.5 1341.5 695.5 1469.5 732.5 1365.5 715.5 1375.5 724.5 1351.5 709.5 1435.5 709.5 1499.5 738.5 1431.5 722.5 1331.5 727.5 1430.5 727.5 1368.5 718.5 1322.5 725.5 1332.5 713.5 1448.5 732.5 1492.5 734.5 1340.5 681.5 1368.5 727.5 1344.5 718.5 1454.5 734.5 1373.5 702.5 1451.5 711.5 1338.5 734.5 1421.5 715.5 1421.5 713.5 1334.5 722.5 1408.5 718.5 1473.5 727.5 1463.5 720.5 1473.5 697.5 1345.5 716.5 1335.5 711.5 1452.5 729.5 1336.5 711.5 1446.5 722.5 1391.5 720.5 1442.5 720.5 1392.5 711.5 1343.5 715.5 1358.5 706.5 1365.5 722.5 1323.5 724.5 1349.5 692.5 1368.5 701.5 1434.5 729.5 1392.5 727.5 1384.5 695.5 1464.5 729.5 1333.5 708.5 1322.5 716.5 1367.5 692.5 1346.5 701.5 1379.5 720.5 1442.5 718.5 1372.5 716.5 1388.5 713.5 1451.5 734.5 1385.5 718.5 1360.5 709.5 1319.5 706.5 1359.5 694.5 1370.5 713.5 1389.5 720.5 1427.5 724.5 1459.5 736.5 1371.5 727.5 1411.5 725.5 1410.5 732.5 1369.5 715.5 1478.5 734.5 1329.5 674.5 1397.5 699.5 1381.5 720.5 1323.5 718.5 1358.5 701.5 1377.5 694.5 1379.5 692.5 1421.5 729.5 1396.5 708.5 1429.5 704.5 1437.5 727.5 1394.5 716.5 1423.5 694.5 1333.5 664.5 1482.5 734.5 1450.5 732.5 1321.5 708.5 1349.5 706.5 1374.5 715.5 1464.5 727.5 1411.5 713.5 1514.5 731.5 1457.5 725.5 1364.5 718.5 1423.5 729.5 1342.5 681.5 1338.5 732.5 1406.5 724.5 1368.5 715.5 1407.5 711.5 1333.5 722.5 1437.5 724.5 1486.5 736.5 1416.5 727.5 1494.5 731.5 1448.5 704.5 1378.5 708.5 1403.5 727.5 1454.5 718.5 1324.5 706.5 1365.5 701.5 1436.5 722.5 1449.5 732.5 1367.5 720.5 1466.5 722.5 1420.5 725.5 1456.5 727.5 1360.5 724.5 1366.5 678.5 1492.5 718.5 1488.5 738.5 1374.5 727.5 1394.5 727.5 1367.5 708.5 1332.5 724.5 1334.5 718.5 1433.5 725.5 1366.5 716.5 1414.5 720.5 1393.5 720.5 1339.5 720.5 1358.5 718.5 1339.5 709.5 1338.5 708.5 1421.5 732.5 1435.5 708.5 1371.5 715.5 1327.5 725.5 1429.5 724.5 1386.5 716.5 1432.5 722.5 1363.5 713.5 1502.5 736.5 1344.5 686.5 1461.5 731.5 1450.5 704.5 1406.5 727.5 1493.5 734.5 1354.5 715.5 1386.5 694.5 1415.5 724.5 1369.5 699.5 1504.5 734.5 1391.5 701.5 1437.5 695.5 1317.5 734.5 1417.5 699.5 1342.5 701.5 1403.5 718.5 1324.5 715.5 1422.5 727.5 1371.5 692.5 1348.5 706.5 1386.5 713.5 1477.5 732.5 1351.5 681.5 1348.5 715.5 1357.5 699.5 1406.5 702.5 1387.5 706.5 1408.5 704.5 1396.5 711.5 1409.5 688.5 1348.5 716.5 1406.5 692.5 1503.5 738.5 1373.5 701.5 1489.5 736.5 1373.5 725.5 1417.5 729.5 1383.5 725.5 1383.5 724.5 1318.5 686.5 1338.5 711.5 1383.5 713.5 1352.5 686.5 1370.5 724.5 1341.5 715.5 1458.5 729.5 1330.5 706.5 1423.5 720.5 1350.5 715.5 1363.5 720.5 1339.5 715.5 1376.5 713.5 1393.5 725.5 1323.5 683.5 1336.5 713.5 1317.5 695.5 1384.5 720.5 1411.5 704.5 1433.5 711.5 1463.5 729.5 1493.5 732.5 1328.5 720.5 1377.5 724.5 1486.5 727.5 1454.5 727.5 1513.5 734.5 1382.5 715.5 1502.5 732.5 1326.5 695.5 1356.5 702.5 1360.5 706.5 1368.5 706.5 1450.5 734.5 1325.5 725.5 1474.5 734.5 1412.5 718.5 1393.5 713.5 1365.5 706.5 1340.5 722.5 1376.5 702.5 1337.5 715.5 1372.5 709.5 1361.5 722.5 1385.5 706.5 1373.5 716.5 1375.5 690.5 1463.5 732.5 1333.5 701.5 1479.5 734.5 1327.5 716.5 1436.5 715.5 1391.5 704.5 1390.5 708.5 1344.5 713.5 1453.5 734.5 1325.5 732.5 1344.5 709.5 1423.5 715.5 1323.5 715.5 1361.5 711.5 1327.5 709.5 1402.5 722.5 1407.5 715.5 1449.5 716.5 1349.5 672.5 1424.5 722.5 1351.5 718.5 1474.5 732.5 1318.5 724.5 1429.5 720.5 1323.5 708.5 1396.5 724.5 1318.5 725.5 1468.5 732.5 1376.5 715.5 1362.5 694.5 1351.5 706.5 1341.5 686.5 1370.5 489.5 1401.5 538.5 1416.5 545.5 1379.5 579.5 1412.5 575.5 1383.5 605.5 1335.5 614.5 1375.5 641.5 1354.5 641.5 1331.5 653.5 1418.5 653.5 1383.5 649.5 1390.5 648.5 1329.5 667.5 1351.5 665.5 1432.5 664.5 1416.5 672.5 1427.5 671.5 1427.5 674.5 1487.5 692.5 1464.5 692.5 1510.5 731.5 1377.5 672.5 1380.5 676.5 1386.5 679.5 1393.5 681.5 1375.5 694.5"/>
<path stroke="#ff0000" stroke-width="1" d="M1401 538.5h1M1416 545.5h1M1375 641.5h1M1418 653.5h1M1427 671.5h1M1377 672.5h1M1427 674.5h1M1380 676.5h1M1366 678.5h1M1386 679.5h1M1393 681.5h1M1349 692.5h1m114 0h1m22 0h1M1375 694.5h1m53 0h1M1404 697.5h1m68 0h1M1403 698.5h3M1404 699.5h1M1373 701.5h1m17 0h1M1391 704.5h1m56 0h1M1358 706.5h1m63 0h1M1397 707.5h1M1378 708.5h1m16 0h4M1360 709.5h1m11 0h1m4 0h1m19 0h1m40 0h1M1362 710.5h1m15 0h1m5 0h1m6 0h1M1379 711.5h1m3 0h1m8 0h2M1380 712.5h3m9 0h1M1359 713.5h1m21 0h1m6 0h1m27 0h1M1380 714.5h3m5 0h3M1368 715.5h1m10 0h1m3 0h1m5 0h3m4 0h2M1349 716.5h1m26 0h1m1 0h1m5 0h3m5 0h1m3 0h2M1370 717.5h1m6 0h1m7 0h3m3 0h5M1365 718.5h1m15 0h1m4 0h1m3 0h1m3 0h2m3 0h1m8 0h1M1355 719.5h1m17 0h1m5 0h1m3 0h1m5 0h1m3 0h3M1354 720.5h1m12 0h1m20 0h1m3 0h2m2 0h2m4 0h1m60 0h1M1360 721.5h1m5 0h1m11 0h1m8 0h5m3 0h7M1358 722.5h2m1 0h1m3 0h1m10 0h1m2 0h1m5 0h6m4 0h6m7 0h1m15 0h1m13 0h1m5 0h1m7 0h1M1357 723.5h4m3 0h1m5 0h1m13 0h8m5 0h5m7 0h1m29 0h1m3 0h1M1357 724.5h4m2 0h3m3 0h2m6 0h1m3 0h7m4 0h1m4 0h4m3 0h1m5 0h1m23 0h1m5 0h3M1351 725.5h1m3 0h2m3 0h5m3 0h3m11 0h5m4 0h3m3 0h5m1 0h1m5 0h3m12 0h1m8 0h1m7 0h1M1355 726.5h3m3 0h3m3 0h3m1 0h2m9 0h5m3 0h7m3 0h3m5 0h1m3 0h1m19 0h1m7 0h3m18 0h1M1353 727.5h5m3 0h8m3 0h1m7 0h1m1 0h5m3 0h6m5 0h1m5 0h4m2 0h1m12 0h1m4 0h1m3 0h5m3 0h1m20 0h2m20 0h1M1348 728.5h3m2 0h17m3 0h1m5 0h18m3 0h3m3 0h5m3 0h1m2 0h2m8 0h1m2 0h4m2 0h4m4 0h2m17 0h3M1349 729.5h12m2 0h6m5 0h1m5 0h3m2 0h24m2 0h2m3 0h2m10 0h2m2 0h9m4 0h2m11 0h1m4 0h3M1346 730.5h64m2 0h6m6 0h25m10 0h4m3 0h1M1346 731.5h63m4 0h4m1 0h3m1 0h1m1 0h13m2 0h10m3 0h2m4 0h1m1 0h2m4 0h4m3 0h1m5 0h1m10 0h1m19 0h1M1342 732.5h112m3 0h1m2 0h2m4 0h3m5 0h1m3 0h1m11 0h1M1335 733.5h1m1 0h1m3 0h117m11 0h1m3 0h7m1 0h3m4 0h1m16 0h1M1336 734.5h125m3 0h1m3 0h1m1 0h8m2 0h5m2 0h1m4 0h2m10 0h1m10 0h1M1336 735.5h171m7 0h1m5 0h1M1335 736.5h172m3 0h4m3 0h4m16 0h1m4 0h2m9 0h1m5 0h1m10 0h1M1333 737.5h243m3 0h1M1328 738.5h1m4 0h249m1 0h4m2 0h3m3 0h1M1329 739.5h253m3 0h10M1330 740.5h266M1330 741.5h251m2 0h1m2 0h4m2 0h5M1330 742.5h266"/>
<path marker-start="url(#r)" marker-mid="url(#r)" marker-end="url(#r)" d="M1562.5 739.5 1546.5 741.5 1573.5 739.5 1505.5 739.5 1537.5 741.5 1538.5 741.5 1575.5 741.5 1574.5 741.5 1535.5 741.5 1576.5 741.5 1552.5 741.5 1550.5 739.5 1529.5 739.5 1531.5 741.5 1564.5 741.5 1536.5 741.5 1529.5 741.5 1528.5 741.5 1516.5 739.5 1532.5 741.5 1547.5 741.5 1545.5 741.5 1567.5 739.5 1572.5 741.5 1545.5 739.5 1556.5 739.5 1539.5 739.5 1517.5 739.5 1558.5 741.5 1507.5 739.5 1571.5 741.5 1553.5 741.5 1539.5 741.5 1557.5 741.5 1524.5 739.5 1540.5 739.5 1565.5 741.5 1501.5 739.5 1530.5 741.5 1573.5 741.5 1592.5 741.5 1578.5 741.5 1583.5 741.5 1580.5 741.5 1596.5 741.5 1577.5 741.5 1594.5 741.5 1586.5 741.5 1587.5 741.5 1589.5 741.5 1588.5 741.5 1395.5 731.5 1374.5 732.5 1349.5 734.5 1353.5 732.5 1397.5 731.5 1442.5 731.5 1438.5 709.5 1454.5 738.5 1436.5 734.5 1375.5 734.5 1414.5 731.5 1485.5 736.5 1344.5 738.5 1449.5 734.5 1438.5 734.5 1454.5 736.5 1354.5 732.5 1429.5 734.5 1348.5 736.5 1366.5 729.5 1441.5 725.5 1423.5 736.5 1431.5 734.5 1446.5 729.5 1419.5 734.5 1381.5 713.5 1398.5 734.5 1384.5 727.5 1376.5 731.5 1462.5 738.5 1400.5 722.5 1423.5 734.5 1404.5 734.5 1404.5 697.5 1338.5 739.5 1350.5 734.5 1383.5 727.5 1452.5 722.5 1476.5 734.5 1416.5 713.5 1399.5 718.5 1387.5 731.5 1389.5 732.5 1435.5 731.5 1439.5 731.5 1472.5 736.5 1348.5 734.5 1407.5 727.5 1398.5 708.5 1340.5 736.5 1499.5 739.5 1415.5 736.5 1359.5 713.5 1401.5 732.5 1381.5 718.5 1410.5 724.5 1431.5 727.5 1424.5 725.5 1443.5 734.5 1382.5 725.5 1485.5 738.5 1370.5 734.5 1515.5 734.5 1429.5 694.5 1422.5 706.5 1459.5 738.5 1467.5 731.5 1403.5 731.5 1404.5 699.5 1450.5 738.5 1349.5 732.5 1331.5 741.5 1372.5 732.5 1390.5 732.5 1384.5 725.5 1344.5 736.5 1408.5 729.5 1452.5 736.5 1455.5 734.5 1430.5 731.5 1339.5 739.5 1358.5 722.5 1354.5 720.5 1514.5 739.5 1472.5 734.5 1351.5 731.5 1376.5 716.5 1394.5 718.5 1389.5 715.5 1379.5 734.5 1336.5 741.5 1362.5 725.5 1464.5 738.5 1443.5 732.5 1338.5 736.5 1499.5 738.5 1366.5 731.5 1385.5 734.5 1344.5 734.5 1416.5 734.5 1388.5 732.5 1492.5 734.5 1405.5 734.5 1359.5 729.5 1453.5 736.5 1336.5 739.5 1337.5 739.5 1490.5 738.5 1386.5 725.5 1360.5 731.5 1408.5 718.5 1453.5 738.5 1463.5 720.5 1427.5 734.5 1473.5 697.5 1392.5 711.5 1395.5 732.5 1358.5 706.5 1349.5 692.5 1416.5 729.5 1434.5 729.5 1442.5 736.5 1464.5 729.5 1353.5 731.5 1388.5 713.5 1451.5 734.5 1446.5 732.5 1415.5 731.5 1360.5 709.5 1369.5 724.5 1472.5 738.5 1414.5 732.5 1425.5 734.5 1347.5 731.5 1434.5 734.5 1362.5 727.5 1411.5 725.5 1355.5 732.5 1424.5 736.5 1361.5 731.5 1335.5 739.5 1384.5 732.5 1377.5 732.5 1396.5 708.5 1437.5 727.5 1332.5 739.5 1380.5 734.5 1427.5 731.5 1421.5 734.5 1482.5 734.5 1464.5 727.5 1435.5 732.5 1368.5 715.5 1444.5 734.5 1333.5 741.5 1376.5 722.5 1486.5 736.5 1345.5 736.5 1448.5 704.5 1378.5 708.5 1354.5 727.5 1367.5 720.5 1482.5 736.5 1366.5 678.5 1488.5 738.5 1356.5 725.5 1411.5 734.5 1476.5 736.5 1387.5 734.5 1433.5 725.5 1444.5 736.5 1393.5 720.5 1400.5 732.5 1349.5 736.5 1398.5 724.5 1386.5 716.5 1502.5 736.5 1386.5 722.5 1461.5 731.5 1390.5 727.5 1503.5 739.5 1456.5 738.5 1433.5 732.5 1493.5 734.5 1504.5 734.5 1391.5 701.5 1388.5 720.5 1352.5 732.5 1345.5 734.5 1436.5 736.5 1377.5 734.5 1332.5 741.5 1383.5 734.5 1478.5 736.5 1394.5 729.5 1518.5 738.5 1368.5 729.5 1408.5 736.5 1450.5 736.5 1390.5 731.5 1503.5 738.5 1373.5 701.5 1394.5 727.5 1351.5 725.5 1409.5 736.5 1370.5 724.5 1458.5 729.5 1398.5 722.5 1333.5 739.5 1352.5 734.5 1405.5 731.5 1393.5 725.5 1383.5 732.5 1385.5 725.5 1463.5 729.5 1377.5 724.5 1486.5 727.5 1354.5 729.5 1386.5 731.5 1401.5 727.5 1450.5 734.5 1349.5 716.5 1372.5 709.5 1361.5 722.5 1400.5 724.5 1391.5 704.5 1448.5 736.5 1479.5 736.5 1364.5 729.5 1448.5 734.5 1424.5 722.5 1469.5 738.5 1468.5 732.5 1391.5 725.5 1386.5 734.5 1401.5 538.5 1416.5 545.5 1375.5 641.5 1418.5 653.5 1427.5 671.5 1427.5 674.5 1487.5 692.5 1464.5 692.5 1510.5 731.5 1377.5 672.5 1380.5 676.5 1386.5 679.5 1393.5 681.5 1375.5 694.5"/>
</g>
<g clip-path="url(#c23)" fill="none" stroke="none">
<path stroke="#0000ff" stroke-width="1" d="M1427 1010.5h1M1427 1011.5h1M1427 1012.5h1M1340 1017.5h1M1337 1018.5h6M1340 1019.5h1M1339 1020.5h5M1340 1021.5h1M1341 1025.5h4M1354 1028.5h1M1354 1029.5h1m20 0h3M1354 1030.5h1m20 0h1M1347 1031.5h11m10 0h3m4 0h6M1349 1032.5h1m4 0h1m4 0h4m11 0h11m41 0h1M1349 1033.5h1m4 0h1M1344 1034.5h7m3 0h1m31 0h1M1404 1035.5h1M1404 1036.5h1M1404 1037.5h1M1356 1038.5h3m9 0h1m3 0h2m30 0h3M1343 1039.5h3m9 0h5m5 0h12m27 0h1M1356 1040.5h1m16 0h1m17 0h1M1342 1041.5h5m9 0h3m10 0h8m14 0h1m12 0h1m3 0h1M1356 1042.5h1m1 0h1m6 0h1m2 0h1m4 0h1m17 0h1M1345 1043.5h1m22 0h2m3 0h1m16 0h9m7 0h6m35 0h7M1390 1044.5h1m5 0h1M1321 1045.5h3m3 0h1m5 0h1m10 0h29m11 0h7m5 0h1m6 0h1m31 0h1m14 0h1M1319 1046.5h6m5 0h10m4 0h1m4 0h1m1 0h1m6 0h12m17 0h17m31 0h4M1323 1047.5h1m9 0h1m4 0h1m10 0h1m1 0h1m8 0h2m28 0h1m5 0h1m6 0h1m31 0h1M1323 1048.5h2m5 0h13m3 0h20m3 0h1m20 0h1m5 0h1m6 0h1m28 0h7M1323 1049.5h1m8 0h2m2 0h1m1 0h2m4 0h1m16 0h4m16 0h1m8 0h1m5 0h1m6 0h1m28 0h1m2 0h1m2 0h1M1323 1050.5h1m8 0h13m14 0h6m16 0h1m7 0h11m3 0h1m26 0h7m1 0h1M1323 1051.5h1m8 0h1m3 0h9m4 0h2m6 0h1m3 0h1m1 0h2m5 0h1m5 0h1m4 0h1m7 0h1m17 0h1m13 0h1m10 0h1m5 0h1M1323 1052.5h1m2 0h1m5 0h21m4 0h40m4 0h1m5 0h17m8 0h5M1323 1053.5h1m2 0h1m5 0h1m3 0h8m4 0h3m6 0h1m3 0h4m5 0h3m3 0h1m4 0h1m4 0h1m2 0h1m4 0h1m4 0h1m7 0h1m13 0h1m10 0h1M1320 1054.5h8m6 0h61m4 0h1m8 0h1m7 0h1m3 0h7m5 0h1m5 0h1M1322 1055.5h9m3 0h56m3 0h2m3 0h2m3 0h1m12 0h1m4 0h1m3 0h1M1323 1056.5h1m2 0h1m11 0h2m1 0h5m2 0h7m1 0h2m6 0h5m3 0h5m3 0h2m3 0h2m1 0h2m4 0h1m4 0h1m23 0h1m1 0h1m16 0h1M1322 1057.5h5m9 0h22m3 0h57m5 0h3m16 0h1m13 0h1M1323 1058.5h1m2 0h1m7 0h1m1 0h19m1 0h3m4 0h7m2 0h5m3 0h2m2 0h3m1 0h2m4 0h1m3 0h2m8 0h1m33 0h1M1323 1059.5h1m2 0h1m3 0h1m3 0h69m5 0h1m1 0h11m3 0h9m9 0h1m11 0h1m11 0h1M1323 1060.5h1m6 0h1m3 0h21m1 0h1m1 0h1m4 0h7m2 0h1m3 0h11m1 0h7m3 0h3m1 0h1m5 0h1m1 0h1m3 0h1m14 0h1m2 0h1m9 0h1M1318 1061.5h1m1 0h1m6 0h84m3 0h1m8 0h27m7 0h1m5 0h1M1318 1062.5h101m5 0h13m4 0h2m14 0h1M1318 1063.5h3m1 0h2m3 0h1m1 0h26m1 0h14m4 0h7m1 0h13m2 0h2m1 0h11m13 0h1m4 0h5m3 0h1m3 0h2m14 0h1M1316 1064.5h131m7 0h11M1318 1065.5h63m1 0h13m2 0h20m3 0h1m4 0h1m1 0h7m3 0h1m3 0h1m4 0h1m9 0h2m6 0h1M1316 1066.5h131m4 0h17M1318 1067.5h20m1 0h57m1 0h13m2 0h6m2 0h6m1 0h5m1 0h3m1 0h1m2 0h5m1 0h1m9 0h2m6 0h1M1316 1068.5h154M1316 1069.5h133m6 0h2m1 0h13m22 0h1m17 0h3M1317 1070.5h1m1 0h103m1 0h1m1 0h1m1 0h5m1 0h14m1 0h4m3 0h2m1 0h1m4 0h1m2 0h4m4 0h1m1 0h1m16 0h1M1317 1071.5h82m3 0h78m2 0h1m9 0h3m9 0h1M1317 1072.5h82m4 0h44m1 0h13m2 0h2m1 0h7m1 0h6m2 0h1m2 0h2m6 0h1m8 0h1M1315 1073.5h113m3 0h56m2 0h7m6 0h3m7 0h7M1317 1074.5h77m6 0h2m4 0h20m5 0h50m1 0h9m1 0h4m3 0h1m2 0h3m13 0h1M1315 1075.5h64m3 0h9m8 0h1m7 0h19m3 0h22m3 0h42m3 0h7m1 0h1m6 0h5m21 0h1M1315 1076.5h28m207 0h1m5 0h1m4 0h1M1317 1077.5h23m252 0h1M1315 1078.5h25m243 0h1m8 0h1M1317 1079.5h23m243 0h1m8 0h1M1315 1080.5h24m220 0h1m19 0h7m4 0h8"/>
<path marker-start="url(#b)" marker-mid="url(#b)" marker-end="url(#b)" d="M1562.5 1078.5 1573.5 1078.5 1505.5 1078.5 1535.5 1080.5 1576.5 1080.5 1550.5 1078.5 1529.5 1078.5 1549.5 1080.5 1516.5 1078.5 1532.5 1080.5 1568.5 1080.5 1567.5 1078.5 1534.5 1080.5 1545.5 1078.5 1556.5 1078.5 1539.5 1078.5 1517.5 1078.5 1507.5 1078.5 1524.5 1078.5 1540.5 1078.5 1501.5 1078.5 1592.5 1080.5 1578.5 1080.5 1583.5 1080.5 1580.5 1080.5 1596.5 1080.5 1577.5 1080.5 1594.5 1080.5 1586.5 1080.5 1587.5 1080.5 1589.5 1080.5 1588.5 1080.5 1349.5 1048.5 1374.5 1062.5 1395.5 1069.5 1362.5 1046.5 1326.5 1055.5 1438.5 1052.5 1335.5 1062.5 1345.5 1041.5 1344.5 1043.5 1431.5 1038.5 1350.5 1052.5 1342.5 1052.5 1381.5 1069.5 1430.5 1064.5 1442.5 1069.5 1321.5 1068.5 1438.5 1048.5 1339.5 1052.5 1345.5 1059.5 1473.5 1076.5 1396.5 1032.5 1392.5 1061.5 1436.5 1073.5 1411.5 1071.5 1375.5 1064.5 1485.5 1075.5 1449.5 1073.5 1399.5 1052.5 1396.5 1043.5 1340.5 1050.5 1357.5 1048.5 1460.5 1066.5 1364.5 1064.5 1469.5 1069.5 1320.5 1071.5 1462.5 1064.5 1336.5 1018.5 1356.5 1039.5 1490.5 1076.5 1402.5 1062.5 1443.5 1066.5 1441.5 1064.5 1318.5 1066.5 1378.5 1061.5 1419.5 1073.5 1371.5 1043.5 1381.5 1052.5 1319.5 1066.5 1353.5 1057.5 1425.5 1066.5 1323.5 1050.5 1432.5 1050.5 1497.5 1078.5 1455.5 1068.5 1492.5 1076.5 1453.5 1045.5 1428.5 1064.5 1462.5 1076.5 1363.5 1048.5 1372.5 1039.5 1400.5 1061.5 1378.5 1062.5 1409.5 1064.5 1404.5 1036.5 1413.5 1064.5 1362.5 1055.5 1401.5 1055.5 1333.5 1048.5 1317.5 1054.5 1352.5 1054.5 1466.5 1069.5 1452.5 1061.5 1476.5 1073.5 1418.5 1066.5 1328.5 1068.5 1416.5 1052.5 1347.5 1061.5 1403.5 1046.5 1389.5 1066.5 1416.5 1057.5 1370.5 1054.5 1323.5 1066.5 1458.5 1071.5 1435.5 1069.5 1337.5 1038.5 1439.5 1069.5 1367.5 1054.5 1444.5 1069.5 1330.5 1061.5 1347.5 1062.5 1329.5 1064.5 1460.5 1073.5 1398.5 1046.5 1357.5 1064.5 1451.5 1068.5 1359.5 1052.5 1320.5 1064.5 1480.5 1076.5 1361.5 1046.5 1366.5 1064.5 1405.5 1064.5 1410.5 1062.5 1398.5 1059.5 1332.5 1064.5 1417.5 1059.5 1424.5 1064.5 1317.5 1069.5 1382.5 1064.5 1432.5 1052.5 1375.5 1055.5 1404.5 1061.5 1354.5 1045.5 1354.5 1031.5 1515.5 1073.5 1332.5 1050.5 1442.5 1061.5 1429.5 1032.5 1347.5 1034.5 1422.5 1045.5 1494.5 1078.5 1467.5 1069.5 1370.5 1069.5 1404.5 1038.5 1484.5 1078.5 1380.5 1032.5 1456.5 1059.5 1349.5 1034.5 1404.5 1064.5 1345.5 1066.5 1361.5 1054.5 1425.5 1057.5 1425.5 1054.5 1326.5 1064.5 1407.5 1061.5 1400.5 1071.5 1423.5 1069.5 1472.5 1059.5 1476.5 1062.5 1388.5 1057.5 1358.5 1061.5 1514.5 1078.5 1472.5 1073.5 1390.5 1062.5 1403.5 1048.5 1373.5 1057.5 1362.5 1064.5 1413.5 1052.5 1387.5 1064.5 1340.5 1018.5 1369.5 1045.5 1359.5 1064.5 1341.5 1034.5 1432.5 1062.5 1469.5 1071.5 1365.5 1054.5 1375.5 1062.5 1351.5 1048.5 1435.5 1048.5 1438.5 1071.5 1499.5 1076.5 1431.5 1061.5 1368.5 1057.5 1322.5 1064.5 1332.5 1052.5 1448.5 1071.5 1397.5 1064.5 1492.5 1073.5 1340.5 1020.5 1483.5 1076.5 1344.5 1057.5 1454.5 1073.5 1373.5 1041.5 1451.5 1050.5 1421.5 1054.5 1421.5 1052.5 1334.5 1061.5 1408.5 1057.5 1473.5 1066.5 1463.5 1059.5 1473.5 1036.5 1345.5 1055.5 1335.5 1050.5 1452.5 1068.5 1336.5 1050.5 1446.5 1061.5 1391.5 1059.5 1442.5 1059.5 1392.5 1050.5 1343.5 1054.5 1358.5 1045.5 1323.5 1062.5 1349.5 1031.5 1368.5 1039.5 1434.5 1068.5 1384.5 1034.5 1464.5 1068.5 1333.5 1046.5 1322.5 1055.5 1367.5 1031.5 1417.5 1069.5 1346.5 1039.5 1379.5 1059.5 1442.5 1057.5 1372.5 1055.5 1388.5 1052.5 1451.5 1073.5 1385.5 1057.5 1360.5 1048.5 1319.5 1045.5 1359.5 1032.5 1370.5 1052.5 1389.5 1059.5 1371.5 1069.5 1380.5 1057.5 1427.5 1062.5 1371.5 1066.5 1411.5 1064.5 1410.5 1071.5 1443.5 1069.5 1369.5 1054.5 1478.5 1073.5 1329.5 1013.5 1440.5 1069.5 1397.5 1038.5 1381.5 1059.5 1323.5 1057.5 1358.5 1039.5 1377.5 1032.5 1379.5 1031.5 1421.5 1068.5 1396.5 1046.5 1429.5 1043.5 1437.5 1066.5 1399.5 1069.5 1394.5 1055.5 1423.5 1032.5 1333.5 1002.5 1482.5 1073.5 1450.5 1071.5 1321.5 1046.5 1349.5 1045.5 1374.5 1054.5 1464.5 1066.5 1414.5 1062.5 1411.5 1052.5 1514.5 1069.5 1457.5 1064.5 1364.5 1057.5 1423.5 1068.5 1342.5 1020.5 1338.5 1071.5 1406.5 1062.5 1445.5 1071.5 1368.5 1054.5 1407.5 1050.5 1333.5 1061.5 1437.5 1062.5 1486.5 1075.5 1416.5 1066.5 1494.5 1069.5 1448.5 1043.5 1378.5 1046.5 1403.5 1066.5 1454.5 1057.5 1324.5 1045.5 1365.5 1039.5 1396.5 1071.5 1436.5 1061.5 1449.5 1071.5 1381.5 1071.5 1465.5 1076.5 1466.5 1061.5 1420.5 1064.5 1456.5 1066.5 1360.5 1062.5 1366.5 1016.5 1492.5 1057.5 1488.5 1076.5 1367.5 1046.5 1332.5 1062.5 1334.5 1057.5 1433.5 1064.5 1366.5 1055.5 1414.5 1059.5 1393.5 1059.5 1358.5 1057.5 1339.5 1048.5 1338.5 1046.5 1421.5 1071.5 1435.5 1046.5 1371.5 1054.5 1327.5 1064.5 1467.5 1078.5 1429.5 1062.5 1386.5 1055.5 1432.5 1061.5 1363.5 1052.5 1502.5 1075.5 1344.5 1025.5 1461.5 1069.5 1450.5 1043.5 1503.5 1078.5 1457.5 1076.5 1493.5 1073.5 1354.5 1054.5 1386.5 1032.5 1415.5 1062.5 1369.5 1038.5 1504.5 1073.5 1391.5 1039.5 1437.5 1034.5 1467.5 1076.5 1412.5 1068.5 1417.5 1038.5 1342.5 1039.5 1403.5 1057.5 1372.5 1059.5 1324.5 1054.5 1422.5 1066.5 1412.5 1069.5 1371.5 1031.5 1348.5 1045.5 1386.5 1052.5 1477.5 1071.5 1351.5 1020.5 1348.5 1054.5 1357.5 1038.5 1475.5 1078.5 1391.5 1062.5 1518.5 1076.5 1406.5 1041.5 1496.5 1078.5 1387.5 1045.5 1408.5 1043.5 1396.5 1050.5 1409.5 1027.5 1348.5 1055.5 1406.5 1031.5 1503.5 1076.5 1373.5 1039.5 1489.5 1075.5 1373.5 1064.5 1417.5 1068.5 1383.5 1064.5 1383.5 1062.5 1318.5 1025.5 1338.5 1050.5 1383.5 1052.5 1352.5 1025.5 1370.5 1062.5 1341.5 1054.5 1458.5 1068.5 1330.5 1045.5 1423.5 1059.5 1350.5 1054.5 1363.5 1059.5 1376.5 1052.5 1393.5 1064.5 1440.5 1068.5 1323.5 1022.5 1336.5 1052.5 1317.5 1034.5 1384.5 1059.5 1411.5 1043.5 1433.5 1050.5 1463.5 1068.5 1493.5 1071.5 1328.5 1059.5 1377.5 1062.5 1486.5 1066.5 1454.5 1066.5 1513.5 1073.5 1382.5 1054.5 1502.5 1071.5 1326.5 1034.5 1356.5 1041.5 1360.5 1045.5 1368.5 1045.5 1475.5 1075.5 1450.5 1073.5 1325.5 1064.5 1474.5 1073.5 1412.5 1057.5 1393.5 1052.5 1365.5 1045.5 1340.5 1061.5 1376.5 1041.5 1461.5 1076.5 1337.5 1054.5 1372.5 1048.5 1473.5 1078.5 1361.5 1061.5 1385.5 1045.5 1373.5 1055.5 1375.5 1029.5 1463.5 1071.5 1333.5 1039.5 1479.5 1073.5 1400.5 1062.5 1327.5 1055.5 1436.5 1054.5 1391.5 1043.5 1390.5 1046.5 1344.5 1052.5 1453.5 1073.5 1325.5 1071.5 1344.5 1048.5 1423.5 1054.5 1323.5 1054.5 1361.5 1050.5 1327.5 1048.5 1402.5 1061.5 1407.5 1054.5 1449.5 1055.5 1349.5 1011.5 1424.5 1061.5 1351.5 1057.5 1474.5 1071.5 1318.5 1062.5 1504.5 1076.5 1429.5 1059.5 1323.5 1046.5 1483.5 1078.5 1396.5 1062.5 1318.5 1064.5 1468.5 1071.5 1376.5 1054.5 1362.5 1032.5 1351.5 1045.5 1341.5 1025.5 1370.5 828.5 1401.5 877.5 1416.5 884.5 1379.5 918.5 1412.5 914.5 1383.5 944.5 1335.5 953.5 1375.5 979.5 1354.5 979.5 1331.5 992.5 1418.5 992.5 1383.5 988.5 1390.5 986.5 1329.5 1006.5 1351.5 1004.5 1432.5 1002.5 1416.5 1011.5 1427.5 1009.5 1427.5 1013.5 1487.5 1031.5 1464.5 1031.5 1510.5 1069.5 1377.5 1011.5 1380.5 1015.5 1386.5 1018.5 1393.5 1020.5 1375.5 1032.5"/>
<path stroke="#ff0000" stroke-width="1" d="M1464 1031.5h1M1375 1032.5h1M1404 1063.5h1M1401 1066.5h1m5 0h1m23 0h1M1354 1068.5h1m43 0h1M1347 1069.5h1m49 0h3m4 0h1m62 0h1M1395 1070.5h4m2 0h1m30 0h1M1396 1071.5h2m1 0h3m12 0h1m18 0h1m12 0h1M1394 1072.5h9m2 0h1m7 0h1m14 0h3m16 0h1M1367 1073.5h1m19 0h1m7 0h5m1 0h6m5 0h1m6 0h1m8 0h3m4 0h1m7 0h1m5 0h1m5 0h1m36 0h1M1369 1074.5h2m6 0h1m1 0h2m7 0h1m3 0h16m3 0h1m7 0h1m6 0h5m3 0h1m7 0h4m4 0h1m2 0h2M1362 1075.5h1m2 0h1m3 0h8m2 0h3m3 0h2m2 0h1m1 0h20m3 0h1m3 0h1m1 0h1m5 0h3m2 0h1m4 0h1m4 0h1m2 0h1m6 0h3m5 0h1m5 0h1m8 0h1m29 0h1m32 0h1m4 0h2m9 0h1m5 0h1m10 0h1M1340 1076.5h236m3 0h1M1340 1077.5h242m1 0h4m2 0h3m3 0h1M1340 1078.5h242m3 0h10M1340 1079.5h256M1339 1080.5h242m2 0h1m2 0h4m2 0h5"/>
<path marker-start="url(#r)" marker-mid="url(#r)" marker-end="url(#r)" d="M1562.5 1078.5 1546.5 1080.5 1573.5 1078.5 1505.5 1078.5 1477.5 1078.5 1537.5 1080.5 1538.5 1080.5 1575.5 1080.5 1574.5 1080.5 1535.5 1080.5 1576.5 1080.5 1474.5 1078.5 1552.5 1080.5 1550.5 1078.5 1529.5 1078.5 1531.5 1080.5 1564.5 1080.5 1536.5 1080.5 1529.5 1080.5 1528.5 1080.5 1516.5 1078.5 1532.5 1080.5 1547.5 1080.5 1545.5 1080.5 1567.5 1078.5 1572.5 1080.5 1545.5 1078.5 1556.5 1078.5 1539.5 1078.5 1517.5 1078.5 1558.5 1080.5 1507.5 1078.5 1571.5 1080.5 1553.5 1080.5 1476.5 1078.5 1539.5 1080.5 1557.5 1080.5 1524.5 1078.5 1540.5 1078.5 1565.5 1080.5 1501.5 1078.5 1530.5 1080.5 1573.5 1080.5 1592.5 1080.5 1578.5 1080.5 1583.5 1080.5 1580.5 1080.5 1596.5 1080.5 1577.5 1080.5 1594.5 1080.5 1586.5 1080.5 1587.5 1080.5 1589.5 1080.5 1588.5 1080.5 1425.5 1076.5 1384.5 1078.5 1462.5 1078.5 1403.5 1075.5 1419.5 1073.5 1343.5 1080.5 1398.5 1073.5 1452.5 1076.5 1404.5 1073.5 1404.5 1075.5 1379.5 1076.5 1429.5 1073.5 1369.5 1075.5 1344.5 1080.5 1407.5 1066.5 1427.5 1075.5 1407.5 1078.5 1354.5 1078.5 1432.5 1076.5 1431.5 1066.5 1443.5 1073.5 1455.5 1076.5 1383.5 1078.5 1397.5 1069.5 1467.5 1069.5 1397.5 1078.5 1438.5 1078.5 1365.5 1078.5 1372.5 1078.5 1441.5 1078.5 1394.5 1078.5 1365.5 1075.5 1388.5 1078.5 1398.5 1078.5 1492.5 1073.5 1397.5 1075.5 1376.5 1078.5 1446.5 1071.5 1347.5 1069.5 1414.5 1071.5 1450.5 1078.5 1372.5 1076.5 1428.5 1075.5 1340.5 1080.5 1395.5 1073.5 1417.5 1076.5 1387.5 1073.5 1345.5 1080.5 1444.5 1075.5 1404.5 1078.5 1409.5 1076.5 1471.5 1078.5 1437.5 1078.5 1449.5 1078.5 1433.5 1071.5 1362.5 1075.5 1393.5 1076.5 1436.5 1075.5 1373.5 1078.5 1401.5 1078.5 1370.5 1078.5 1424.5 1076.5 1401.5 1071.5 1423.5 1078.5 1353.5 1078.5 1381.5 1076.5 1411.5 1078.5 1341.5 1080.5 1393.5 1075.5 1354.5 1068.5 1401.5 1066.5 1339.5 1080.5 1392.5 1078.5 1409.5 1078.5 1417.5 1078.5 1346.5 1080.5 1405.5 1075.5 1342.5 1080.5 1464.5 1031.5 1375.5 1032.5"/>
</g>
<path d="M225.5 402.5v-6M225.5 120.5v6M301.5 402.5v-6M301.5 120.5v6M377.5 402.5v-6M377.5 120.5v6M452.5 402.5v-6M452.5 120.5v6M225.5 402.5h6M528.5 402.5h-6M225.5 367.5h6M528.5 367.5h-6M225.5 332.5h6M528.5 332.5h-6M225.5 296.5h6M528.5 296.5h-6M225.5 261.5h6M528.5 261.5h-6M225.5 226.5h6M528.5 226.5h-6M225.5 191.5h6M528.5 191.5h-6M225.5 155.5h6M528.5 155.5h-6M225.5 120.5h6M528.5 120.5h-6M589.5 402.5v-6M589.5 120.5v6M627.5 402.5v-6M627.5 120.5v6M665.5 402.5v-6M665.5 120.5v6M703.5 402.5v-6M703.5 120.5v6M741.5 402.5v-6M741.5 120.5v6M778.5 402.5v-6M778.5 120.5v6M816.5 402.5v-6M816.5 120.5v6M854.5 402.5v-6M854.5 120.5v6M892.5 402.5v-6M892.5 120.5v6M589.5 402.5h6M892.5 402.5h-6M589.5 367.5h6M892.5 367.5h-6M589.5 332.5h6M892.5 332.5h-6M589.5 296.5h6M892.5 296.5h-6M589.5 261.5h6M892.5 261.5h-6M589.5 226.5h6M892.5 226.5h-6M589.5 191.5h6M892.5 191.5h-6M589.5 155.5h6M892.5 155.5h-6M589.5 120.5h6M892.5 120.5h-6M953.5 402.5v-6M953.5 120.5v6M996.5 402.5v-6M996.5 120.5v6M1039.5 402.5v-6M1039.5 120.5v6M1083.5 402.5v-6M1083.5 120.5v6M1126.5 402.5v-6M1126.5 120.5v6M1169.5 402.5v-6M1169.5 120.5v6M1213.5 402.5v-6M1213.5 120.5v6M1256.5 402.5v-6M1256.5 120.5v6M953.5 402.5h6M1256.5 402.5h-6M953.5 367.5h6M1256.5 367.5h-6M953.5 332.5h6M1256.5 332.5h-6M953.5 296.5h6M1256.5 296.5h-6M953.5 261.5h6M1256.5 261.5h-6M953.5 226.5h6M1256.5 226.5h-6M953.5 191.5h6M1256.5 191.5h-6M953.5 155.5h6M1256.5 155.5h-6M953.5 120.5h6M1256.5 120.5h-6M1317.5 402.5v-6M1317.5 120.5v6M1360.5 402.5v-6M1360.5 120.5v6M1403.5 402.5v-6M1403.5 120.5v6M1447.5 402.5v-6M1447.5 120.5v6M1490.5 402.5v-6M1490.5 120.5v6M1533.5 402.5v-6M1533.5 120.5v6M1577.5 402.5v-6M1577.5 120.5v6M1620.5 402.5v-6M1620.5 120.5v6M1317.5 402.5h6M1620.5 402.5h-6M1317.5 367.5h6M1620.5 367.5h-6M1317.5 332.5h6M1620.5 332.5h-6M1317.5 296.5h6M1620.5 296.5h-6M1317.5 261.5h6M1620.5 261.5h-6M1317.5 226.5h6M1620.5 226.5h-6M1317.5 191.5h6M1620.5 191.5h-6M1317.5 155.5h6M1620.5 155.5h-6M1317.5 120.5h6M1620.5 120.5h-6M225.5 741.5v-6M225.5 459.5v6M301.5 741.5v-6M301.5 459.5v6M377.5 741.5v-6M377.5 459.5v6M452.5 741.5v-6M452.5 459.5v6M225.5 741.5h6M528.5 741.5h-6M225.5 706.5h6M528.5 706.5h-6M225.5 671.5h6M528.5 671.5h-6M225.5 635.5h6M528.5 635.5h-6M225.5 600.5h6M528.5 600.5h-6M225.5 565.5h6M528.5 565.5h-6M225.5 529.5h6M528.5 529.5h-6M225.5 494.5h6M528.5 494.5h-6M225.5 459.5h6M528.5 459.5h-6M589.5 741.5v-6M589.5 459.5v6M627.5 741.5v-6M627.5 459.5v6M665.5 741.5v-6M665.5 459.5v6M703.5 741.5v-6M703.5 459.5v6M741.5 741.5v-6M741.5 459.5v6M778.5 741.5v-6M778.5 459.5v6M816.5 741.5v-6M816.5 459.5v6M854.5 741.5v-6M854.5 459.5v6M892.5 741.5v-6M892.5 459.5v6M589.5 741.5h6M892.5 741.5h-6M589.5 706.5h6M892.5 706.5h-6M589.5 671.5h6M892.5 671.5h-6M589.5 635.5h6M892.5 635.5h-6M589.5 600.5h6M892.5 600.5h-6M589.5 565.5h6M892.5 565.5h-6M589.5 529.5h6M892.5 529.5h-6M589.5 494.5h6M892.5 494.5h-6M589.5 459.5h6M892.5 459.5h-6M953.5 741.5v-6M953.5 459.5v6M996.5 741.5v-6M996.5 459.5v6M1039.5 741.5v-6M1039.5 459.5v6M1083.5 741.5v-6M1083.5 459.5v6M1126.5 741.5v-6M1126.5 459.5v6M1169.5 741.5v-6M1169.5 459.5v6M1213.5 741.5v-6M1213.5 459.5v6M1256.5 741.5v-6M1256.5 459.5v6M953.5 741.5h6M1256.5 741.5h-6M953.5 706.5h6M1256.5 706.5h-6M953.5 671.5h6M1256.5 671.5h-6M953.5 635.5h6M1256.5 635.5h-6M953.5 600.5h6M1256.5 600.5h-6M953.5 565.5h6M1256.5 565.5h-6M953.5 529.5h6M1256.5 529.5h-6M953.5 494.5h6M1256.5 494.5h-6M953.5 459.5h6M1256.5 459.5h-6M1317.5 741.5v-6M1317.5 459.5v6M1360.5 741.5v-6M1360.5 459.5v6M1403.5 741.5v-6M1403.5 459.5v6M1447.5 741.5v-6M1447.5 459.5v6M1490.5 741.5v-6M1490.5 459.5v6M1533.5 741.5v-6M1533.5 459.5v6M1577.5 741.5v-6M1577.5 459.5v6M1620.5 741.5v-6M1620.5 459.5v6M1317.5 741.5h6M1620.5 741.5h-6M1317.5 706.5h6M1620.5 706.5h-6M1317.5 671.5h6M1620.5 671.5h-6M1317.5 635.5h6M1620.5 635.5h-6M1317.5 600.5h6M1620.5 600.5h-6M1317.5 565.5h6M1620.5 565.5h-6M1317.5 529.5h6M1620.5 529.5h-6M1317.5 494.5h6M1620.5 494.5h-6M1317.5 459.5h6M1620.5 459.5h-6M225.5 1080.5v-6M225.5 798.5v6M301.5 1080.5v-6M301.5 798.5v6M377.5 1080.5v-6M377.5 798.5v6M452.5 1080.5v-6M452.5 798.5v6M225.5 1080.5h6M528.5 1080.5h-6M225.5 1045.5h6M528.5 1045.5h-6M225.5 1009.5h6M528.5 1009.5h-6M225.5 974.5h6M528.5 974.5h-6M225.5 939.5h6M528.5 939.5h-6M225.5 904.5h6M528.5 904.5h-6M225.5 868.5h6M528.5 868.5h-6M225.5 833.5h6M528.5 833.5h-6M225.5 798.5h6M528.5 798.5h-6M589.5 1080.5v-6M589.5 798.5v6M627.5 1080.5v-6M627.5 798.5v6M665.5 1080.5v-6M665.5 798.5v6M703.5 1080.5v-6M703.5 798.5v6M741.5 1080.5v-6M741.5 798.5v6M778.5 1080.5v-6M778.5 798.5v6M816.5 1080.5v-6M816.5 798.5v6M854.5 1080.5v-6M854.5 798.5v6M892.5 1080.5v-6M892.5 798.5v6M589.5 1080.5h6M892.5 1080.5h-6M589.5 1045.5h6M892.5 1045.5h-6M589.5 1009.5h6M892.5 1009.5h-6M589.5 974.5h6M892.5 974.5h-6M589.5 939.5h6M892.5 939.5h-6M589.5 904.5h6M892.5 904.5h-6M589.5 868.5h6M892.5 868.5h-6M589.5 833.5h6M892.5 833.5h-6M589.5 798.5h6M892.5 798.5h-6M953.5 1080.5v-6M953.5 798.5v6M996.5 1080.5v-6M996.5 798.5v6M1039.5 1080.5v-6M1039.5 798.5v6M1083.5 1080.5v-6M1083.5 798.5v6M1126.5 1080.5v-6M1126.5 798.5v6M1169.5 1080.5v-6M1169.5 798.5v6M1213.5 1080.5v-6M1213.5 798.5v6M1256.5 1080.5v-6M1256.5 798.5v6M953.5 1080.5h6M1256.5 1080.5h-6M953.5 1045.5h6M1256.5 1045.5h-6M953.5 1009.5h6M1256.5 1009.5h-6M953.5 974.5h6M1256.5 974.5h-6M953.5 939.5h6M1256.5 939.5h-6M953.5 904.5h6M1256.5 904.5h-6M953.5 868.5h6M1256.5 868.5h-6M953.5 833.5h6M1256.5 833.5h-6M953.5 798.5h6M1256.5 798.5h-6M1317.5 1080.5v-6M1317.5 798.5v6M1360.5 1080.5v-6M1360.5 798.5v6M1403.5 1080.5v-6M1403.5 798.5v6M1447.5 1080.5v-6M1447.5 798.5v6M1490.5 1080.5v-6M1490.5 798.5v6M1533.5 1080.5v-6M1533.5 798.5v6M1577.5 1080.5v-6M1577.5 798.5v6M1620.5 1080.5v-6M1620.5 798.5v6M1317.5 1080.5h6M1620.5 1080.5h-6M1317.5 1045.5h6M1620.5 1045.5h-6M1317.5 1009.5h6M1620.5 1009.5h-6M1317.5 974.5h6M1620.5 974.5h-6M1317.5 939.5h6M1620.5 939.5h-6M1317.5 904.5h6M1620.5 904.5h-6M1317.5 868.5h6M1620.5 868.5h-6M1317.5 833.5h6M1620.5 833.5h-6M1317.5 798.5h6M1620.5 798.5h-6" fill="none" stroke="#000" stroke-width="0.7"/>
<path d="M225.5 120.5H528.5V402.5H225.5ZM589.5 120.5H892.5V402.5H589.5ZM953.5 120.5H1256.5V402.5H953.5ZM1317.5 120.5H1620.5V402.5H1317.5ZM225.5 459.5H528.5V741.5H225.5ZM589.5 459.5H892.5V741.5H589.5ZM953.5 459.5H1256.5V741.5H953.5ZM1317.5 459.5H1620.5V741.5H1317.5ZM225.5 798.5H528.5V1080.5H225.5ZM589.5 798.5H892.5V1080.5H589.5ZM953.5 798.5H1256.5V1080.5H953.5ZM1317.5 798.5H1620.5V1080.5H1317.5Z" fill="none" stroke="#000" stroke-width="1"/>
<g font-family="DejaVu Sans, Bitstream Vera Sans, Liberation Sans, sans-serif" fill="#000">
<text x="900.5" y="46" font-size="28.8" letter-spacing="-0.5" text-anchor="middle">0h wind</text>
<text x="376.6" y="113" font-size="20" text-anchor="middle">cape</text>
<text x="376.6" y="1120" font-size="16.67" letter-spacing="-0.3" text-anchor="middle">cape</text>
<text x="740.5" y="113" font-size="20" text-anchor="middle">gamma</text>
<text x="740.5" y="1120" font-size="16.67" letter-spacing="-0.3" text-anchor="middle">gamma</text>
<text x="1104.5" y="113" font-size="20" text-anchor="middle">cape shear</text>
<text x="1104.5" y="1120" font-size="16.67" letter-spacing="-0.3" text-anchor="middle">capeshear</text>
<text x="1468.4" y="113" font-size="20" text-anchor="middle">shear</text>
<text x="1468.4" y="1120" font-size="16.67" letter-spacing="-0.3" text-anchor="middle">shear</text>
<text transform="translate(180 261.7) rotate(-90)" font-size="16.67" text-anchor="middle">N reports</text>
<g font-size="16.67" letter-spacing="-0.3"><text x="225.2" y="420" text-anchor="middle">0</text><text x="301" y="420" text-anchor="middle">2000</text><text x="376.8" y="420" text-anchor="middle">4000</text><text x="452.6" y="420" text-anchor="middle">6000</text><text x="220.6" y="407" text-anchor="end">0</text><text x="220.6" y="371" text-anchor="end">20</text><text x="220.6" y="336" text-anchor="end">40</text><text x="220.6" y="301" text-anchor="end">60</text><text x="220.6" y="266" text-anchor="end">80</text><text x="220.6" y="230" text-anchor="end">100</text><text x="220.6" y="195" text-anchor="end">120</text><text x="220.6" y="160" text-anchor="end">140</text><text x="220.6" y="124" text-anchor="end">160</text></g>
<g font-size="16.67" letter-spacing="-0.3"><text x="589.1" y="420" text-anchor="middle">−4</text><text x="627" y="420" text-anchor="middle">−2</text><text x="664.9" y="420" text-anchor="middle">0</text><text x="702.8" y="420" text-anchor="middle">2</text><text x="740.7" y="420" text-anchor="middle">4</text><text x="778.6" y="420" text-anchor="middle">6</text><text x="816.5" y="420" text-anchor="middle">8</text><text x="854.4" y="420" text-anchor="middle">10</text><text x="892.3" y="420" text-anchor="middle">12</text><text x="584.5" y="407" text-anchor="end">0</text><text x="584.5" y="371" text-anchor="end">20</text><text x="584.5" y="336" text-anchor="end">40</text><text x="584.5" y="301" text-anchor="end">60</text><text x="584.5" y="266" text-anchor="end">80</text><text x="584.5" y="230" text-anchor="end">100</text><text x="584.5" y="195" text-anchor="end">120</text><text x="584.5" y="160" text-anchor="end">140</text><text x="584.5" y="124" text-anchor="end">160</text></g>
<g font-size="16.67" letter-spacing="-0.3"><text x="953" y="420" text-anchor="middle">−2</text><text x="996.3" y="420" text-anchor="middle">0</text><text x="1039.6" y="420" text-anchor="middle">2</text><text x="1082.9" y="420" text-anchor="middle">4</text><text x="1126.3" y="420" text-anchor="middle">6</text><text x="1169.6" y="420" text-anchor="middle">8</text><text x="1212.9" y="420" text-anchor="middle">10</text><text x="1256.2" y="420" text-anchor="middle">12</text><text x="948.4" y="407" text-anchor="end">0</text><text x="948.4" y="371" text-anchor="end">20</text><text x="948.4" y="336" text-anchor="end">40</text><text x="948.4" y="301" text-anchor="end">60</text><text x="948.4" y="266" text-anchor="end">80</text><text x="948.4" y="230" text-anchor="end">100</text><text x="948.4" y="195" text-anchor="end">120</text><text x="948.4" y="160" text-anchor="end">140</text><text x="948.4" y="124" text-anchor="end">160</text></g>
<g font-size="16.67" letter-spacing="-0.3"><text x="1316.9" y="420" text-anchor="middle">0</text><text x="1360.2" y="420" text-anchor="middle">10</text><text x="1403.5" y="420" text-anchor="middle">20</text><text x="1446.9" y="420" text-anchor="middle">30</text><text x="1490.2" y="420" text-anchor="middle">40</text><text x="1533.5" y="420" text-anchor="middle">50</text><text x="1576.8" y="420" text-anchor="middle">60</text><text x="1620.2" y="420" text-anchor="middle">70</text><text x="1312.3" y="407" text-anchor="end">0</text><text x="1312.3" y="371" text-anchor="end">20</text><text x="1312.3" y="336" text-anchor="end">40</text><text x="1312.3" y="301" text-anchor="end">60</text><text x="1312.3" y="266" text-anchor="end">80</text><text x="1312.3" y="230" text-anchor="end">100</text><text x="1312.3" y="195" text-anchor="end">120</text><text x="1312.3" y="160" text-anchor="end">140</text><text x="1312.3" y="124" text-anchor="end">160</text></g>
<text transform="translate(180 600.5) rotate(-90)" font-size="16.67" text-anchor="middle">N reports</text>
<g font-size="16.67" letter-spacing="-0.3"><text x="225.2" y="759" text-anchor="middle">0</text><text x="301" y="759" text-anchor="middle">2000</text><text x="376.8" y="759" text-anchor="middle">4000</text><text x="452.6" y="759" text-anchor="middle">6000</text><text x="220.6" y="746" text-anchor="end">0</text><text x="220.6" y="710" text-anchor="end">20</text><text x="220.6" y="675" text-anchor="end">40</text><text x="220.6" y="640" text-anchor="end">60</text><text x="220.6" y="604" text-anchor="end">80</text><text x="220.6" y="569" text-anchor="end">100</text><text x="220.6" y="534" text-anchor="end">120</text><text x="220.6" y="499" text-anchor="end">140</text><text x="220.6" y="463" text-anchor="end">160</text></g>
<g font-size="16.67" letter-spacing="-0.3"><text x="589.1" y="759" text-anchor="middle">−4</text><text x="627" y="759" text-anchor="middle">−2</text><text x="664.9" y="759" text-anchor="middle">0</text><text x="702.8" y="759" text-anchor="middle">2</text><text x="740.7" y="759" text-anchor="middle">4</text><text x="778.6" y="759" text-anchor="middle">6</text><text x="816.5" y="759" text-anchor="middle">8</text><text x="854.4" y="759" text-anchor="middle">10</text><text x="892.3" y="759" text-anchor="middle">12</text><text x="584.5" y="746" text-anchor="end">0</text><text x="584.5" y="710" text-anchor="end">20</text><text x="584.5" y="675" text-anchor="end">40</text><text x="584.5" y="640" text-anchor="end">60</text><text x="584.5" y="604" text-anchor="end">80</text><text x="584.5" y="569" text-anchor="end">100</text><text x="584.5" y="534" text-anchor="end">120</text><text x="584.5" y="499" text-anchor="end">140</text><text x="584.5" y="463" text-anchor="end">160</text></g>
<g font-size="16.67" letter-spacing="-0.3"><text x="953" y="759" text-anchor="middle">−2</text><text x="996.3" y="759" text-anchor="middle">0</text><text x="1039.6" y="759" text-anchor="middle">2</text><text x="1082.9" y="759" text-anchor="middle">4</text><text x="1126.3" y="759" text-anchor="middle">6</text><text x="1169.6" y="759" text-anchor="middle">8</text><text x="1212.9" y="759" text-anchor="middle">10</text><text x="1256.2" y="759" text-anchor="middle">12</text><text x="948.4" y="746" text-anchor="end">0</text><text x="948.4" y="710" text-anchor="end">20</text><text x="948.4" y="675" text-anchor="end">40</text><text x="948.4" y="640" text-anchor="end">60</text><text x="948.4" y="604" text-anchor="end">80</text><text x="948.4" y="569" text-anchor="end">100</text><text x="948.4" y="534" text-anchor="end">120</text><text x="948.4" y="499" text-anchor="end">140</text><text x="948.4" y="463" text-anchor="end">160</text></g>
<g font-size="16.67" letter-spacing="-0.3"><text x="1316.9" y="759" text-anchor="middle">0</text><text x="1360.2" y="759" text-anchor="middle">10</text><text x="1403.5" y="759" text-anchor="middle">20</text><text x="1446.9" y="759" text-anchor="middle">30</text><text x="1490.2" y="759" text-anchor="middle">40</text><text x="1533.5" y="759" text-anchor="middle">50</text><text x="1576.8" y="759" text-anchor="middle">60</text><text x="1620.2" y="759" text-anchor="middle">70</text><text x="1312.3" y="746" text-anchor="end">0</text><text x="1312.3" y="710" text-anchor="end">20</text><text x="1312.3" y="675" text-anchor="end">40</text><text x="1312.3" y="640" text-anchor="end">60</text><text x="1312.3" y="604" text-anchor="end">80</text><text x="1312.3" y="569" text-anchor="end">100</text><text x="1312.3" y="534" text-anchor="end">120</text><text x="1312.3" y="499" text-anchor="end">140</text><text x="1312.3" y="463" text-anchor="end">160</text></g>
<text transform="translate(180 939.3) rotate(-90)" font-size="16.67" text-anchor="middle">N reports</text>
<g font-size="16.67" letter-spacing="-0.3"><text x="225.2" y="1098" text-anchor="middle">0</text><text x="301" y="1098" text-anchor="middle">2000</text><text x="376.8" y="1098" text-anchor="middle">4000</text><text x="452.6" y="1098" text-anchor="middle">6000</text><text x="220.6" y="1084" text-anchor="end">0</text><text x="220.6" y="1049" text-anchor="end">20</text><text x="220.6" y="1014" text-anchor="end">40</text><text x="220.6" y="979" text-anchor="end">60</text><text x="220.6" y="943" text-anchor="end">80</text><text x="220.6" y="908" text-anchor="end">100</text><text x="220.6" y="873" text-anchor="end">120</text><text x="220.6" y="837" text-anchor="end">140</text><text x="220.6" y="802" text-anchor="end">160</text></g>
<g font-size="16.67" letter-spacing="-0.3"><text x="589.1" y="1098" text-anchor="middle">−4</text><text x="627" y="1098" text-anchor="middle">−2</text><text x="664.9" y="1098" text-anchor="middle">0</text><text x="702.8" y="1098" text-anchor="middle">2</text><text x="740.7" y="1098" text-anchor="middle">4</text><text x="778.6" y="1098" text-anchor="middle">6</text><text x="816.5" y="1098" text-anchor="middle">8</text><text x="854.4" y="1098" text-anchor="middle">10</text><text x="892.3" y="1098" text-anchor="middle">12</text><text x="584.5" y="1084" text-anchor="end">0</text><text x="584.5" y="1049" text-anchor="end">20</text><text x="584.5" y="1014" text-anchor="end">40</text><text x="584.5" y="979" text-anchor="end">60</text><text x="584.5" y="943" text-anchor="end">80</text><text x="584.5" y="908" text-anchor="end">100</text><text x="584.5" y="873" text-anchor="end">120</text><text x="584.5" y="837" text-anchor="end">140</text><text x="584.5" y="802" text-anchor="end">160</text></g>
<g font-size="16.67" letter-spacing="-0.3"><text x="953" y="1098" text-anchor="middle">−2</text><text x="996.3" y="1098" text-anchor="middle">0</text><text x="1039.6" y="1098" text-anchor="middle">2</text><text x="1082.9" y="1098" text-anchor="middle">4</text><text x="1126.3" y="1098" text-anchor="middle">6</text><text x="1169.6" y="1098" text-anchor="middle">8</text><text x="1212.9" y="1098" text-anchor="middle">10</text><text x="1256.2" y="1098" text-anchor="middle">12</text><text x="948.4" y="1084" text-anchor="end">0</text><text x="948.4" y="1049" text-anchor="end">20</text><text x="948.4" y="1014" text-anchor="end">40</text><text x="948.4" y="979" text-anchor="end">60</text><text x="948.4" y="943" text-anchor="end">80</text><text x="948.4" y="908" text-anchor="end">100</text><text x="948.4" y="873" text-anchor="end">120</text><text x="948.4" y="837" text-anchor="end">140</text><text x="948.4" y="802" text-anchor="end">160</text></g>
<g font-size="16.67" letter-spacing="-0.3"><text x="1316.9" y="1098" text-anchor="middle">0</text><text x="1360.2" y="1098" text-anchor="middle">10</text><text x="1403.5" y="1098" text-anchor="middle">20</text><text x="1446.9" y="1098" text-anchor="middle">30</text><text x="1490.2" y="1098" text-anchor="middle">40</text><text x="1533.5" y="1098" text-anchor="middle">50</text><text x="1576.8" y="1098" text-anchor="middle">60</text><text x="1620.2" y="1098" text-anchor="middle">70</text><text x="1312.3" y="1084" text-anchor="end">0</text><text x="1312.3" y="1049" text-anchor="end">20</text><text x="1312.3" y="1014" text-anchor="end">40</text><text x="1312.3" y="979" text-anchor="end">60</text><text x="1312.3" y="943" text-anchor="end">80</text><text x="1312.3" y="908" text-anchor="end">100</text><text x="1312.3" y="873" text-anchor="end">120</text><text x="1312.3" y="837" text-anchor="end">140</text><text x="1312.3" y="802" text-anchor="end">160</text></g>
</g>
<rect x="330.5" y="130.5" width="188" height="64" fill="#fff" stroke="#000" stroke-width="1"/>
<path d="M354.3 146.5h8.33m-4.17-4.17v8.33" stroke="#0000ff" stroke-width="0.7" fill="none"/>
<path d="M354.3 171.3l8.33 8.33m0-8.33l-8.33 8.33" stroke="#ff0000" stroke-width="0.7" fill="none"/>
<text x="394.1" y="153" font-size="20" font-family="DejaVu Sans, Bitstream Vera Sans, Liberation Sans, sans-serif">all points</text>
<text x="394.1" y="181.5" font-size="20" font-family="DejaVu Sans, Bitstream Vera Sans, Liberation Sans, sans-serif">pts &gt; mean</text>
<rect x="314.5" y="469.5" width="204" height="64" fill="#fff" stroke="#000" stroke-width="1"/>
<path d="M338.3 485.5h8.33m-4.17-4.17v8.33" stroke="#0000ff" stroke-width="0.7" fill="none"/>
<path d="M338.3 510.3l8.33 8.33m0-8.33l-8.33 8.33" stroke="#ff0000" stroke-width="0.7" fill="none"/>
<text x="378.1" y="492" font-size="20" font-family="DejaVu Sans, Bitstream Vera Sans, Liberation Sans, sans-serif">all points</text>
<text x="378.1" y="520.5" font-size="20" font-family="DejaVu Sans, Bitstream Vera Sans, Liberation Sans, sans-serif">pts &gt; 1sigma</text>
<rect x="314.5" y="808.5" width="204" height="64" fill="#fff" stroke="#000" stroke-width="1"/>
<path d="M338.3 824.5h8.33m-4.17-4.17v8.33" stroke="#0000ff" stroke-width="0.7" fill="none"/>
<path d="M338.3 849.3l8.33 8.33m0-8.33l-8.33 8.33" stroke="#ff0000" stroke-width="0.7" fill="none"/>
<text x="378.1" y="831" font-size="20" font-family="DejaVu Sans, Bitstream Vera Sans, Liberation Sans, sans-serif">all points</text>
<text x="378.1" y="859.5" font-size="20" font-family="DejaVu Sans, Bitstream Vera Sans, Liberation Sans, sans-serif">pts &gt; 2sigma</text>
</svg>
</body></html>
